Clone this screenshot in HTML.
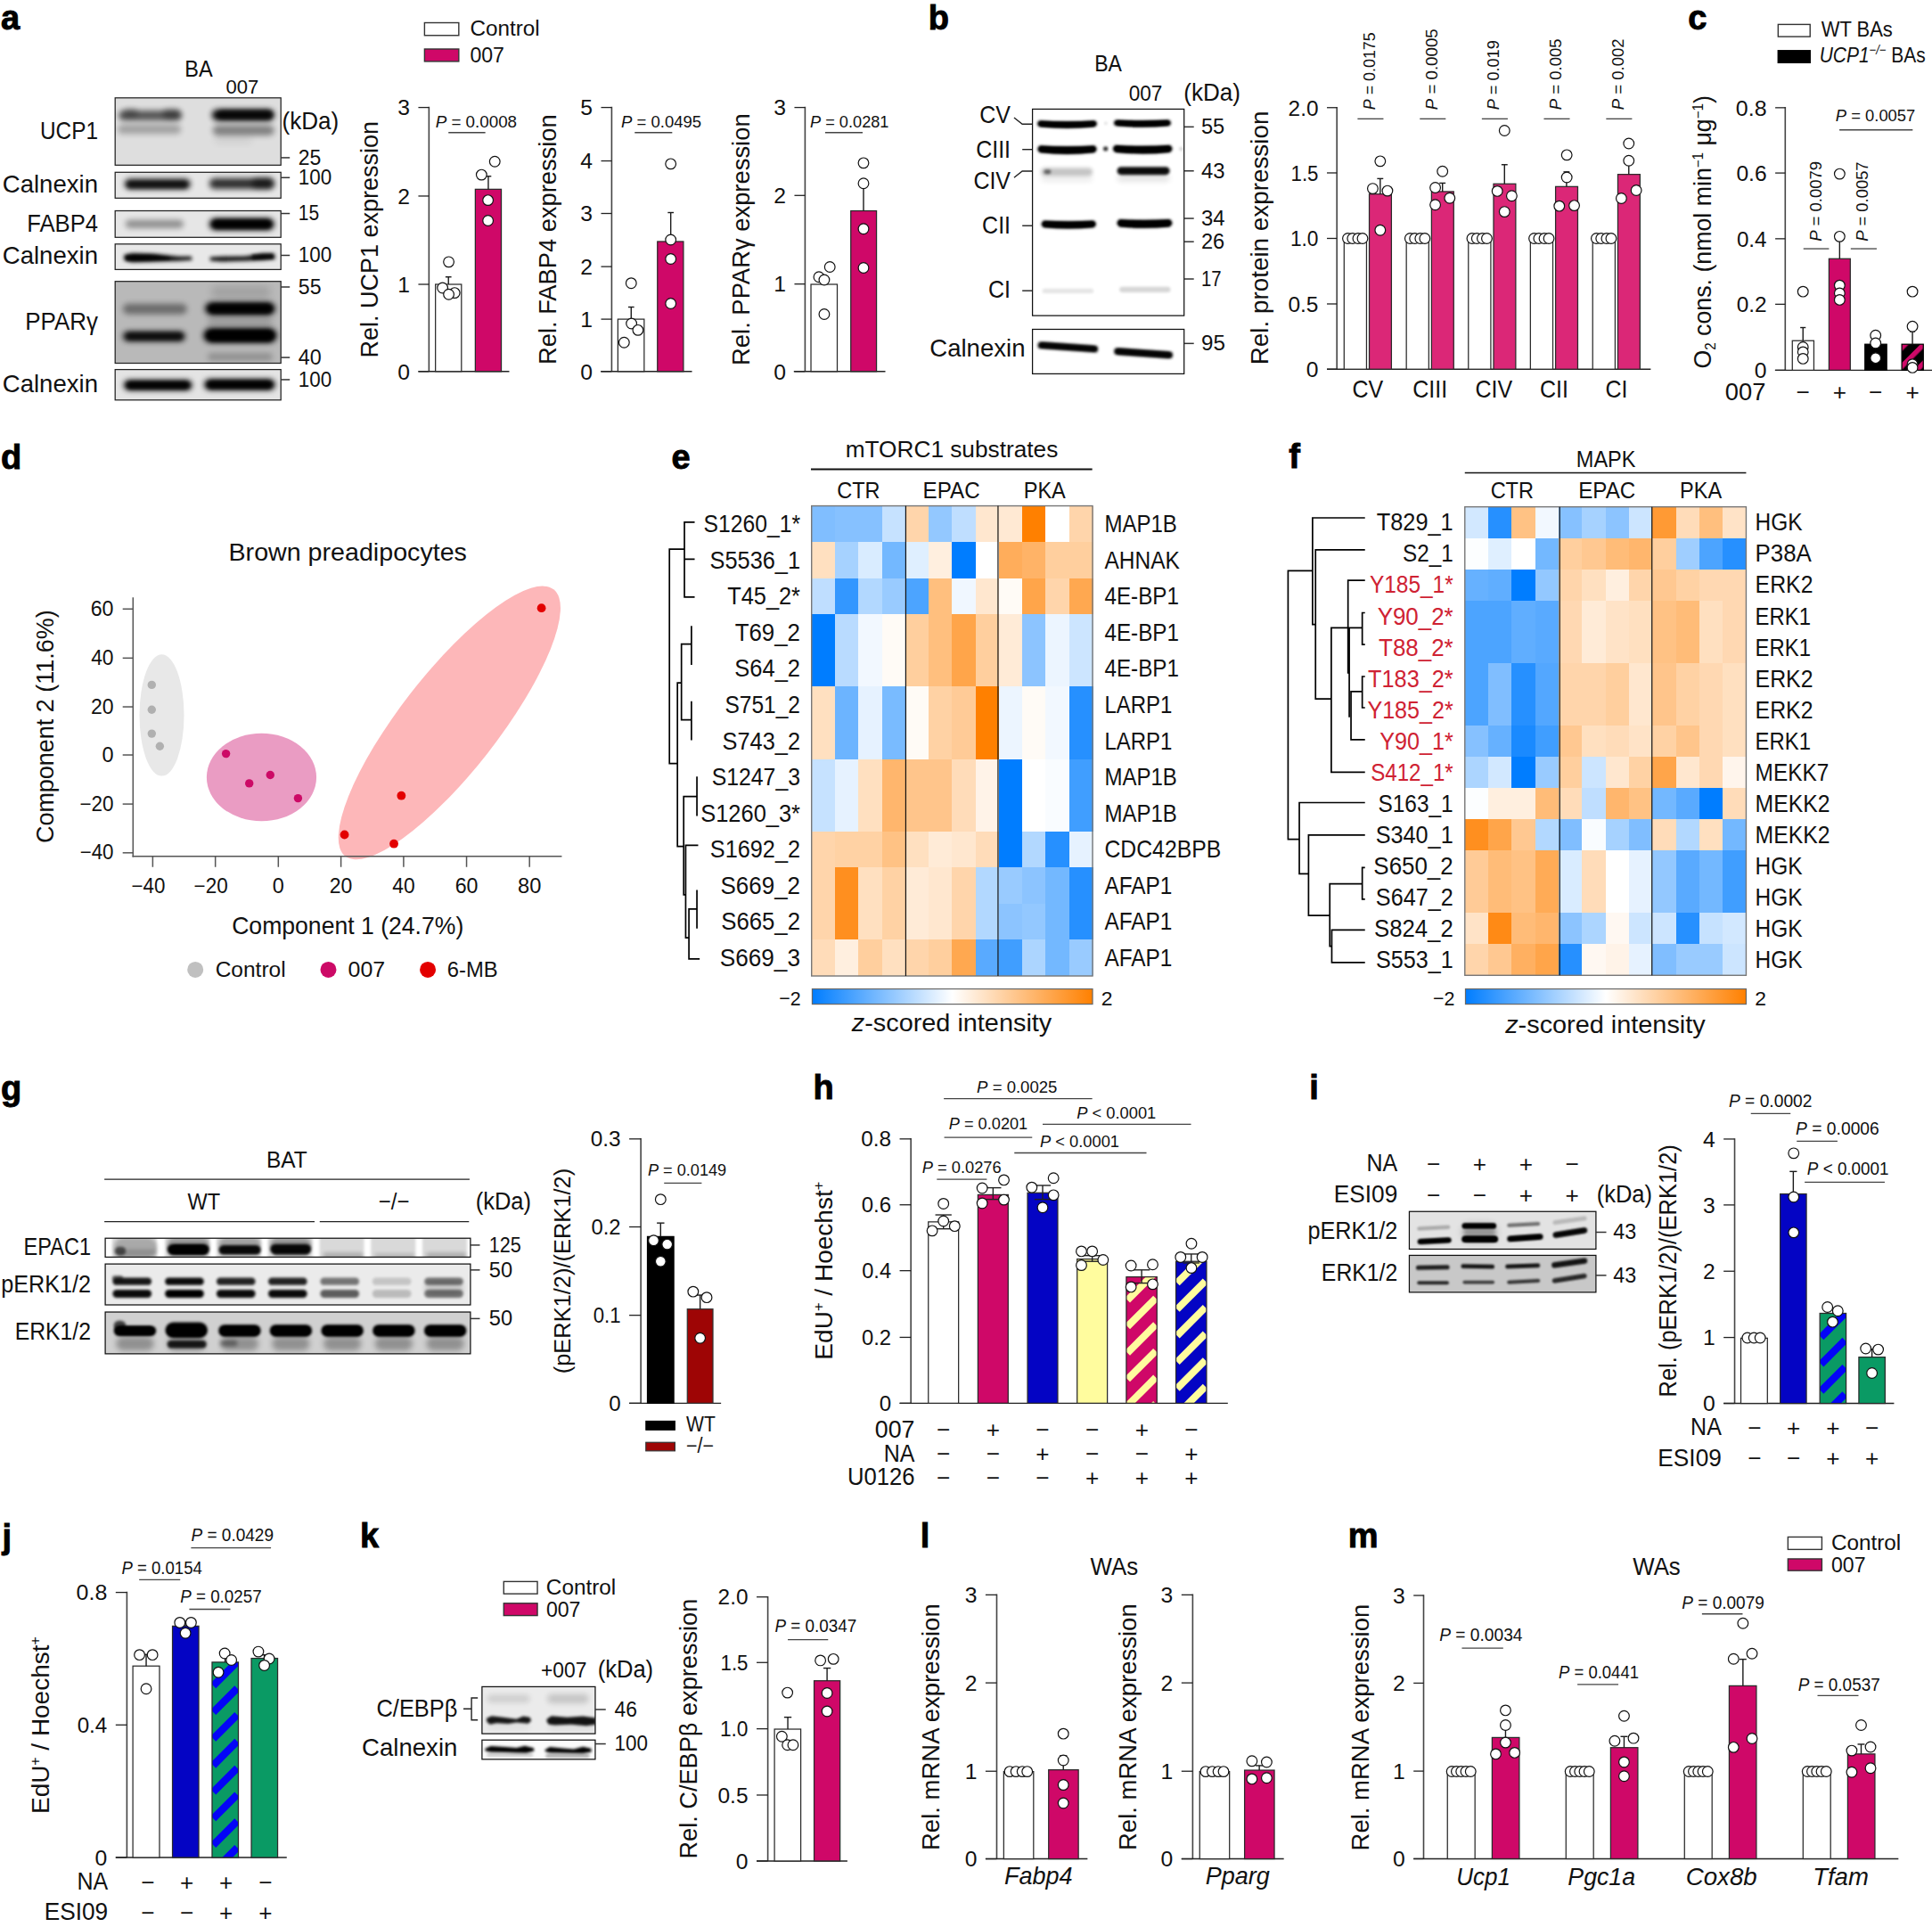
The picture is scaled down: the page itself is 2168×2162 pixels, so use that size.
<!DOCTYPE html>
<html><head><meta charset="utf-8"><title>Figure</title>
<style>html,body{margin:0;padding:0;background:#fff}svg{display:block}text{font-family:"Liberation Sans",sans-serif}</style></head>
<body>
<svg width="2168" height="2162" viewBox="0 0 2168 2162">
<rect width="2168" height="2162" fill="#fff"/>
<defs>
<filter id="b0" x="-30%" y="-80%" width="160%" height="260%"><feGaussianBlur stdDeviation="0.8"/></filter>
<filter id="b1" x="-30%" y="-80%" width="160%" height="260%"><feGaussianBlur stdDeviation="1.5"/></filter>
<filter id="b2" x="-30%" y="-80%" width="160%" height="260%"><feGaussianBlur stdDeviation="2.2"/></filter>
<filter id="b3" x="-30%" y="-80%" width="160%" height="260%"><feGaussianBlur stdDeviation="3.0"/></filter>
<filter id="b4" x="-30%" y="-80%" width="160%" height="260%"><feGaussianBlur stdDeviation="4.0"/></filter>
<clipPath id="c1"><rect x="129.2" y="109.8" width="186" height="75.5"/></clipPath>
<clipPath id="c2"><rect x="129.2" y="193.3" width="186" height="29"/></clipPath>
<clipPath id="c3"><rect x="129.2" y="236.5" width="186" height="29.8"/></clipPath>
<clipPath id="c4"><rect x="129.2" y="273.8" width="186" height="28.6"/></clipPath>
<clipPath id="c5"><rect x="129.2" y="315.7" width="186" height="91.8"/></clipPath>
<clipPath id="c6"><rect x="129.2" y="414.6" width="186" height="34.2"/></clipPath>
<clipPath id="c7"><rect x="1158.59" y="122.41" width="170.12" height="231.71"/></clipPath>
<clipPath id="c8"><rect x="1158.59" y="369.47" width="170.12" height="49.94"/></clipPath>
<pattern id="hbm" width="14.8" height="14.8" patternUnits="userSpaceOnUse" patternTransform="translate(2134.3 386.1) rotate(-45)"><rect width="14.8" height="14.8" fill="#000"/><rect y="0" width="14.8" height="5.5" fill="#cf0868"/></pattern>
<linearGradient id="cb" x1="0" x2="1" y1="0" y2="0"><stop offset="0" stop-color="#007dff"/><stop offset="0.5" stop-color="#ffffff"/><stop offset="1" stop-color="#ff8000"/></linearGradient>
<clipPath id="c9"><rect x="118.1" y="1389.23" width="409.8" height="21.18"/></clipPath>
<clipPath id="c10"><rect x="118.1" y="1418.12" width="409.8" height="45.89"/></clipPath>
<clipPath id="c11"><rect x="118.1" y="1472.03" width="409.8" height="46.85"/></clipPath>
<pattern id="hmy" width="20.9" height="20.9" patternUnits="userSpaceOnUse" patternTransform="translate(1264 1453.1) rotate(-45)"><rect width="20.9" height="20.9" fill="#cf0868"/><rect y="0" width="20.9" height="7.94" fill="#fffc9e"/></pattern>
<pattern id="hby" width="20.9" height="20.9" patternUnits="userSpaceOnUse" patternTransform="translate(1319.4 1433.8) rotate(-45)"><rect width="20.9" height="20.9" fill="#0404c4"/><rect y="0" width="20.9" height="7.94" fill="#fffc9e"/></pattern>
<clipPath id="hb1"><rect x="1263.91" y="1432.61" width="34.35" height="141.74"/></clipPath>
<clipPath id="hb2"><rect x="1319.57" y="1415.22" width="34.35" height="159.13"/></clipPath>
<clipPath id="c12"><rect x="1581.45" y="1359.26" width="209.46" height="42.2"/></clipPath>
<clipPath id="c13"><rect x="1581.45" y="1408.43" width="209.46" height="41.43"/></clipPath>
<pattern id="hgb" width="21.3" height="21.3" patternUnits="userSpaceOnUse" patternTransform="translate(2042 1494.5) rotate(-45)"><rect width="21.3" height="21.3" fill="#0a9a64"/><rect y="0" width="21.3" height="8.31" fill="#0404f8"/></pattern>
<clipPath id="hb3"><rect x="2042.17" y="1473.47" width="29.42" height="101.05"/></clipPath>
<pattern id="hgb2" width="21.1" height="21.1" patternUnits="userSpaceOnUse" patternTransform="translate(237.9 1885.4) rotate(-45)"><rect width="21.1" height="21.1" fill="#0a9a64"/><rect y="0" width="21.1" height="8.23" fill="#0404f8"/></pattern>
<clipPath id="hb4"><rect x="237.99" y="1864.89" width="29.5" height="219.11"/></clipPath>
<clipPath id="c14"><rect x="540.89" y="1892.42" width="127.06" height="52.71"/></clipPath>
<clipPath id="c15"><rect x="540.89" y="1952.22" width="127.06" height="21.64"/></clipPath>
</defs>
<text x="1" y="33" font-size="38" font-weight="bold" fill="#000" stroke="#000" stroke-width="0.9">a</text>
<text x="223" y="85.5" font-size="26.16" text-anchor="middle" fill="#111" textLength="31.38" lengthAdjust="spacingAndGlyphs">BA</text>
<text x="272" y="104.5" font-size="22.89" text-anchor="middle" fill="#111" textLength="36.79" lengthAdjust="spacingAndGlyphs">007</text>
<rect x="129.2" y="109.8" width="186" height="75.5" fill="#dedede"/>
<g clip-path="url(#c1)">
<rect x="133.05" y="123.95" width="71.06" height="11.23" rx="5.62" ry="5.62" fill="#000" opacity="0.62" filter="url(#b3)"/>
<rect x="138.81" y="122.36" width="15.36" height="8.26" rx="4.13" ry="4.13" fill="#000" opacity="0.3" filter="url(#b3)"/>
<rect x="182.98" y="122.5" width="19.21" height="9.91" rx="4.95" ry="4.95" fill="#000" opacity="0.35" filter="url(#b3)"/>
<rect x="132.09" y="139.82" width="71.06" height="10.41" rx="5.2" ry="5.2" fill="#000" opacity="0.27" filter="url(#b3)"/>
<rect x="237.72" y="122.72" width="70.1" height="12.72" rx="6.36" ry="6.36" fill="#000" opacity="0.95" filter="url(#b3)"/>
<rect x="244.44" y="123.48" width="61.46" height="10.24" rx="5.12" ry="5.12" fill="#000" opacity="0.6" filter="url(#b2)"/>
<rect x="238.68" y="140.49" width="69.14" height="11.56" rx="5.78" ry="5.78" fill="#000" opacity="0.42" filter="url(#b3)"/>
<rect x="240.6" y="153.92" width="42.25" height="6.61" rx="3.3" ry="3.3" fill="#000" opacity="0.08" filter="url(#b4)"/>
</g>
<rect x="129.2" y="109.8" width="186" height="75.5" fill="none" stroke="#222" stroke-width="1.25"/>
<rect x="129.2" y="193.3" width="186" height="29" fill="#e6e6e6"/>
<g clip-path="url(#c2)">
<rect x="139.77" y="200.77" width="73.94" height="11.23" rx="5.62" ry="5.62" fill="#000" opacity="0.9" filter="url(#b3)"/>
<rect x="142.65" y="203.92" width="67.22" height="7.43" rx="3.72" ry="3.72" fill="#000" opacity="0.5" filter="url(#b2)"/>
<rect x="234.83" y="200.05" width="72.98" height="11.89" rx="5.95" ry="5.95" fill="#000" opacity="0.8" filter="url(#b3)"/>
<rect x="282.85" y="200.34" width="24.01" height="10.74" rx="5.37" ry="5.37" fill="#000" opacity="0.5" filter="url(#b3)"/>
</g>
<rect x="129.2" y="193.3" width="186" height="29" fill="none" stroke="#222" stroke-width="1.25"/>
<rect x="129.2" y="236.5" width="186" height="29.8" fill="#e6e6e6"/>
<g clip-path="url(#c3)">
<rect x="140.73" y="246.7" width="65.3" height="9.25" rx="4.62" ry="4.62" fill="#000" opacity="0.38" filter="url(#b3)"/>
<rect x="234.83" y="245.08" width="72.98" height="12.88" rx="6.44" ry="6.44" fill="#000" opacity="1" filter="url(#b3)"/>
<rect x="238.68" y="246.73" width="65.3" height="9.58" rx="4.79" ry="4.79" fill="#000" opacity="0.8" filter="url(#b2)"/>
</g>
<rect x="129.2" y="236.5" width="186" height="29.8" fill="none" stroke="#222" stroke-width="1.25"/>
<rect x="129.2" y="273.8" width="186" height="28.6" fill="#e8e8e8"/>
<g clip-path="url(#c4)">
<polygon points="139.19,285.89 148.41,283.97 173.38,284.74 200.26,287.81 214.67,287.81 215.63,291.66 200.26,292.81 173.38,293.58 148.41,294.34 139.19,292.04" fill="#000" opacity="0.97" filter="url(#b2)"/>
<polygon points="141.69,286.66 167.62,285.89 190.66,288.97 190.66,291.27 167.62,292.42 141.69,292.81" fill="#000" opacity="0.6" filter="url(#b1)"/>
<polygon points="235.79,288.58 248.28,287.81 275.17,287.43 294.37,284.36 307.81,284.36 308.97,290.5 294.37,292.04 275.17,292.81 248.28,293.58 235.79,292.42" fill="#000" opacity="0.95" filter="url(#b2)"/>
<polygon points="282.85,285.51 305.89,285.13 306.85,290.5 282.85,291.27" fill="#000" opacity="0.6" filter="url(#b1)"/>
</g>
<rect x="129.2" y="273.8" width="186" height="28.6" fill="none" stroke="#222" stroke-width="1.25"/>
<rect x="129.2" y="315.7" width="186" height="91.8" fill="#b9b9b9"/>
<g clip-path="url(#c5)">
<rect x="137.85" y="340.64" width="72.02" height="11.89" rx="5.95" ry="5.95" fill="#000" opacity="0.42" filter="url(#b3)"/>
<rect x="137.85" y="371.7" width="70.1" height="11.23" rx="5.62" ry="5.62" fill="#000" opacity="0.9" filter="url(#b3)"/>
<rect x="142.65" y="373.35" width="61.46" height="7.93" rx="3.96" ry="3.96" fill="#000" opacity="0.5" filter="url(#b2)"/>
<rect x="230.03" y="339.26" width="78.74" height="13.87" rx="6.94" ry="6.94" fill="#000" opacity="1" filter="url(#b3)"/>
<rect x="234.83" y="340.91" width="70.1" height="10.57" rx="5.29" ry="5.29" fill="#000" opacity="0.8" filter="url(#b2)"/>
<rect x="228.11" y="368.26" width="82.58" height="16.19" rx="8.09" ry="8.09" fill="#000" opacity="1" filter="url(#b3)"/>
<rect x="232.91" y="370.42" width="73.94" height="12.06" rx="6.03" ry="6.03" fill="#000" opacity="0.9" filter="url(#b2)"/>
<rect x="232.91" y="396.06" width="72.98" height="8.59" rx="4.29" ry="4.29" fill="#000" opacity="0.22" filter="url(#b3)"/>
<rect x="236.75" y="320.65" width="67.22" height="14.04" rx="7.02" ry="7.02" fill="#000" opacity="0.12" filter="url(#b4)"/>
<rect x="232.91" y="355.84" width="72.98" height="9.91" rx="4.95" ry="4.95" fill="#000" opacity="0.15" filter="url(#b3)"/>
</g>
<rect x="129.2" y="315.7" width="186" height="91.8" fill="none" stroke="#222" stroke-width="1.25"/>
<rect x="129.2" y="414.6" width="186" height="34.2" fill="#e4e4e4"/>
<g clip-path="url(#c6)">
<rect x="138.81" y="426.61" width="76.82" height="11.07" rx="5.53" ry="5.53" fill="#000" opacity="1" filter="url(#b3)"/>
<rect x="142.65" y="428.27" width="69.14" height="7.93" rx="3.96" ry="3.96" fill="#000" opacity="0.8" filter="url(#b2)"/>
<rect x="229.07" y="425.54" width="79.7" height="12.06" rx="6.03" ry="6.03" fill="#000" opacity="1" filter="url(#b3)"/>
<rect x="232.91" y="427.2" width="72.02" height="8.92" rx="4.46" ry="4.46" fill="#000" opacity="0.8" filter="url(#b2)"/>
</g>
<rect x="129.2" y="414.6" width="186" height="34.2" fill="none" stroke="#222" stroke-width="1.25"/>
<text x="110" y="156.42" font-size="27.8" text-anchor="end" fill="#111" textLength="64.96" lengthAdjust="spacingAndGlyphs">UCP1</text>
<text x="110" y="215.96" font-size="27.8" text-anchor="end" fill="#111" textLength="107.27" lengthAdjust="spacingAndGlyphs">Calnexin</text>
<text x="110" y="259.84" font-size="27.8" text-anchor="end" fill="#111" textLength="79.74" lengthAdjust="spacingAndGlyphs">FABP4</text>
<text x="110" y="295.9" font-size="27.8" text-anchor="end" fill="#111" textLength="107.27" lengthAdjust="spacingAndGlyphs">Calnexin</text>
<text x="110" y="370.24" font-size="27.8" text-anchor="end" fill="#111" textLength="81.7" lengthAdjust="spacingAndGlyphs">PPARγ</text>
<text x="110" y="439.56" font-size="27.8" text-anchor="end" fill="#111" textLength="107.27" lengthAdjust="spacingAndGlyphs">Calnexin</text>
<text x="316.5" y="145.34" font-size="27.25" fill="#111" textLength="63.68" lengthAdjust="spacingAndGlyphs">(kDa)</text>
<line x1="315.2" y1="176.93" x2="325.2" y2="176.93" stroke="#333" stroke-width="1.5"/>
<text x="334.84" y="184.73" font-size="23.98" fill="#111" textLength="25.57" lengthAdjust="spacingAndGlyphs">25</text>
<line x1="315.2" y1="199.29" x2="325.2" y2="199.29" stroke="#333" stroke-width="1.5"/>
<text x="334.84" y="207.09" font-size="23.98" fill="#111" textLength="37.44" lengthAdjust="spacingAndGlyphs">100</text>
<line x1="315.2" y1="239.53" x2="325.2" y2="239.53" stroke="#333" stroke-width="1.5"/>
<text x="334.84" y="247.33" font-size="23.98" fill="#111" textLength="23.37" lengthAdjust="spacingAndGlyphs">15</text>
<line x1="315.2" y1="286.49" x2="325.2" y2="286.49" stroke="#333" stroke-width="1.5"/>
<text x="334.84" y="294.29" font-size="23.98" fill="#111" textLength="37.44" lengthAdjust="spacingAndGlyphs">100</text>
<line x1="315.2" y1="321.99" x2="325.2" y2="321.99" stroke="#333" stroke-width="1.5"/>
<text x="334.84" y="329.79" font-size="23.98" fill="#111" textLength="25.7" lengthAdjust="spacingAndGlyphs">55</text>
<line x1="315.2" y1="401.09" x2="325.2" y2="401.09" stroke="#333" stroke-width="1.5"/>
<text x="334.84" y="408.89" font-size="23.98" fill="#111" textLength="25.94" lengthAdjust="spacingAndGlyphs">40</text>
<line x1="315.2" y1="425.96" x2="325.2" y2="425.96" stroke="#333" stroke-width="1.5"/>
<text x="334.84" y="433.76" font-size="23.98" fill="#111" textLength="37.44" lengthAdjust="spacingAndGlyphs">100</text>
<rect x="476.4" y="25.51" width="38.43" height="14.24" fill="#fff" stroke="#333" stroke-width="1.4"/>
<text x="527.41" y="39.75" font-size="23.98" fill="#111" textLength="78.3" lengthAdjust="spacingAndGlyphs">Control</text>
<rect x="476.4" y="54.99" width="38.43" height="13.91" fill="#cf0868" stroke="#333" stroke-width="1.4"/>
<text x="527.41" y="70.23" font-size="23.98" fill="#111" textLength="38.54" lengthAdjust="spacingAndGlyphs">007</text>
<line x1="481.37" y1="119.78" x2="481.37" y2="416.73" stroke="#444" stroke-width="1.6"/>
<line x1="469.44" y1="120.58" x2="481.37" y2="120.58" stroke="#222" stroke-width="1.3"/>
<text x="459.94" y="129.35" font-size="24.7" text-anchor="end" fill="#111">3</text>
<line x1="469.44" y1="219.96" x2="481.37" y2="219.96" stroke="#222" stroke-width="1.3"/>
<text x="459.94" y="228.73" font-size="24.7" text-anchor="end" fill="#111">2</text>
<line x1="469.44" y1="319.01" x2="481.37" y2="319.01" stroke="#222" stroke-width="1.3"/>
<text x="459.94" y="327.77" font-size="24.7" text-anchor="end" fill="#111">1</text>
<line x1="469.44" y1="416.73" x2="481.37" y2="416.73" stroke="#222" stroke-width="1.3"/>
<text x="459.94" y="425.5" font-size="24.7" text-anchor="end" fill="#111">0</text>
<line x1="469.44" y1="416.73" x2="571.47" y2="416.73" stroke="#222" stroke-width="1.4"/>
<text x="0" y="0" font-size="28.34" text-anchor="middle" fill="#111" textLength="265.54" lengthAdjust="spacingAndGlyphs" transform="translate(424.06 268.65) rotate(-90)">Rel. UCP1 expression</text>
<text x="488.65" y="143.11" font-size="19.09" fill="#111" textLength="91.44" lengthAdjust="spacingAndGlyphs"><tspan font-style="italic">P</tspan> = 0.0008</text>
<line x1="503.23" y1="148.74" x2="544.64" y2="148.74" stroke="#444" stroke-width="1.3"/>
<rect x="488.65" y="319.01" width="29.15" height="97.72" fill="#fff" stroke="#2a2a2a" stroke-width="1.25"/>
<line x1="503.23" y1="319.01" x2="503.23" y2="310.72" stroke="#1a1a1a" stroke-width="1.4"/>
<line x1="499.88" y1="310.72" x2="506.58" y2="310.72" stroke="#1a1a1a" stroke-width="1.4"/>
<circle cx="503.56" cy="293.83" r="5.85" fill="#fff" stroke="#111" stroke-width="1.2"/>
<circle cx="496.6" cy="322.98" r="5.85" fill="#fff" stroke="#111" stroke-width="1.2"/>
<circle cx="510.19" cy="328.61" r="5.85" fill="#fff" stroke="#111" stroke-width="1.2"/>
<circle cx="503.56" cy="330.27" r="5.85" fill="#fff" stroke="#111" stroke-width="1.2"/>
<rect x="533.37" y="212.34" width="29.15" height="204.39" fill="#cf0868" stroke="#2a2a2a" stroke-width="1.25"/>
<line x1="547.95" y1="212.34" x2="547.95" y2="197.76" stroke="#1a1a1a" stroke-width="1.4"/>
<line x1="544.6" y1="197.76" x2="551.3" y2="197.76" stroke="#1a1a1a" stroke-width="1.4"/>
<circle cx="555.24" cy="181.2" r="5.85" fill="#fff" stroke="#111" stroke-width="1.2"/>
<circle cx="540.33" cy="196.11" r="5.85" fill="#fff" stroke="#111" stroke-width="1.2"/>
<circle cx="547.62" cy="224.6" r="5.85" fill="#fff" stroke="#111" stroke-width="1.2"/>
<circle cx="547.62" cy="247.45" r="5.85" fill="#fff" stroke="#111" stroke-width="1.2"/>
<line x1="686.42" y1="119.78" x2="686.42" y2="416.73" stroke="#444" stroke-width="1.6"/>
<line x1="674.49" y1="120.58" x2="686.42" y2="120.58" stroke="#222" stroke-width="1.3"/>
<text x="664.99" y="129.35" font-size="24.7" text-anchor="end" fill="#111">5</text>
<line x1="674.49" y1="180.54" x2="686.42" y2="180.54" stroke="#222" stroke-width="1.3"/>
<text x="664.99" y="189.31" font-size="24.7" text-anchor="end" fill="#111">4</text>
<line x1="674.49" y1="239.5" x2="686.42" y2="239.5" stroke="#222" stroke-width="1.3"/>
<text x="664.99" y="248.27" font-size="24.7" text-anchor="end" fill="#111">3</text>
<line x1="674.49" y1="299.13" x2="686.42" y2="299.13" stroke="#222" stroke-width="1.3"/>
<text x="664.99" y="307.9" font-size="24.7" text-anchor="end" fill="#111">2</text>
<line x1="674.49" y1="358.1" x2="686.42" y2="358.1" stroke="#222" stroke-width="1.3"/>
<text x="664.99" y="366.86" font-size="24.7" text-anchor="end" fill="#111">1</text>
<line x1="674.49" y1="416.73" x2="686.42" y2="416.73" stroke="#222" stroke-width="1.3"/>
<text x="664.99" y="425.5" font-size="24.7" text-anchor="end" fill="#111">0</text>
<line x1="674.16" y1="416.73" x2="776.52" y2="416.73" stroke="#222" stroke-width="1.4"/>
<text x="0" y="0" font-size="28.34" text-anchor="middle" fill="#111" textLength="280.6" lengthAdjust="spacingAndGlyphs" transform="translate(624.47 268.65) rotate(-90)">Rel. FABP4 expression</text>
<text x="697.02" y="143.11" font-size="19.09" fill="#111" textLength="90.14" lengthAdjust="spacingAndGlyphs"><tspan font-style="italic">P</tspan> = 0.0495</text>
<line x1="712.26" y1="148.74" x2="754.33" y2="148.74" stroke="#444" stroke-width="1.3"/>
<rect x="693.37" y="358.1" width="29.48" height="58.63" fill="#fff" stroke="#2a2a2a" stroke-width="1.25"/>
<line x1="708.28" y1="358.1" x2="708.28" y2="344.51" stroke="#1a1a1a" stroke-width="1.4"/>
<line x1="704.93" y1="344.51" x2="711.63" y2="344.51" stroke="#1a1a1a" stroke-width="1.4"/>
<circle cx="708.28" cy="317.68" r="5.85" fill="#fff" stroke="#111" stroke-width="1.2"/>
<circle cx="708.61" cy="363.06" r="5.85" fill="#fff" stroke="#111" stroke-width="1.2"/>
<circle cx="715.9" cy="370.35" r="5.85" fill="#fff" stroke="#111" stroke-width="1.2"/>
<circle cx="700.33" cy="384.27" r="5.85" fill="#fff" stroke="#111" stroke-width="1.2"/>
<rect x="737.76" y="270.97" width="29.15" height="145.76" fill="#cf0868" stroke="#2a2a2a" stroke-width="1.25"/>
<line x1="752.67" y1="270.97" x2="752.67" y2="238.51" stroke="#1a1a1a" stroke-width="1.4"/>
<line x1="749.32" y1="238.51" x2="756.02" y2="238.51" stroke="#1a1a1a" stroke-width="1.4"/>
<circle cx="752.67" cy="183.85" r="5.85" fill="#fff" stroke="#111" stroke-width="1.2"/>
<circle cx="752.67" cy="268.99" r="5.85" fill="#fff" stroke="#111" stroke-width="1.2"/>
<circle cx="752.67" cy="290.52" r="5.85" fill="#fff" stroke="#111" stroke-width="1.2"/>
<circle cx="752.67" cy="340.54" r="5.85" fill="#fff" stroke="#111" stroke-width="1.2"/>
<line x1="903.4" y1="119.78" x2="903.4" y2="416.73" stroke="#444" stroke-width="1.6"/>
<line x1="891.47" y1="120.58" x2="903.4" y2="120.58" stroke="#222" stroke-width="1.3"/>
<text x="881.97" y="129.35" font-size="24.7" text-anchor="end" fill="#111">3</text>
<line x1="891.47" y1="219.3" x2="903.4" y2="219.3" stroke="#222" stroke-width="1.3"/>
<text x="881.97" y="228.06" font-size="24.7" text-anchor="end" fill="#111">2</text>
<line x1="891.47" y1="318.67" x2="903.4" y2="318.67" stroke="#222" stroke-width="1.3"/>
<text x="881.97" y="327.44" font-size="24.7" text-anchor="end" fill="#111">1</text>
<line x1="891.47" y1="416.73" x2="903.4" y2="416.73" stroke="#222" stroke-width="1.3"/>
<text x="881.97" y="425.5" font-size="24.7" text-anchor="end" fill="#111">0</text>
<line x1="890.81" y1="416.73" x2="993.5" y2="416.73" stroke="#222" stroke-width="1.4"/>
<text x="0" y="0" font-size="28.34" text-anchor="middle" fill="#111" textLength="282.6" lengthAdjust="spacingAndGlyphs" transform="translate(841.12 268.65) rotate(-90)">Rel. PPARγ expression</text>
<text x="909.03" y="143.11" font-size="19.09" fill="#111" textLength="88.44" lengthAdjust="spacingAndGlyphs"><tspan font-style="italic">P</tspan> = 0.0281</text>
<line x1="925.92" y1="148.74" x2="967.99" y2="148.74" stroke="#444" stroke-width="1.3"/>
<rect x="910.02" y="319.01" width="29.48" height="97.72" fill="#fff" stroke="#2a2a2a" stroke-width="1.25"/>
<circle cx="931.22" cy="299.46" r="5.85" fill="#fff" stroke="#111" stroke-width="1.2"/>
<circle cx="918.96" cy="310.72" r="5.85" fill="#fff" stroke="#111" stroke-width="1.2"/>
<circle cx="924.93" cy="314.04" r="5.85" fill="#fff" stroke="#111" stroke-width="1.2"/>
<circle cx="924.93" cy="352.46" r="5.85" fill="#fff" stroke="#111" stroke-width="1.2"/>
<rect x="954.74" y="236.52" width="28.82" height="180.21" fill="#cf0868" stroke="#2a2a2a" stroke-width="1.25"/>
<line x1="968.99" y1="236.52" x2="968.99" y2="208.7" stroke="#1a1a1a" stroke-width="1.4"/>
<line x1="965.63" y1="208.7" x2="972.34" y2="208.7" stroke="#1a1a1a" stroke-width="1.4"/>
<circle cx="968.99" cy="182.86" r="5.85" fill="#fff" stroke="#111" stroke-width="1.2"/>
<circle cx="968.99" cy="205.71" r="5.85" fill="#fff" stroke="#111" stroke-width="1.2"/>
<circle cx="968.99" cy="256.73" r="5.85" fill="#fff" stroke="#111" stroke-width="1.2"/>
<circle cx="968.99" cy="300.46" r="5.85" fill="#fff" stroke="#111" stroke-width="1.2"/>
<text x="1041.8" y="32.98" font-size="38" font-weight="bold" fill="#000" stroke="#000" stroke-width="0.9">b</text>
<text x="1243.6" y="80.22" font-size="25.62" text-anchor="middle" fill="#111" textLength="30.72" lengthAdjust="spacingAndGlyphs">BA</text>
<text x="1285.53" y="113.2" font-size="23.44" text-anchor="middle" fill="#111" textLength="37.67" lengthAdjust="spacingAndGlyphs">007</text>
<text x="1328.29" y="113.2" font-size="27.25" fill="#111" textLength="63.68" lengthAdjust="spacingAndGlyphs">(kDa)</text>
<rect x="1158.59" y="122.41" width="170.12" height="231.71" fill="#fff"/>
<g clip-path="url(#c7)">
<path d="M1166.18 135.29 Q1197.5 136.99 1228.82 135.29 Q1233.41 138.82 1228.82 142.35 Q1197.5 145.18 1166.18 142.35 Q1161.59 138.82 1166.18 135.29 Z" fill="#000" opacity="1" filter="url(#b1)"/>
<path d="M1168.03 136.18 Q1197.5 137.87 1226.97 136.18 Q1230.53 138.91 1226.97 141.65 Q1197.5 144.47 1168.03 141.65 Q1164.47 138.91 1168.03 136.18 Z" fill="#000" opacity="0.9" filter="url(#b0)"/>
<path d="M1251.94 134.59 Q1281.94 136.07 1311.94 134.59 Q1316.3 137.94 1311.94 141.29 Q1281.94 143.76 1251.94 141.29 Q1247.58 137.94 1251.94 134.59 Z" fill="#000" opacity="1" filter="url(#b1)"/>
<path d="M1254.41 135.29 Q1282.21 136.78 1310 135.29 Q1313.44 137.94 1310 140.59 Q1282.21 143.06 1254.41 140.59 Q1250.97 137.94 1254.41 135.29 Z" fill="#000" opacity="0.9" filter="url(#b0)"/>
<path d="M1166.71 163.18 Q1197.5 165.08 1228.29 163.18 Q1233.57 167.24 1228.29 171.29 Q1197.5 174.47 1166.71 171.29 Q1161.43 167.24 1166.71 163.18 Z" fill="#000" opacity="1" filter="url(#b1)"/>
<path d="M1168.21 164.41 Q1197.5 166.32 1226.79 164.41 Q1230.58 167.32 1226.79 170.24 Q1197.5 173.41 1168.21 170.24 Q1164.42 167.32 1168.21 164.41 Z" fill="#000" opacity="0.9" filter="url(#b0)"/>
<path d="M1251.41 162.82 Q1282.21 164.73 1313 162.82 Q1318.28 166.88 1313 170.94 Q1282.21 174.12 1251.41 170.94 Q1246.14 166.88 1251.41 162.82 Z" fill="#000" opacity="1" filter="url(#b1)"/>
<path d="M1253 163.88 Q1282.21 165.79 1311.41 163.88 Q1315.31 166.88 1311.41 169.88 Q1282.21 173.06 1253 169.88 Q1249.1 166.88 1253 163.88 Z" fill="#000" opacity="0.9" filter="url(#b0)"/>
<rect x="1238" y="164.59" width="5.29" height="4.94" rx="2.47" ry="2.47" fill="#000" opacity="0.9" filter="url(#b1)"/>
<rect x="1239.06" y="136.71" width="3.53" height="3.18" rx="1.59" ry="1.59" fill="#000" opacity="0.15" filter="url(#b1)"/>
<rect x="1323.24" y="164.94" width="4.41" height="4.24" rx="2.12" ry="2.12" fill="#000" opacity="0.2" filter="url(#b1)"/>
<rect x="1167.94" y="188.24" width="58.24" height="8.82" rx="4.41" ry="4.41" fill="#000" opacity="0.22" filter="url(#b2)"/>
<rect x="1171.47" y="190.35" width="7.94" height="4.94" rx="2.47" ry="2.47" fill="#000" opacity="0.5" filter="url(#b1)"/>
<rect x="1167.94" y="195.29" width="58.24" height="8.82" rx="4.41" ry="4.41" fill="#000" opacity="0.07" filter="url(#b3)"/>
<rect x="1253.53" y="187.18" width="59.12" height="9" rx="4.5" ry="4.5" fill="#000" opacity="0.95" filter="url(#b1)"/>
<rect x="1253.53" y="195.29" width="59.12" height="8.82" rx="4.41" ry="4.41" fill="#000" opacity="0.1" filter="url(#b3)"/>
<path d="M1170.94 247.53 Q1199.26 249.01 1227.59 247.53 Q1232.64 251.41 1227.59 255.29 Q1199.26 257.76 1170.94 255.29 Q1165.89 251.41 1170.94 247.53 Z" fill="#000" opacity="1" filter="url(#b1)"/>
<path d="M1172.53 248.59 Q1199.26 250.07 1226 248.59 Q1229.67 251.41 1226 254.24 Q1199.26 256.71 1172.53 254.24 Q1168.86 251.41 1172.53 248.59 Z" fill="#000" opacity="0.9" filter="url(#b0)"/>
<path d="M1256 246.12 Q1284.41 247.6 1312.82 246.12 Q1318.33 250.35 1312.82 254.59 Q1284.41 257.06 1256 254.59 Q1250.49 250.35 1256 246.12 Z" fill="#000" opacity="1" filter="url(#b1)"/>
<path d="M1257.59 247.18 Q1284.41 248.66 1311.24 247.18 Q1315.36 250.35 1311.24 253.53 Q1284.41 256 1257.59 253.53 Q1253.46 250.35 1257.59 247.18 Z" fill="#000" opacity="0.9" filter="url(#b0)"/>
<rect x="1169.71" y="323.76" width="57.35" height="5.29" rx="2.65" ry="2.65" fill="#000" opacity="0.1" filter="url(#b1)"/>
<rect x="1256.18" y="321.65" width="57.35" height="6.35" rx="3.18" ry="3.18" fill="#000" opacity="0.16" filter="url(#b1)"/>
</g>
<rect x="1158.59" y="122.41" width="170.12" height="231.71" fill="none" stroke="#111" stroke-width="1.25"/>
<rect x="1158.59" y="369.47" width="170.12" height="49.94" fill="#fff"/>
<g clip-path="url(#c8)">
<rect x="1164.41" y="385.53" width="67.94" height="7.76" rx="3.88" ry="3.88" fill="#000" opacity="0.95" filter="url(#b1)" transform="rotate(4 1198.38 389.41)"/>
<rect x="1167.06" y="386.59" width="62.65" height="5.65" rx="2.82" ry="2.82" fill="#000" opacity="0.7" filter="url(#b0)" transform="rotate(4 1198.38 389.41)"/>
<rect x="1250" y="392.24" width="66.18" height="8.12" rx="4.06" ry="4.06" fill="#000" opacity="0.95" filter="url(#b1)" transform="rotate(4 1283.09 396.29)"/>
<rect x="1252.65" y="393.29" width="60.88" height="6" rx="3" ry="3" fill="#000" opacity="0.7" filter="url(#b0)" transform="rotate(4 1283.09 396.29)"/>
</g>
<rect x="1158.59" y="369.47" width="170.12" height="49.94" fill="none" stroke="#111" stroke-width="1.25"/>
<line x1="1328.71" y1="142.35" x2="1339.71" y2="142.35" stroke="#333" stroke-width="1.5"/>
<text x="1347.94" y="150.35" font-size="24.53" fill="#111" textLength="26.28" lengthAdjust="spacingAndGlyphs">55</text>
<line x1="1328.71" y1="191.76" x2="1339.71" y2="191.76" stroke="#333" stroke-width="1.5"/>
<text x="1347.94" y="199.76" font-size="24.53" fill="#111" textLength="26.53" lengthAdjust="spacingAndGlyphs">43</text>
<line x1="1328.71" y1="245.06" x2="1339.71" y2="245.06" stroke="#333" stroke-width="1.5"/>
<text x="1347.94" y="253.06" font-size="24.53" fill="#111" textLength="26.53" lengthAdjust="spacingAndGlyphs">34</text>
<line x1="1328.71" y1="271.18" x2="1339.71" y2="271.18" stroke="#333" stroke-width="1.5"/>
<text x="1347.94" y="279.18" font-size="24.53" fill="#111" textLength="26.28" lengthAdjust="spacingAndGlyphs">26</text>
<line x1="1328.71" y1="313" x2="1339.71" y2="313" stroke="#333" stroke-width="1.5"/>
<text x="1347.94" y="321" font-size="24.53" fill="#111" textLength="22.65" lengthAdjust="spacingAndGlyphs">17</text>
<line x1="1328.71" y1="385.35" x2="1339.71" y2="385.35" stroke="#333" stroke-width="1.5"/>
<text x="1347.94" y="393.35" font-size="24.53" fill="#111" textLength="26.9" lengthAdjust="spacingAndGlyphs">95</text>
<text x="1134.04" y="137.52" font-size="27.8" text-anchor="end" fill="#111" textLength="34.72" lengthAdjust="spacingAndGlyphs">CV</text>
<text x="1134.04" y="176.65" font-size="27.8" text-anchor="end" fill="#111" textLength="38.88" lengthAdjust="spacingAndGlyphs">CIII</text>
<text x="1134.04" y="212.42" font-size="27.8" text-anchor="end" fill="#111" textLength="41.66" lengthAdjust="spacingAndGlyphs">CIV</text>
<text x="1134.04" y="261.89" font-size="27.8" text-anchor="end" fill="#111" textLength="31.93" lengthAdjust="spacingAndGlyphs">CII</text>
<text x="1134.04" y="334.01" font-size="27.8" text-anchor="end" fill="#111" textLength="24.99" lengthAdjust="spacingAndGlyphs">CI</text>
<text x="1150.53" y="400.25" font-size="27.8" text-anchor="end" fill="#111" textLength="107.27" lengthAdjust="spacingAndGlyphs">Calnexin</text>
<path d="M1137.95 131.93 L1147.17 139.19 L1158.35 139.19" fill="none" stroke="#222" stroke-width="1.4"/>
<path d="M1147.17 167.7 L1158.35 167.7" fill="none" stroke="#222" stroke-width="1.4"/>
<path d="M1137.95 199.29 L1147.17 192.02 L1158.35 192.02" fill="none" stroke="#222" stroke-width="1.4"/>
<path d="M1147.17 253.23 L1158.35 253.23" fill="none" stroke="#222" stroke-width="1.4"/>
<path d="M1147.17 326.18 L1158.35 326.18" fill="none" stroke="#222" stroke-width="1.4"/>
<line x1="1500.19" y1="119.95" x2="1500.19" y2="414.22" stroke="#444" stroke-width="1.6"/>
<line x1="1489.01" y1="120.75" x2="1500.19" y2="120.75" stroke="#222" stroke-width="1.3"/>
<text x="1479.51" y="129.51" font-size="24.7" text-anchor="end" fill="#111" textLength="33.93" lengthAdjust="spacingAndGlyphs">2.0</text>
<line x1="1489.01" y1="193.98" x2="1500.19" y2="193.98" stroke="#222" stroke-width="1.3"/>
<text x="1479.51" y="202.74" font-size="24.7" text-anchor="end" fill="#111" textLength="30.97" lengthAdjust="spacingAndGlyphs">1.5</text>
<line x1="1489.01" y1="267.48" x2="1500.19" y2="267.48" stroke="#222" stroke-width="1.3"/>
<text x="1479.51" y="276.25" font-size="24.7" text-anchor="end" fill="#111" textLength="31.62" lengthAdjust="spacingAndGlyphs">1.0</text>
<line x1="1489.01" y1="340.99" x2="1500.19" y2="340.99" stroke="#222" stroke-width="1.3"/>
<text x="1479.51" y="349.76" font-size="24.7" text-anchor="end" fill="#111" textLength="34.06" lengthAdjust="spacingAndGlyphs">0.5</text>
<line x1="1489.01" y1="414.22" x2="1500.19" y2="414.22" stroke="#222" stroke-width="1.3"/>
<text x="1479.51" y="422.99" font-size="24.7" text-anchor="end" fill="#111">0</text>
<line x1="1489.01" y1="414.22" x2="1852.36" y2="414.22" stroke="#222" stroke-width="1.4"/>
<text x="0" y="0" font-size="28.34" text-anchor="middle" fill="#111" textLength="284.67" lengthAdjust="spacingAndGlyphs" transform="translate(1423.32 266.93) rotate(-90)">Rel. protein expression</text>
<rect x="1508.29" y="267.48" width="25.16" height="146.74" fill="#fff" stroke="#2a2a2a" stroke-width="1.25"/>
<rect x="1536.52" y="217.73" width="24.88" height="196.49" fill="#db2777" stroke="#2a2a2a" stroke-width="1.25"/>
<line x1="1548.82" y1="217.73" x2="1548.82" y2="200.4" stroke="#1a1a1a" stroke-width="1.4"/>
<line x1="1545.38" y1="200.4" x2="1552.26" y2="200.4" stroke="#1a1a1a" stroke-width="1.4"/>
<circle cx="1512.48" cy="267.48" r="5.85" fill="#fff" stroke="#111" stroke-width="1.2"/>
<circle cx="1517.8" cy="267.48" r="5.85" fill="#fff" stroke="#111" stroke-width="1.2"/>
<circle cx="1523.94" cy="267.48" r="5.85" fill="#fff" stroke="#111" stroke-width="1.2"/>
<circle cx="1528.98" cy="267.48" r="5.85" fill="#fff" stroke="#111" stroke-width="1.2"/>
<circle cx="1548.82" cy="180.84" r="5.85" fill="#fff" stroke="#111" stroke-width="1.2"/>
<circle cx="1540.43" cy="211.58" r="5.85" fill="#fff" stroke="#111" stroke-width="1.2"/>
<circle cx="1556.93" cy="214.1" r="5.85" fill="#fff" stroke="#111" stroke-width="1.2"/>
<circle cx="1548.82" cy="258.26" r="5.85" fill="#fff" stroke="#111" stroke-width="1.2"/>
<line x1="1523.39" y1="133.32" x2="1552.45" y2="133.32" stroke="#444" stroke-width="1.3"/>
<text x="0" y="0" font-size="19.09" fill="#111" textLength="87.03" lengthAdjust="spacingAndGlyphs" transform="translate(1542.67 123.26) rotate(-90)"><tspan font-style="italic">P</tspan> = 0.0175</text>
<text x="1534.84" y="445.81" font-size="27.8" text-anchor="middle" fill="#111" textLength="34.72" lengthAdjust="spacingAndGlyphs">CV</text>
<rect x="1578.17" y="267.48" width="25.16" height="146.74" fill="#fff" stroke="#2a2a2a" stroke-width="1.25"/>
<rect x="1606.4" y="214.94" width="24.88" height="199.29" fill="#db2777" stroke="#2a2a2a" stroke-width="1.25"/>
<line x1="1618.7" y1="214.94" x2="1618.7" y2="205.43" stroke="#1a1a1a" stroke-width="1.4"/>
<line x1="1615.25" y1="205.43" x2="1622.14" y2="205.43" stroke="#1a1a1a" stroke-width="1.4"/>
<circle cx="1582.36" cy="267.48" r="5.85" fill="#fff" stroke="#111" stroke-width="1.2"/>
<circle cx="1587.67" cy="267.48" r="5.85" fill="#fff" stroke="#111" stroke-width="1.2"/>
<circle cx="1593.82" cy="267.48" r="5.85" fill="#fff" stroke="#111" stroke-width="1.2"/>
<circle cx="1598.85" cy="267.48" r="5.85" fill="#fff" stroke="#111" stroke-width="1.2"/>
<circle cx="1618.7" cy="192.3" r="5.85" fill="#fff" stroke="#111" stroke-width="1.2"/>
<circle cx="1610.59" cy="210.47" r="5.85" fill="#fff" stroke="#111" stroke-width="1.2"/>
<circle cx="1626.8" cy="222.2" r="5.85" fill="#fff" stroke="#111" stroke-width="1.2"/>
<circle cx="1610.59" cy="229.75" r="5.85" fill="#fff" stroke="#111" stroke-width="1.2"/>
<line x1="1593.26" y1="133.32" x2="1622.33" y2="133.32" stroke="#444" stroke-width="1.3"/>
<text x="0" y="0" font-size="19.09" fill="#111" textLength="90.94" lengthAdjust="spacingAndGlyphs" transform="translate(1612.55 123.26) rotate(-90)"><tspan font-style="italic">P</tspan> = 0.0005</text>
<text x="1604.72" y="445.81" font-size="27.8" text-anchor="middle" fill="#111" textLength="38.88" lengthAdjust="spacingAndGlyphs">CIII</text>
<rect x="1647.76" y="267.48" width="25.16" height="146.74" fill="#fff" stroke="#2a2a2a" stroke-width="1.25"/>
<rect x="1675.99" y="206.27" width="24.88" height="207.95" fill="#db2777" stroke="#2a2a2a" stroke-width="1.25"/>
<line x1="1688.29" y1="206.27" x2="1688.29" y2="184.75" stroke="#1a1a1a" stroke-width="1.4"/>
<line x1="1684.85" y1="184.75" x2="1691.74" y2="184.75" stroke="#1a1a1a" stroke-width="1.4"/>
<circle cx="1651.96" cy="267.48" r="5.85" fill="#fff" stroke="#111" stroke-width="1.2"/>
<circle cx="1657.27" cy="267.48" r="5.85" fill="#fff" stroke="#111" stroke-width="1.2"/>
<circle cx="1663.42" cy="267.48" r="5.85" fill="#fff" stroke="#111" stroke-width="1.2"/>
<circle cx="1668.45" cy="267.48" r="5.85" fill="#fff" stroke="#111" stroke-width="1.2"/>
<circle cx="1688.29" cy="146.46" r="5.85" fill="#fff" stroke="#111" stroke-width="1.2"/>
<circle cx="1680.19" cy="214.38" r="5.85" fill="#fff" stroke="#111" stroke-width="1.2"/>
<circle cx="1696.4" cy="219.69" r="5.85" fill="#fff" stroke="#111" stroke-width="1.2"/>
<circle cx="1688.29" cy="237.58" r="5.85" fill="#fff" stroke="#111" stroke-width="1.2"/>
<line x1="1662.86" y1="133.32" x2="1691.93" y2="133.32" stroke="#444" stroke-width="1.3"/>
<text x="0" y="0" font-size="19.09" fill="#111" textLength="78.01" lengthAdjust="spacingAndGlyphs" transform="translate(1682.14 123.26) rotate(-90)"><tspan font-style="italic">P</tspan> = 0.019</text>
<text x="1676.27" y="445.81" font-size="27.8" text-anchor="middle" fill="#111" textLength="41.66" lengthAdjust="spacingAndGlyphs">CIV</text>
<rect x="1717.36" y="267.48" width="25.16" height="146.74" fill="#fff" stroke="#2a2a2a" stroke-width="1.25"/>
<rect x="1745.59" y="209.35" width="24.88" height="204.88" fill="#db2777" stroke="#2a2a2a" stroke-width="1.25"/>
<line x1="1757.89" y1="209.35" x2="1757.89" y2="192.86" stroke="#1a1a1a" stroke-width="1.4"/>
<line x1="1754.44" y1="192.86" x2="1761.33" y2="192.86" stroke="#1a1a1a" stroke-width="1.4"/>
<circle cx="1721.55" cy="267.48" r="5.85" fill="#fff" stroke="#111" stroke-width="1.2"/>
<circle cx="1726.86" cy="267.48" r="5.85" fill="#fff" stroke="#111" stroke-width="1.2"/>
<circle cx="1733.01" cy="267.48" r="5.85" fill="#fff" stroke="#111" stroke-width="1.2"/>
<circle cx="1738.04" cy="267.48" r="5.85" fill="#fff" stroke="#111" stroke-width="1.2"/>
<circle cx="1758.17" cy="173.85" r="5.85" fill="#fff" stroke="#111" stroke-width="1.2"/>
<circle cx="1758.17" cy="199.01" r="5.85" fill="#fff" stroke="#111" stroke-width="1.2"/>
<circle cx="1749.78" cy="231.15" r="5.85" fill="#fff" stroke="#111" stroke-width="1.2"/>
<circle cx="1766.55" cy="230.59" r="5.85" fill="#fff" stroke="#111" stroke-width="1.2"/>
<line x1="1732.45" y1="133.32" x2="1761.52" y2="133.32" stroke="#444" stroke-width="1.3"/>
<text x="0" y="0" font-size="19.09" fill="#111" textLength="79.92" lengthAdjust="spacingAndGlyphs" transform="translate(1751.74 123.26) rotate(-90)"><tspan font-style="italic">P</tspan> = 0.005</text>
<text x="1743.91" y="445.81" font-size="27.8" text-anchor="middle" fill="#111" textLength="31.93" lengthAdjust="spacingAndGlyphs">CII</text>
<rect x="1787.24" y="267.48" width="25.16" height="146.74" fill="#fff" stroke="#2a2a2a" stroke-width="1.25"/>
<rect x="1815.47" y="195.65" width="24.88" height="218.57" fill="#db2777" stroke="#2a2a2a" stroke-width="1.25"/>
<line x1="1827.76" y1="195.65" x2="1827.76" y2="180.28" stroke="#1a1a1a" stroke-width="1.4"/>
<line x1="1824.32" y1="180.28" x2="1831.21" y2="180.28" stroke="#1a1a1a" stroke-width="1.4"/>
<circle cx="1791.43" cy="267.48" r="5.85" fill="#fff" stroke="#111" stroke-width="1.2"/>
<circle cx="1796.74" cy="267.48" r="5.85" fill="#fff" stroke="#111" stroke-width="1.2"/>
<circle cx="1802.89" cy="267.48" r="5.85" fill="#fff" stroke="#111" stroke-width="1.2"/>
<circle cx="1807.92" cy="267.48" r="5.85" fill="#fff" stroke="#111" stroke-width="1.2"/>
<circle cx="1827.76" cy="160.99" r="5.85" fill="#fff" stroke="#111" stroke-width="1.2"/>
<circle cx="1827.76" cy="180.28" r="5.85" fill="#fff" stroke="#111" stroke-width="1.2"/>
<circle cx="1836.15" cy="213.54" r="5.85" fill="#fff" stroke="#111" stroke-width="1.2"/>
<circle cx="1819.38" cy="222.48" r="5.85" fill="#fff" stroke="#111" stroke-width="1.2"/>
<line x1="1802.33" y1="133.32" x2="1831.4" y2="133.32" stroke="#444" stroke-width="1.3"/>
<text x="0" y="0" font-size="19.09" fill="#111" textLength="79.82" lengthAdjust="spacingAndGlyphs" transform="translate(1821.61 123.26) rotate(-90)"><tspan font-style="italic">P</tspan> = 0.002</text>
<text x="1814.07" y="445.81" font-size="27.8" text-anchor="middle" fill="#111" textLength="24.99" lengthAdjust="spacingAndGlyphs">CI</text>
<text x="1894.16" y="32.64" font-size="38" font-weight="bold" fill="#000" stroke="#000" stroke-width="0.9">c</text>
<rect x="1995.33" y="27.41" width="35.88" height="13.7" fill="#fff" stroke="#333" stroke-width="1.4"/>
<text x="2043.66" y="40.61" font-size="23.98" fill="#111" textLength="80.21" lengthAdjust="spacingAndGlyphs">WT BAs</text>
<rect x="1995.33" y="56.81" width="35.88" height="13.46" fill="#000" stroke="#000" stroke-width="1.5"/>
<text x="2041.67" y="70.27" font-size="23.98" fill="#111" textLength="119.1" lengthAdjust="spacingAndGlyphs"><tspan font-style="italic">UCP1</tspan><tspan font-style="italic" font-size="15" dy="-9">−/−</tspan><tspan dy="9"> BAs</tspan></text>
<line x1="2003.3" y1="120.05" x2="2003.3" y2="415.37" stroke="#444" stroke-width="1.6"/>
<line x1="1992.09" y1="120.85" x2="2003.3" y2="120.85" stroke="#222" stroke-width="1.3"/>
<text x="1982.59" y="129.62" font-size="24.7" text-anchor="end" fill="#111" textLength="34.7" lengthAdjust="spacingAndGlyphs">0.8</text>
<line x1="1992.09" y1="194.1" x2="2003.3" y2="194.1" stroke="#222" stroke-width="1.3"/>
<text x="1982.59" y="202.87" font-size="24.7" text-anchor="end" fill="#111" textLength="34.19" lengthAdjust="spacingAndGlyphs">0.6</text>
<line x1="1992.09" y1="267.86" x2="2003.3" y2="267.86" stroke="#222" stroke-width="1.3"/>
<text x="1982.59" y="276.63" font-size="24.7" text-anchor="end" fill="#111" textLength="33.67" lengthAdjust="spacingAndGlyphs">0.4</text>
<line x1="1992.09" y1="341.36" x2="2003.3" y2="341.36" stroke="#222" stroke-width="1.3"/>
<text x="1982.59" y="350.13" font-size="24.7" text-anchor="end" fill="#111" textLength="33.93" lengthAdjust="spacingAndGlyphs">0.2</text>
<line x1="1992.09" y1="415.37" x2="2003.3" y2="415.37" stroke="#222" stroke-width="1.3"/>
<text x="1982.59" y="424.13" font-size="24.7" text-anchor="end" fill="#111">0</text>
<line x1="1991.84" y1="415.37" x2="2168" y2="415.37" stroke="#222" stroke-width="1.4"/>
<rect x="2011.27" y="382.23" width="24.17" height="33.14" fill="#fff" stroke="#2a2a2a" stroke-width="1.25"/>
<rect x="2052.39" y="290.28" width="23.92" height="125.08" fill="#cf0868" stroke="#2a2a2a" stroke-width="1.25"/>
<rect x="2092.75" y="386.21" width="24.42" height="29.15" fill="#000" stroke="#000" stroke-width="1.25"/>
<rect x="2134.11" y="386.21" width="24.17" height="29.15" fill="url(#hbm)" stroke="#000" stroke-width="1.25"/>
<line x1="2023.23" y1="382.23" x2="2023.23" y2="367.52" stroke="#1a1a1a" stroke-width="1.4"/>
<line x1="2020.16" y1="367.52" x2="2026.3" y2="367.52" stroke="#1a1a1a" stroke-width="1.4"/>
<line x1="2064.35" y1="290.28" x2="2064.35" y2="262.87" stroke="#1a1a1a" stroke-width="1.4"/>
<line x1="2061.28" y1="262.87" x2="2067.42" y2="262.87" stroke="#1a1a1a" stroke-width="1.4"/>
<line x1="2146.07" y1="386.21" x2="2146.07" y2="372.01" stroke="#1a1a1a" stroke-width="1.4"/>
<line x1="2143" y1="372.01" x2="2149.14" y2="372.01" stroke="#1a1a1a" stroke-width="1.4"/>
<circle cx="2023.23" cy="327.16" r="5.85" fill="#fff" stroke="#111" stroke-width="1.2"/>
<circle cx="2023.23" cy="389.45" r="5.85" fill="#fff" stroke="#111" stroke-width="1.2"/>
<circle cx="2023.23" cy="394.93" r="5.85" fill="#fff" stroke="#111" stroke-width="1.2"/>
<circle cx="2023.23" cy="402.41" r="5.85" fill="#fff" stroke="#111" stroke-width="1.2"/>
<circle cx="2064.35" cy="195.1" r="5.85" fill="#fff" stroke="#111" stroke-width="1.2"/>
<circle cx="2064.35" cy="265.37" r="5.85" fill="#fff" stroke="#111" stroke-width="1.2"/>
<circle cx="2064.35" cy="320.18" r="5.85" fill="#fff" stroke="#111" stroke-width="1.2"/>
<circle cx="2064.35" cy="328.9" r="5.85" fill="#fff" stroke="#111" stroke-width="1.2"/>
<circle cx="2064.35" cy="336.38" r="5.85" fill="#fff" stroke="#111" stroke-width="1.2"/>
<circle cx="2104.71" cy="376.25" r="5.85" fill="#fff" stroke="#111" stroke-width="1.2"/>
<circle cx="2104.71" cy="384.97" r="5.85" fill="#fff" stroke="#111" stroke-width="1.2"/>
<circle cx="2104.71" cy="401.66" r="5.85" fill="#fff" stroke="#111" stroke-width="1.2"/>
<circle cx="2146.07" cy="327.16" r="5.85" fill="#fff" stroke="#111" stroke-width="1.2"/>
<circle cx="2146.07" cy="366.28" r="5.85" fill="#fff" stroke="#111" stroke-width="1.2"/>
<circle cx="2146.07" cy="408.64" r="5.85" fill="#fff" stroke="#111" stroke-width="1.2"/>
<circle cx="2146.07" cy="412.38" r="5.85" fill="#fff" stroke="#111" stroke-width="1.2"/>
<text x="2059.86" y="136.3" font-size="19.09" fill="#111" textLength="89.44" lengthAdjust="spacingAndGlyphs"><tspan font-style="italic">P</tspan> = 0.0057</text>
<line x1="2064.1" y1="145.76" x2="2146.32" y2="145.76" stroke="#444" stroke-width="1.3"/>
<text x="0" y="0" font-size="19.09" fill="#111" textLength="89.94" lengthAdjust="spacingAndGlyphs" transform="translate(2043.66 270.85) rotate(-90)"><tspan font-style="italic">P</tspan> = 0.0079</text>
<line x1="2023.73" y1="279.07" x2="2052.39" y2="279.07" stroke="#444" stroke-width="1.3"/>
<text x="0" y="0" font-size="19.09" fill="#111" textLength="89.44" lengthAdjust="spacingAndGlyphs" transform="translate(2095.99 270.85) rotate(-90)"><tspan font-style="italic">P</tspan> = 0.0057</text>
<line x1="2076.8" y1="279.07" x2="2105.96" y2="279.07" stroke="#444" stroke-width="1.3"/>
<text x="1981.37" y="448.5" font-size="28.34" text-anchor="end" fill="#111" textLength="45.55" lengthAdjust="spacingAndGlyphs">007</text>
<text x="2023.23" y="449" font-size="26.16" text-anchor="middle" fill="#111">−</text>
<text x="2064.35" y="449" font-size="26.16" text-anchor="middle" fill="#111">+</text>
<text x="2104.71" y="449" font-size="26.16" text-anchor="middle" fill="#111">−</text>
<text x="2146.07" y="449" font-size="26.16" text-anchor="middle" fill="#111">+</text>
<text x="0" y="0" font-size="28.34" text-anchor="middle" fill="#111" textLength="306.48" lengthAdjust="spacingAndGlyphs" transform="translate(1919.58 260.38) rotate(-90)">O<tspan font-size="16" dy="5">2</tspan><tspan dy="-5"> cons. (nmol min</tspan><tspan font-size="16" dy="-9">−1</tspan><tspan dy="9"> μg</tspan><tspan font-size="16" dy="-9">−1</tspan><tspan dy="9">)</tspan></text>
<text x="1" y="526.38" font-size="38" font-weight="bold" fill="#000" stroke="#000" stroke-width="0.9">d</text>
<text x="390.22" y="628.55" font-size="27.25" text-anchor="middle" fill="#111" textLength="267.42" lengthAdjust="spacingAndGlyphs">Brown preadipocytes</text>
<ellipse cx="181.52" cy="802.46" rx="25" ry="68.12" fill="#e8e8e8"/>
<ellipse cx="293.48" cy="872.03" rx="61.59" ry="49.28" fill="#ea9cc3"/>
<ellipse cx="0" cy="0" rx="189.86" ry="54.71" fill="#fdb7b9" transform="translate(504.35 810.98) rotate(-52)"/>
<line x1="149.28" y1="670.22" x2="149.28" y2="961.55" stroke="#555" stroke-width="1.5"/>
<line x1="148.53" y1="960.8" x2="630.43" y2="960.8" stroke="#555" stroke-width="1.5"/>
<line x1="137.68" y1="683.26" x2="149.28" y2="683.26" stroke="#555" stroke-width="1.5"/>
<text x="127.54" y="690.76" font-size="23.44" text-anchor="end" fill="#111" textLength="25.83" lengthAdjust="spacingAndGlyphs">60</text>
<line x1="137.68" y1="738.33" x2="149.28" y2="738.33" stroke="#555" stroke-width="1.5"/>
<text x="127.54" y="745.83" font-size="23.44" text-anchor="end" fill="#111" textLength="25.35" lengthAdjust="spacingAndGlyphs">40</text>
<line x1="137.68" y1="793.04" x2="149.28" y2="793.04" stroke="#555" stroke-width="1.5"/>
<text x="127.54" y="800.54" font-size="23.44" text-anchor="end" fill="#111" textLength="25.59" lengthAdjust="spacingAndGlyphs">20</text>
<line x1="137.68" y1="847.03" x2="149.28" y2="847.03" stroke="#555" stroke-width="1.5"/>
<text x="127.54" y="854.53" font-size="23.44" text-anchor="end" fill="#111">0</text>
<line x1="137.68" y1="902.1" x2="149.28" y2="902.1" stroke="#555" stroke-width="1.5"/>
<text x="127.54" y="909.6" font-size="23.44" text-anchor="end" fill="#111" textLength="38.15" lengthAdjust="spacingAndGlyphs">−20</text>
<line x1="137.68" y1="956.81" x2="149.28" y2="956.81" stroke="#555" stroke-width="1.5"/>
<text x="127.54" y="964.31" font-size="23.44" text-anchor="end" fill="#111" textLength="37.91" lengthAdjust="spacingAndGlyphs">−40</text>
<line x1="171.38" y1="960.8" x2="171.38" y2="972.75" stroke="#555" stroke-width="1.5"/>
<text x="166.38" y="1001.74" font-size="23.44" text-anchor="middle" fill="#111" textLength="37.91" lengthAdjust="spacingAndGlyphs">−40</text>
<line x1="241.67" y1="960.8" x2="241.67" y2="972.75" stroke="#555" stroke-width="1.5"/>
<text x="236.67" y="1001.74" font-size="23.44" text-anchor="middle" fill="#111" textLength="38.15" lengthAdjust="spacingAndGlyphs">−20</text>
<line x1="312.32" y1="960.8" x2="312.32" y2="972.75" stroke="#555" stroke-width="1.5"/>
<text x="312.32" y="1001.74" font-size="23.44" text-anchor="middle" fill="#111">0</text>
<line x1="382.61" y1="960.8" x2="382.61" y2="972.75" stroke="#555" stroke-width="1.5"/>
<text x="382.61" y="1001.74" font-size="23.44" text-anchor="middle" fill="#111" textLength="25.59" lengthAdjust="spacingAndGlyphs">20</text>
<line x1="452.9" y1="960.8" x2="452.9" y2="972.75" stroke="#555" stroke-width="1.5"/>
<text x="452.9" y="1001.74" font-size="23.44" text-anchor="middle" fill="#111" textLength="25.35" lengthAdjust="spacingAndGlyphs">40</text>
<line x1="523.55" y1="960.8" x2="523.55" y2="972.75" stroke="#555" stroke-width="1.5"/>
<text x="523.55" y="1001.74" font-size="23.44" text-anchor="middle" fill="#111" textLength="25.83" lengthAdjust="spacingAndGlyphs">60</text>
<line x1="594.2" y1="960.8" x2="594.2" y2="972.75" stroke="#555" stroke-width="1.5"/>
<text x="594.2" y="1001.74" font-size="23.44" text-anchor="middle" fill="#111" textLength="26.31" lengthAdjust="spacingAndGlyphs">80</text>
<text x="0" y="0" font-size="27.25" text-anchor="middle" fill="#111" textLength="261.91" lengthAdjust="spacingAndGlyphs" transform="translate(59.78 815.14) rotate(-90)">Component 2 (11.6%)</text>
<text x="390.22" y="1048.12" font-size="27.25" text-anchor="middle" fill="#111" textLength="260.14" lengthAdjust="spacingAndGlyphs">Component 1 (24.7%)</text>
<circle cx="170.29" cy="768.41" r="4.7" fill="#b0b0b0"/>
<circle cx="170.29" cy="796.3" r="4.7" fill="#b0b0b0"/>
<circle cx="170.29" cy="823.12" r="4.7" fill="#b0b0b0"/>
<circle cx="179.35" cy="837.25" r="4.7" fill="#b0b0b0"/>
<circle cx="253.62" cy="845.58" r="4.7" fill="#cc0a66"/>
<circle cx="279.71" cy="878.91" r="4.7" fill="#cc0a66"/>
<circle cx="303.26" cy="869.49" r="4.7" fill="#cc0a66"/>
<circle cx="334.42" cy="895.58" r="4.7" fill="#cc0a66"/>
<circle cx="607.61" cy="682.17" r="4.9" fill="#e30000"/>
<circle cx="450.36" cy="892.68" r="4.9" fill="#e30000"/>
<circle cx="386.59" cy="936.52" r="4.9" fill="#e30000"/>
<circle cx="442.03" cy="946.67" r="4.9" fill="#e30000"/>
<circle cx="219.2" cy="1087.97" r="9" fill="#c0c0c0"/>
<text x="241.67" y="1095.94" font-size="23.98" fill="#111" textLength="79.03" lengthAdjust="spacingAndGlyphs">Control</text>
<circle cx="368.48" cy="1087.97" r="9" fill="#cc0a66"/>
<text x="390.58" y="1095.94" font-size="23.98" fill="#111" textLength="41.63" lengthAdjust="spacingAndGlyphs">007</text>
<circle cx="480.07" cy="1087.97" r="9" fill="#e30000"/>
<text x="501.81" y="1095.94" font-size="23.98" fill="#111" textLength="56.85" lengthAdjust="spacingAndGlyphs">6-MB</text>
<text x="753.42" y="526.13" font-size="38" font-weight="bold" fill="#000" stroke="#000" stroke-width="0.9">e</text>
<text x="1068" y="513.42" font-size="26.16" text-anchor="middle" fill="#111" textLength="238.54" lengthAdjust="spacingAndGlyphs">mTORC1 substrates</text>
<line x1="909.98" y1="526.5" x2="1225.66" y2="526.5" stroke="#111" stroke-width="2"/>
<text x="963.38" y="558.83" font-size="26.16" text-anchor="middle" fill="#111" textLength="48.34" lengthAdjust="spacingAndGlyphs">CTR</text>
<text x="1067.64" y="558.83" font-size="26.16" text-anchor="middle" fill="#111" textLength="64.05" lengthAdjust="spacingAndGlyphs">EPAC</text>
<text x="1172.26" y="558.83" font-size="26.16" text-anchor="middle" fill="#111" textLength="47.07" lengthAdjust="spacingAndGlyphs">PKA</text>
<g shape-rendering="crispEdges">
<rect x="910.71" y="567.55" width="26.78" height="41.07" fill="#80beff"/>
<rect x="936.99" y="567.55" width="26.78" height="41.07" fill="#86c1ff"/>
<rect x="963.26" y="567.55" width="26.78" height="41.07" fill="#86c1ff"/>
<rect x="989.54" y="567.55" width="26.78" height="41.07" fill="#c6e2ff"/>
<rect x="1015.81" y="567.55" width="26.78" height="41.07" fill="#ffd5ab"/>
<rect x="1042.09" y="567.55" width="26.78" height="41.07" fill="#93c8ff"/>
<rect x="1068.37" y="567.55" width="26.78" height="41.07" fill="#bfdeff"/>
<rect x="1094.64" y="567.55" width="26.78" height="41.07" fill="#ffe7cf"/>
<rect x="1120.92" y="567.55" width="26.78" height="41.07" fill="#ffe9d3"/>
<rect x="1147.19" y="567.55" width="26.78" height="41.07" fill="#ff8000"/>
<rect x="1173.47" y="567.55" width="26.78" height="41.07" fill="#ffffff"/>
<rect x="1199.74" y="567.55" width="26.78" height="41.07" fill="#ffd5ab"/>
<rect x="910.71" y="608.12" width="26.78" height="41.07" fill="#ffe0c0"/>
<rect x="936.99" y="608.12" width="26.78" height="41.07" fill="#a6d2ff"/>
<rect x="963.26" y="608.12" width="26.78" height="41.07" fill="#d9ecff"/>
<rect x="989.54" y="608.12" width="26.78" height="41.07" fill="#73b8ff"/>
<rect x="1015.81" y="608.12" width="26.78" height="41.07" fill="#dfefff"/>
<rect x="1042.09" y="608.12" width="26.78" height="41.07" fill="#ffefdf"/>
<rect x="1068.37" y="608.12" width="26.78" height="41.07" fill="#007dff"/>
<rect x="1094.64" y="608.12" width="26.78" height="41.07" fill="#ffffff"/>
<rect x="1120.92" y="608.12" width="26.78" height="41.07" fill="#ffad5b"/>
<rect x="1147.19" y="608.12" width="26.78" height="41.07" fill="#ffb367"/>
<rect x="1173.47" y="608.12" width="26.78" height="41.07" fill="#ffcf9e"/>
<rect x="1199.74" y="608.12" width="26.78" height="41.07" fill="#ffcf9e"/>
<rect x="910.71" y="648.69" width="26.78" height="41.07" fill="#bfdeff"/>
<rect x="936.99" y="648.69" width="26.78" height="41.07" fill="#3397ff"/>
<rect x="963.26" y="648.69" width="26.78" height="41.07" fill="#b2d8ff"/>
<rect x="989.54" y="648.69" width="26.78" height="41.07" fill="#99cbff"/>
<rect x="1015.81" y="648.69" width="26.78" height="41.07" fill="#4ca4ff"/>
<rect x="1042.09" y="648.69" width="26.78" height="41.07" fill="#ffbf7e"/>
<rect x="1068.37" y="648.69" width="26.78" height="41.07" fill="#f0f7ff"/>
<rect x="1094.64" y="648.69" width="26.78" height="41.07" fill="#ffe7cf"/>
<rect x="1120.92" y="648.69" width="26.78" height="41.07" fill="#fffbf6"/>
<rect x="1147.19" y="648.69" width="26.78" height="41.07" fill="#ffa54a"/>
<rect x="1173.47" y="648.69" width="26.78" height="41.07" fill="#ffd5ab"/>
<rect x="1199.74" y="648.69" width="26.78" height="41.07" fill="#ffa850"/>
<rect x="910.71" y="689.27" width="26.78" height="41.07" fill="#007dff"/>
<rect x="936.99" y="689.27" width="26.78" height="41.07" fill="#b9dbff"/>
<rect x="963.26" y="689.27" width="26.78" height="41.07" fill="#f2f8ff"/>
<rect x="989.54" y="689.27" width="26.78" height="41.07" fill="#fffbf6"/>
<rect x="1015.81" y="689.27" width="26.78" height="41.07" fill="#ffcf9e"/>
<rect x="1042.09" y="689.27" width="26.78" height="41.07" fill="#ffbf7e"/>
<rect x="1068.37" y="689.27" width="26.78" height="41.07" fill="#ffa54a"/>
<rect x="1094.64" y="689.27" width="26.78" height="41.07" fill="#ffcf9e"/>
<rect x="1120.92" y="689.27" width="26.78" height="41.07" fill="#ffebd7"/>
<rect x="1147.19" y="689.27" width="26.78" height="41.07" fill="#8cc4ff"/>
<rect x="1173.47" y="689.27" width="26.78" height="41.07" fill="#ecf5ff"/>
<rect x="1199.74" y="689.27" width="26.78" height="41.07" fill="#cce5ff"/>
<rect x="910.71" y="729.84" width="26.78" height="41.07" fill="#007dff"/>
<rect x="936.99" y="729.84" width="26.78" height="41.07" fill="#b9dbff"/>
<rect x="963.26" y="729.84" width="26.78" height="41.07" fill="#f2f8ff"/>
<rect x="989.54" y="729.84" width="26.78" height="41.07" fill="#fffbf6"/>
<rect x="1015.81" y="729.84" width="26.78" height="41.07" fill="#ffcf9e"/>
<rect x="1042.09" y="729.84" width="26.78" height="41.07" fill="#ffbf7e"/>
<rect x="1068.37" y="729.84" width="26.78" height="41.07" fill="#ffa54a"/>
<rect x="1094.64" y="729.84" width="26.78" height="41.07" fill="#ffcf9e"/>
<rect x="1120.92" y="729.84" width="26.78" height="41.07" fill="#ffebd7"/>
<rect x="1147.19" y="729.84" width="26.78" height="41.07" fill="#8cc4ff"/>
<rect x="1173.47" y="729.84" width="26.78" height="41.07" fill="#ecf5ff"/>
<rect x="1199.74" y="729.84" width="26.78" height="41.07" fill="#cce5ff"/>
<rect x="910.71" y="770.41" width="26.78" height="41.07" fill="#ffe0c0"/>
<rect x="936.99" y="770.41" width="26.78" height="41.07" fill="#6cb4ff"/>
<rect x="963.26" y="770.41" width="26.78" height="41.07" fill="#e6f2ff"/>
<rect x="989.54" y="770.41" width="26.78" height="41.07" fill="#79bbff"/>
<rect x="1015.81" y="770.41" width="26.78" height="41.07" fill="#fffbf6"/>
<rect x="1042.09" y="770.41" width="26.78" height="41.07" fill="#ffd2a4"/>
<rect x="1068.37" y="770.41" width="26.78" height="41.07" fill="#ffcb97"/>
<rect x="1094.64" y="770.41" width="26.78" height="41.07" fill="#ff8000"/>
<rect x="1120.92" y="770.41" width="26.78" height="41.07" fill="#ecf5ff"/>
<rect x="1147.19" y="770.41" width="26.78" height="41.07" fill="#fffbf6"/>
<rect x="1173.47" y="770.41" width="26.78" height="41.07" fill="#f2f8ff"/>
<rect x="1199.74" y="770.41" width="26.78" height="41.07" fill="#2690ff"/>
<rect x="910.71" y="810.98" width="26.78" height="41.07" fill="#ffe0c0"/>
<rect x="936.99" y="810.98" width="26.78" height="41.07" fill="#6cb4ff"/>
<rect x="963.26" y="810.98" width="26.78" height="41.07" fill="#e6f2ff"/>
<rect x="989.54" y="810.98" width="26.78" height="41.07" fill="#79bbff"/>
<rect x="1015.81" y="810.98" width="26.78" height="41.07" fill="#fffbf6"/>
<rect x="1042.09" y="810.98" width="26.78" height="41.07" fill="#ffd2a4"/>
<rect x="1068.37" y="810.98" width="26.78" height="41.07" fill="#ffcb97"/>
<rect x="1094.64" y="810.98" width="26.78" height="41.07" fill="#ff8000"/>
<rect x="1120.92" y="810.98" width="26.78" height="41.07" fill="#ecf5ff"/>
<rect x="1147.19" y="810.98" width="26.78" height="41.07" fill="#fffbf6"/>
<rect x="1173.47" y="810.98" width="26.78" height="41.07" fill="#f2f8ff"/>
<rect x="1199.74" y="810.98" width="26.78" height="41.07" fill="#2690ff"/>
<rect x="910.71" y="851.56" width="26.78" height="41.07" fill="#c6e2ff"/>
<rect x="936.99" y="851.56" width="26.78" height="41.07" fill="#e6f2ff"/>
<rect x="963.26" y="851.56" width="26.78" height="41.07" fill="#ffe0c0"/>
<rect x="989.54" y="851.56" width="26.78" height="41.07" fill="#ffb66d"/>
<rect x="1015.81" y="851.56" width="26.78" height="41.07" fill="#ffc58b"/>
<rect x="1042.09" y="851.56" width="26.78" height="41.07" fill="#ffc58b"/>
<rect x="1068.37" y="851.56" width="26.78" height="41.07" fill="#ffdcb9"/>
<rect x="1094.64" y="851.56" width="26.78" height="41.07" fill="#fff3e8"/>
<rect x="1120.92" y="851.56" width="26.78" height="41.07" fill="#007dff"/>
<rect x="1147.19" y="851.56" width="26.78" height="41.07" fill="#ffffff"/>
<rect x="1173.47" y="851.56" width="26.78" height="41.07" fill="#f9fcff"/>
<rect x="1199.74" y="851.56" width="26.78" height="41.07" fill="#409eff"/>
<rect x="910.71" y="892.13" width="26.78" height="41.07" fill="#c6e2ff"/>
<rect x="936.99" y="892.13" width="26.78" height="41.07" fill="#e6f2ff"/>
<rect x="963.26" y="892.13" width="26.78" height="41.07" fill="#ffe0c0"/>
<rect x="989.54" y="892.13" width="26.78" height="41.07" fill="#ffb66d"/>
<rect x="1015.81" y="892.13" width="26.78" height="41.07" fill="#ffc58b"/>
<rect x="1042.09" y="892.13" width="26.78" height="41.07" fill="#ffc58b"/>
<rect x="1068.37" y="892.13" width="26.78" height="41.07" fill="#ffdcb9"/>
<rect x="1094.64" y="892.13" width="26.78" height="41.07" fill="#fff3e8"/>
<rect x="1120.92" y="892.13" width="26.78" height="41.07" fill="#007dff"/>
<rect x="1147.19" y="892.13" width="26.78" height="41.07" fill="#ffffff"/>
<rect x="1173.47" y="892.13" width="26.78" height="41.07" fill="#f9fcff"/>
<rect x="1199.74" y="892.13" width="26.78" height="41.07" fill="#409eff"/>
<rect x="910.71" y="932.7" width="26.78" height="41.07" fill="#ffd5ab"/>
<rect x="936.99" y="932.7" width="26.78" height="41.07" fill="#ffd2a4"/>
<rect x="963.26" y="932.7" width="26.78" height="41.07" fill="#ffd2a4"/>
<rect x="989.54" y="932.7" width="26.78" height="41.07" fill="#ffc284"/>
<rect x="1015.81" y="932.7" width="26.78" height="41.07" fill="#ffe0c0"/>
<rect x="1042.09" y="932.7" width="26.78" height="41.07" fill="#ffebd7"/>
<rect x="1068.37" y="932.7" width="26.78" height="41.07" fill="#ffe7cf"/>
<rect x="1094.64" y="932.7" width="26.78" height="41.07" fill="#ffdcb9"/>
<rect x="1120.92" y="932.7" width="26.78" height="41.07" fill="#007dff"/>
<rect x="1147.19" y="932.7" width="26.78" height="41.07" fill="#b2d8ff"/>
<rect x="1173.47" y="932.7" width="26.78" height="41.07" fill="#2690ff"/>
<rect x="1199.74" y="932.7" width="26.78" height="41.07" fill="#e6f2ff"/>
<rect x="910.71" y="973.28" width="26.78" height="41.07" fill="#ffd5ab"/>
<rect x="936.99" y="973.28" width="26.78" height="41.07" fill="#ff8f1f"/>
<rect x="963.26" y="973.28" width="26.78" height="41.07" fill="#ffe0c0"/>
<rect x="989.54" y="973.28" width="26.78" height="41.07" fill="#ffd2a4"/>
<rect x="1015.81" y="973.28" width="26.78" height="41.07" fill="#ffebd7"/>
<rect x="1042.09" y="973.28" width="26.78" height="41.07" fill="#ffe7cf"/>
<rect x="1068.37" y="973.28" width="26.78" height="41.07" fill="#ffd5ab"/>
<rect x="1094.64" y="973.28" width="26.78" height="41.07" fill="#b2d8ff"/>
<rect x="1120.92" y="973.28" width="26.78" height="41.07" fill="#99cbff"/>
<rect x="1147.19" y="973.28" width="26.78" height="41.07" fill="#8cc4ff"/>
<rect x="1173.47" y="973.28" width="26.78" height="41.07" fill="#73b8ff"/>
<rect x="1199.74" y="973.28" width="26.78" height="41.07" fill="#2690ff"/>
<rect x="910.71" y="1013.85" width="26.78" height="41.07" fill="#ffd5ab"/>
<rect x="936.99" y="1013.85" width="26.78" height="41.07" fill="#ff8f1f"/>
<rect x="963.26" y="1013.85" width="26.78" height="41.07" fill="#ffe0c0"/>
<rect x="989.54" y="1013.85" width="26.78" height="41.07" fill="#ffd2a4"/>
<rect x="1015.81" y="1013.85" width="26.78" height="41.07" fill="#ffebd7"/>
<rect x="1042.09" y="1013.85" width="26.78" height="41.07" fill="#ffe7cf"/>
<rect x="1068.37" y="1013.85" width="26.78" height="41.07" fill="#ffd5ab"/>
<rect x="1094.64" y="1013.85" width="26.78" height="41.07" fill="#b2d8ff"/>
<rect x="1120.92" y="1013.85" width="26.78" height="41.07" fill="#8cc4ff"/>
<rect x="1147.19" y="1013.85" width="26.78" height="41.07" fill="#93c8ff"/>
<rect x="1173.47" y="1013.85" width="26.78" height="41.07" fill="#73b8ff"/>
<rect x="1199.74" y="1013.85" width="26.78" height="41.07" fill="#2690ff"/>
<rect x="910.71" y="1054.42" width="26.78" height="41.07" fill="#ffdcb9"/>
<rect x="936.99" y="1054.42" width="26.78" height="41.07" fill="#ffefdf"/>
<rect x="963.26" y="1054.42" width="26.78" height="41.07" fill="#ffcf9e"/>
<rect x="989.54" y="1054.42" width="26.78" height="41.07" fill="#ffe0c0"/>
<rect x="1015.81" y="1054.42" width="26.78" height="41.07" fill="#ffd5ab"/>
<rect x="1042.09" y="1054.42" width="26.78" height="41.07" fill="#ffcf9e"/>
<rect x="1068.37" y="1054.42" width="26.78" height="41.07" fill="#ffa850"/>
<rect x="1094.64" y="1054.42" width="26.78" height="41.07" fill="#59aaff"/>
<rect x="1120.92" y="1054.42" width="26.78" height="41.07" fill="#409eff"/>
<rect x="1147.19" y="1054.42" width="26.78" height="41.07" fill="#acd5ff"/>
<rect x="1173.47" y="1054.42" width="26.78" height="41.07" fill="#73b8ff"/>
<rect x="1199.74" y="1054.42" width="26.78" height="41.07" fill="#99cbff"/>
</g>
<rect x="910.71" y="567.55" width="315.31" height="527.45" fill="none" stroke="#777" stroke-width="1.4"/>
<line x1="1016.42" y1="567.55" x2="1016.42" y2="1095" stroke="#111" stroke-width="1.2"/>
<line x1="1119.95" y1="567.55" x2="1119.95" y2="1095" stroke="#111" stroke-width="1.2"/>
<text x="898" y="597.08" font-size="27.25" text-anchor="end" fill="#111" textLength="108.38" lengthAdjust="spacingAndGlyphs">S1260_1*</text>
<text x="1239.46" y="597.08" font-size="27.25" fill="#111" textLength="81.39" lengthAdjust="spacingAndGlyphs">MAP1B</text>
<text x="898" y="637.66" font-size="27.25" text-anchor="end" fill="#111" textLength="101.44" lengthAdjust="spacingAndGlyphs">S5536_1</text>
<text x="1239.46" y="637.66" font-size="27.25" fill="#111" textLength="84.41" lengthAdjust="spacingAndGlyphs">AHNAK</text>
<text x="898" y="678.23" font-size="27.25" text-anchor="end" fill="#111" textLength="81.84" lengthAdjust="spacingAndGlyphs">T45_2*</text>
<text x="1239.46" y="678.23" font-size="27.25" fill="#111" textLength="83.49" lengthAdjust="spacingAndGlyphs">4E-BP1</text>
<text x="898" y="718.8" font-size="27.25" text-anchor="end" fill="#111" textLength="73.36" lengthAdjust="spacingAndGlyphs">T69_2</text>
<text x="1239.46" y="718.8" font-size="27.25" fill="#111" textLength="83.49" lengthAdjust="spacingAndGlyphs">4E-BP1</text>
<text x="898" y="759.37" font-size="27.25" text-anchor="end" fill="#111" textLength="73.63" lengthAdjust="spacingAndGlyphs">S64_2</text>
<text x="1239.46" y="759.37" font-size="27.25" fill="#111" textLength="83.49" lengthAdjust="spacingAndGlyphs">4E-BP1</text>
<text x="898" y="799.95" font-size="27.25" text-anchor="end" fill="#111" textLength="84.47" lengthAdjust="spacingAndGlyphs">S751_2</text>
<text x="1239.46" y="799.95" font-size="27.25" fill="#111" textLength="75.96" lengthAdjust="spacingAndGlyphs">LARP1</text>
<text x="898" y="840.52" font-size="27.25" text-anchor="end" fill="#111" textLength="87.39" lengthAdjust="spacingAndGlyphs">S743_2</text>
<text x="1239.46" y="840.52" font-size="27.25" fill="#111" textLength="75.96" lengthAdjust="spacingAndGlyphs">LARP1</text>
<text x="898" y="881.09" font-size="27.25" text-anchor="end" fill="#111" textLength="99.35" lengthAdjust="spacingAndGlyphs">S1247_3</text>
<text x="1239.46" y="881.09" font-size="27.25" fill="#111" textLength="81.39" lengthAdjust="spacingAndGlyphs">MAP1B</text>
<text x="898" y="921.67" font-size="27.25" text-anchor="end" fill="#111" textLength="111.72" lengthAdjust="spacingAndGlyphs">S1260_3*</text>
<text x="1239.46" y="921.67" font-size="27.25" fill="#111" textLength="81.39" lengthAdjust="spacingAndGlyphs">MAP1B</text>
<text x="898" y="962.24" font-size="27.25" text-anchor="end" fill="#111" textLength="101.16" lengthAdjust="spacingAndGlyphs">S1692_2</text>
<text x="1239.46" y="962.24" font-size="27.25" fill="#111" textLength="130.75" lengthAdjust="spacingAndGlyphs">CDC42BPB</text>
<text x="898" y="1002.81" font-size="27.25" text-anchor="end" fill="#111" textLength="89.48" lengthAdjust="spacingAndGlyphs">S669_2</text>
<text x="1239.46" y="1002.81" font-size="27.25" fill="#111" textLength="75.95" lengthAdjust="spacingAndGlyphs">AFAP1</text>
<text x="898" y="1043.39" font-size="27.25" text-anchor="end" fill="#111" textLength="88.78" lengthAdjust="spacingAndGlyphs">S665_2</text>
<text x="1239.46" y="1043.39" font-size="27.25" fill="#111" textLength="75.95" lengthAdjust="spacingAndGlyphs">AFAP1</text>
<text x="898" y="1083.96" font-size="27.25" text-anchor="end" fill="#111" textLength="90.31" lengthAdjust="spacingAndGlyphs">S669_3</text>
<text x="1239.46" y="1083.96" font-size="27.25" fill="#111" textLength="75.95" lengthAdjust="spacingAndGlyphs">AFAP1</text>
<rect x="911.44" y="1109.53" width="314.58" height="17.07" fill="url(#cb)" stroke="#666" stroke-width="1.2"/>
<text x="898.72" y="1127.69" font-size="22.89" text-anchor="end" fill="#111" textLength="24.41" lengthAdjust="spacingAndGlyphs">−2</text>
<text x="1235.83" y="1127.69" font-size="22.89" fill="#111">2</text>
<text x="1068" y="1157.48" font-size="27.25" text-anchor="middle" fill="#111" textLength="224.49" lengthAdjust="spacingAndGlyphs"><tspan font-style="italic">z</tspan>-scored intensity</text>
<path d="M768.04 585.79L768.04 669.91M768.04 585.79L778.69 585.79M768.04 627.29L778.69 627.29M768.04 669.91L778.69 669.91M751.21 616.07L768.04 616.07M751.21 616.07L751.21 856.64M751.21 856.64L760.19 856.64M760.19 766.07L760.19 949.72M760.19 766.07L764.67 766.07M764.67 722.62L764.67 807.57M764.67 722.62L775.89 722.62M775.89 702.99L775.89 745.05M764.67 807.57L775.89 807.57M775.89 787.66L775.89 829.72M760.19 949.72L767.2 949.72M767.2 893.64L767.2 1003.83M767.2 893.64L782.06 893.64M782.06 872.06L782.06 914.67M769.44 948.32L782.62 948.32M769.44 948.32L769.44 1052.06M767.2 1003.83L769.44 1003.83M769.44 1052.06L773.08 1052.06M773.08 1019.81L773.08 1075.89M773.08 1019.81L782.06 1019.81M782.06 999.35L782.06 1040.84M773.08 1075.89L784.3 1075.89" fill="none" stroke="#000" stroke-width="1.7" stroke-linecap="square"/>
<text x="1446.15" y="525.41" font-size="38" font-weight="bold" fill="#000" stroke="#000" stroke-width="0.9">f</text>
<text x="1802.15" y="523.59" font-size="26.16" text-anchor="middle" fill="#111" textLength="66.66" lengthAdjust="spacingAndGlyphs">MAPK</text>
<line x1="1643.77" y1="530.49" x2="1959.44" y2="530.49" stroke="#111" stroke-width="1.4"/>
<text x="1696.8" y="558.83" font-size="26.16" text-anchor="middle" fill="#111" textLength="48.34" lengthAdjust="spacingAndGlyphs">CTR</text>
<text x="1803.24" y="558.83" font-size="26.16" text-anchor="middle" fill="#111" textLength="64.05" lengthAdjust="spacingAndGlyphs">EPAC</text>
<text x="1908.58" y="558.83" font-size="26.16" text-anchor="middle" fill="#111" textLength="47.07" lengthAdjust="spacingAndGlyphs">PKA</text>
<g shape-rendering="crispEdges">
<rect x="1643.77" y="568.64" width="26.81" height="35.54" fill="#d2e8ff"/>
<rect x="1670.07" y="568.64" width="26.81" height="35.54" fill="#2690ff"/>
<rect x="1696.38" y="568.64" width="26.81" height="35.54" fill="#ffc284"/>
<rect x="1722.69" y="568.64" width="26.81" height="35.54" fill="#f2f8ff"/>
<rect x="1748.99" y="568.64" width="26.81" height="35.54" fill="#86c1ff"/>
<rect x="1775.3" y="568.64" width="26.81" height="35.54" fill="#a6d2ff"/>
<rect x="1801.6" y="568.64" width="26.81" height="35.54" fill="#8cc4ff"/>
<rect x="1827.91" y="568.64" width="26.81" height="35.54" fill="#cce5ff"/>
<rect x="1854.22" y="568.64" width="26.81" height="35.54" fill="#ff9a34"/>
<rect x="1880.52" y="568.64" width="26.81" height="35.54" fill="#ffdcb9"/>
<rect x="1906.83" y="568.64" width="26.81" height="35.54" fill="#ffbf7e"/>
<rect x="1933.13" y="568.64" width="26.81" height="35.54" fill="#ffe3c7"/>
<rect x="1643.77" y="603.68" width="26.81" height="35.54" fill="#fcfeff"/>
<rect x="1670.07" y="603.68" width="26.81" height="35.54" fill="#dfefff"/>
<rect x="1696.38" y="603.68" width="26.81" height="35.54" fill="#ffffff"/>
<rect x="1722.69" y="603.68" width="26.81" height="35.54" fill="#73b8ff"/>
<rect x="1748.99" y="603.68" width="26.81" height="35.54" fill="#ffcf9e"/>
<rect x="1775.3" y="603.68" width="26.81" height="35.54" fill="#ffc891"/>
<rect x="1801.6" y="603.68" width="26.81" height="35.54" fill="#ffbc78"/>
<rect x="1827.91" y="603.68" width="26.81" height="35.54" fill="#ffb66d"/>
<rect x="1854.22" y="603.68" width="26.81" height="35.54" fill="#ffcf9e"/>
<rect x="1880.52" y="603.68" width="26.81" height="35.54" fill="#9fceff"/>
<rect x="1906.83" y="603.68" width="26.81" height="35.54" fill="#4ca4ff"/>
<rect x="1933.13" y="603.68" width="26.81" height="35.54" fill="#2690ff"/>
<rect x="1643.77" y="638.72" width="26.81" height="35.54" fill="#66b1ff"/>
<rect x="1670.07" y="638.72" width="26.81" height="35.54" fill="#60aeff"/>
<rect x="1696.38" y="638.72" width="26.81" height="35.54" fill="#007dff"/>
<rect x="1722.69" y="638.72" width="26.81" height="35.54" fill="#93c8ff"/>
<rect x="1748.99" y="638.72" width="26.81" height="35.54" fill="#ffd5ab"/>
<rect x="1775.3" y="638.72" width="26.81" height="35.54" fill="#ffe0c0"/>
<rect x="1801.6" y="638.72" width="26.81" height="35.54" fill="#ffefdf"/>
<rect x="1827.91" y="638.72" width="26.81" height="35.54" fill="#ffd5ab"/>
<rect x="1854.22" y="638.72" width="26.81" height="35.54" fill="#ffc891"/>
<rect x="1880.52" y="638.72" width="26.81" height="35.54" fill="#ffd2a4"/>
<rect x="1906.83" y="638.72" width="26.81" height="35.54" fill="#ffd8b2"/>
<rect x="1933.13" y="638.72" width="26.81" height="35.54" fill="#ffd8b2"/>
<rect x="1643.77" y="673.76" width="26.81" height="35.54" fill="#4ca4ff"/>
<rect x="1670.07" y="673.76" width="26.81" height="35.54" fill="#4ca4ff"/>
<rect x="1696.38" y="673.76" width="26.81" height="35.54" fill="#60aeff"/>
<rect x="1722.69" y="673.76" width="26.81" height="35.54" fill="#59aaff"/>
<rect x="1748.99" y="673.76" width="26.81" height="35.54" fill="#ffd8b2"/>
<rect x="1775.3" y="673.76" width="26.81" height="35.54" fill="#ffebd7"/>
<rect x="1801.6" y="673.76" width="26.81" height="35.54" fill="#ffe3c7"/>
<rect x="1827.91" y="673.76" width="26.81" height="35.54" fill="#ffe0c0"/>
<rect x="1854.22" y="673.76" width="26.81" height="35.54" fill="#ffc284"/>
<rect x="1880.52" y="673.76" width="26.81" height="35.54" fill="#ffbc78"/>
<rect x="1906.83" y="673.76" width="26.81" height="35.54" fill="#ffe0c0"/>
<rect x="1933.13" y="673.76" width="26.81" height="35.54" fill="#ffd8b2"/>
<rect x="1643.77" y="708.8" width="26.81" height="35.54" fill="#4ca4ff"/>
<rect x="1670.07" y="708.8" width="26.81" height="35.54" fill="#4ca4ff"/>
<rect x="1696.38" y="708.8" width="26.81" height="35.54" fill="#60aeff"/>
<rect x="1722.69" y="708.8" width="26.81" height="35.54" fill="#59aaff"/>
<rect x="1748.99" y="708.8" width="26.81" height="35.54" fill="#ffd8b2"/>
<rect x="1775.3" y="708.8" width="26.81" height="35.54" fill="#ffebd7"/>
<rect x="1801.6" y="708.8" width="26.81" height="35.54" fill="#ffe3c7"/>
<rect x="1827.91" y="708.8" width="26.81" height="35.54" fill="#ffe0c0"/>
<rect x="1854.22" y="708.8" width="26.81" height="35.54" fill="#ffc284"/>
<rect x="1880.52" y="708.8" width="26.81" height="35.54" fill="#ffbc78"/>
<rect x="1906.83" y="708.8" width="26.81" height="35.54" fill="#ffe0c0"/>
<rect x="1933.13" y="708.8" width="26.81" height="35.54" fill="#ffd8b2"/>
<rect x="1643.77" y="743.85" width="26.81" height="35.54" fill="#4ca4ff"/>
<rect x="1670.07" y="743.85" width="26.81" height="35.54" fill="#80beff"/>
<rect x="1696.38" y="743.85" width="26.81" height="35.54" fill="#2690ff"/>
<rect x="1722.69" y="743.85" width="26.81" height="35.54" fill="#53a7ff"/>
<rect x="1748.99" y="743.85" width="26.81" height="35.54" fill="#ffd5ab"/>
<rect x="1775.3" y="743.85" width="26.81" height="35.54" fill="#ffd5ab"/>
<rect x="1801.6" y="743.85" width="26.81" height="35.54" fill="#ffcf9e"/>
<rect x="1827.91" y="743.85" width="26.81" height="35.54" fill="#ffe7cf"/>
<rect x="1854.22" y="743.85" width="26.81" height="35.54" fill="#ffc58b"/>
<rect x="1880.52" y="743.85" width="26.81" height="35.54" fill="#ffd2a4"/>
<rect x="1906.83" y="743.85" width="26.81" height="35.54" fill="#ffd8b2"/>
<rect x="1933.13" y="743.85" width="26.81" height="35.54" fill="#ffe0c0"/>
<rect x="1643.77" y="778.89" width="26.81" height="35.54" fill="#4ca4ff"/>
<rect x="1670.07" y="778.89" width="26.81" height="35.54" fill="#80beff"/>
<rect x="1696.38" y="778.89" width="26.81" height="35.54" fill="#2690ff"/>
<rect x="1722.69" y="778.89" width="26.81" height="35.54" fill="#53a7ff"/>
<rect x="1748.99" y="778.89" width="26.81" height="35.54" fill="#ffd5ab"/>
<rect x="1775.3" y="778.89" width="26.81" height="35.54" fill="#ffd5ab"/>
<rect x="1801.6" y="778.89" width="26.81" height="35.54" fill="#ffcf9e"/>
<rect x="1827.91" y="778.89" width="26.81" height="35.54" fill="#ffe7cf"/>
<rect x="1854.22" y="778.89" width="26.81" height="35.54" fill="#ffc58b"/>
<rect x="1880.52" y="778.89" width="26.81" height="35.54" fill="#ffd2a4"/>
<rect x="1906.83" y="778.89" width="26.81" height="35.54" fill="#ffd8b2"/>
<rect x="1933.13" y="778.89" width="26.81" height="35.54" fill="#ffe0c0"/>
<rect x="1643.77" y="813.93" width="26.81" height="35.54" fill="#86c1ff"/>
<rect x="1670.07" y="813.93" width="26.81" height="35.54" fill="#66b1ff"/>
<rect x="1696.38" y="813.93" width="26.81" height="35.54" fill="#1a8aff"/>
<rect x="1722.69" y="813.93" width="26.81" height="35.54" fill="#409eff"/>
<rect x="1748.99" y="813.93" width="26.81" height="35.54" fill="#ffc891"/>
<rect x="1775.3" y="813.93" width="26.81" height="35.54" fill="#ffe0c0"/>
<rect x="1801.6" y="813.93" width="26.81" height="35.54" fill="#ffdcb9"/>
<rect x="1827.91" y="813.93" width="26.81" height="35.54" fill="#ffe3c7"/>
<rect x="1854.22" y="813.93" width="26.81" height="35.54" fill="#ffd2a4"/>
<rect x="1880.52" y="813.93" width="26.81" height="35.54" fill="#ffc58b"/>
<rect x="1906.83" y="813.93" width="26.81" height="35.54" fill="#ffd8b2"/>
<rect x="1933.13" y="813.93" width="26.81" height="35.54" fill="#ffe0c0"/>
<rect x="1643.77" y="848.97" width="26.81" height="35.54" fill="#acd5ff"/>
<rect x="1670.07" y="848.97" width="26.81" height="35.54" fill="#d2e8ff"/>
<rect x="1696.38" y="848.97" width="26.81" height="35.54" fill="#007dff"/>
<rect x="1722.69" y="848.97" width="26.81" height="35.54" fill="#99cbff"/>
<rect x="1748.99" y="848.97" width="26.81" height="35.54" fill="#ffcf9e"/>
<rect x="1775.3" y="848.97" width="26.81" height="35.54" fill="#cce5ff"/>
<rect x="1801.6" y="848.97" width="26.81" height="35.54" fill="#ffe7cf"/>
<rect x="1827.91" y="848.97" width="26.81" height="35.54" fill="#ffd2a4"/>
<rect x="1854.22" y="848.97" width="26.81" height="35.54" fill="#ffa54a"/>
<rect x="1880.52" y="848.97" width="26.81" height="35.54" fill="#ffe7cf"/>
<rect x="1906.83" y="848.97" width="26.81" height="35.54" fill="#ffd8b2"/>
<rect x="1933.13" y="848.97" width="26.81" height="35.54" fill="#fff5ec"/>
<rect x="1643.77" y="884.02" width="26.81" height="35.54" fill="#fcfeff"/>
<rect x="1670.07" y="884.02" width="26.81" height="35.54" fill="#ffefdf"/>
<rect x="1696.38" y="884.02" width="26.81" height="35.54" fill="#ffefdf"/>
<rect x="1722.69" y="884.02" width="26.81" height="35.54" fill="#ffbc78"/>
<rect x="1748.99" y="884.02" width="26.81" height="35.54" fill="#ffdcb9"/>
<rect x="1775.3" y="884.02" width="26.81" height="35.54" fill="#bfdeff"/>
<rect x="1801.6" y="884.02" width="26.81" height="35.54" fill="#ffb66d"/>
<rect x="1827.91" y="884.02" width="26.81" height="35.54" fill="#ffc284"/>
<rect x="1854.22" y="884.02" width="26.81" height="35.54" fill="#73b8ff"/>
<rect x="1880.52" y="884.02" width="26.81" height="35.54" fill="#59aaff"/>
<rect x="1906.83" y="884.02" width="26.81" height="35.54" fill="#007dff"/>
<rect x="1933.13" y="884.02" width="26.81" height="35.54" fill="#ffdcb9"/>
<rect x="1643.77" y="919.06" width="26.81" height="35.54" fill="#ff8f1f"/>
<rect x="1670.07" y="919.06" width="26.81" height="35.54" fill="#ffa54a"/>
<rect x="1696.38" y="919.06" width="26.81" height="35.54" fill="#ffc891"/>
<rect x="1722.69" y="919.06" width="26.81" height="35.54" fill="#b2d8ff"/>
<rect x="1748.99" y="919.06" width="26.81" height="35.54" fill="#80beff"/>
<rect x="1775.3" y="919.06" width="26.81" height="35.54" fill="#f9fcff"/>
<rect x="1801.6" y="919.06" width="26.81" height="35.54" fill="#a6d2ff"/>
<rect x="1827.91" y="919.06" width="26.81" height="35.54" fill="#80beff"/>
<rect x="1854.22" y="919.06" width="26.81" height="35.54" fill="#ffdcb9"/>
<rect x="1880.52" y="919.06" width="26.81" height="35.54" fill="#b2d8ff"/>
<rect x="1906.83" y="919.06" width="26.81" height="35.54" fill="#ffe0c0"/>
<rect x="1933.13" y="919.06" width="26.81" height="35.54" fill="#73b8ff"/>
<rect x="1643.77" y="954.1" width="26.81" height="35.54" fill="#ffcb97"/>
<rect x="1670.07" y="954.1" width="26.81" height="35.54" fill="#ffbc78"/>
<rect x="1696.38" y="954.1" width="26.81" height="35.54" fill="#ffc284"/>
<rect x="1722.69" y="954.1" width="26.81" height="35.54" fill="#ffab56"/>
<rect x="1748.99" y="954.1" width="26.81" height="35.54" fill="#d9ecff"/>
<rect x="1775.3" y="954.1" width="26.81" height="35.54" fill="#ffdcb9"/>
<rect x="1801.6" y="954.1" width="26.81" height="35.54" fill="#ffffff"/>
<rect x="1827.91" y="954.1" width="26.81" height="35.54" fill="#e6f2ff"/>
<rect x="1854.22" y="954.1" width="26.81" height="35.54" fill="#93c8ff"/>
<rect x="1880.52" y="954.1" width="26.81" height="35.54" fill="#59aaff"/>
<rect x="1906.83" y="954.1" width="26.81" height="35.54" fill="#73b8ff"/>
<rect x="1933.13" y="954.1" width="26.81" height="35.54" fill="#409eff"/>
<rect x="1643.77" y="989.14" width="26.81" height="35.54" fill="#ffcb97"/>
<rect x="1670.07" y="989.14" width="26.81" height="35.54" fill="#ffbc78"/>
<rect x="1696.38" y="989.14" width="26.81" height="35.54" fill="#ffc284"/>
<rect x="1722.69" y="989.14" width="26.81" height="35.54" fill="#ffab56"/>
<rect x="1748.99" y="989.14" width="26.81" height="35.54" fill="#d9ecff"/>
<rect x="1775.3" y="989.14" width="26.81" height="35.54" fill="#ffdcb9"/>
<rect x="1801.6" y="989.14" width="26.81" height="35.54" fill="#ffffff"/>
<rect x="1827.91" y="989.14" width="26.81" height="35.54" fill="#e6f2ff"/>
<rect x="1854.22" y="989.14" width="26.81" height="35.54" fill="#93c8ff"/>
<rect x="1880.52" y="989.14" width="26.81" height="35.54" fill="#59aaff"/>
<rect x="1906.83" y="989.14" width="26.81" height="35.54" fill="#73b8ff"/>
<rect x="1933.13" y="989.14" width="26.81" height="35.54" fill="#409eff"/>
<rect x="1643.77" y="1024.19" width="26.81" height="35.54" fill="#ffe3c7"/>
<rect x="1670.07" y="1024.19" width="26.81" height="35.54" fill="#ff8a15"/>
<rect x="1696.38" y="1024.19" width="26.81" height="35.54" fill="#ffbc78"/>
<rect x="1722.69" y="1024.19" width="26.81" height="35.54" fill="#ffb66d"/>
<rect x="1748.99" y="1024.19" width="26.81" height="35.54" fill="#8cc4ff"/>
<rect x="1775.3" y="1024.19" width="26.81" height="35.54" fill="#acd5ff"/>
<rect x="1801.6" y="1024.19" width="26.81" height="35.54" fill="#fff8f2"/>
<rect x="1827.91" y="1024.19" width="26.81" height="35.54" fill="#cce5ff"/>
<rect x="1854.22" y="1024.19" width="26.81" height="35.54" fill="#cce5ff"/>
<rect x="1880.52" y="1024.19" width="26.81" height="35.54" fill="#2690ff"/>
<rect x="1906.83" y="1024.19" width="26.81" height="35.54" fill="#c6e2ff"/>
<rect x="1933.13" y="1024.19" width="26.81" height="35.54" fill="#d2e8ff"/>
<rect x="1643.77" y="1059.23" width="26.81" height="35.54" fill="#ffd5ab"/>
<rect x="1670.07" y="1059.23" width="26.81" height="35.54" fill="#ffc891"/>
<rect x="1696.38" y="1059.23" width="26.81" height="35.54" fill="#ffb061"/>
<rect x="1722.69" y="1059.23" width="26.81" height="35.54" fill="#ffa54a"/>
<rect x="1748.99" y="1059.23" width="26.81" height="35.54" fill="#2690ff"/>
<rect x="1775.3" y="1059.23" width="26.81" height="35.54" fill="#fff8f2"/>
<rect x="1801.6" y="1059.23" width="26.81" height="35.54" fill="#fff3e8"/>
<rect x="1827.91" y="1059.23" width="26.81" height="35.54" fill="#e6f2ff"/>
<rect x="1854.22" y="1059.23" width="26.81" height="35.54" fill="#80beff"/>
<rect x="1880.52" y="1059.23" width="26.81" height="35.54" fill="#99cbff"/>
<rect x="1906.83" y="1059.23" width="26.81" height="35.54" fill="#99cbff"/>
<rect x="1933.13" y="1059.23" width="26.81" height="35.54" fill="#cce5ff"/>
</g>
<rect x="1643.77" y="568.64" width="315.67" height="525.64" fill="none" stroke="#777" stroke-width="1.4"/>
<line x1="1750.2" y1="568.64" x2="1750.2" y2="1094.27" stroke="#111" stroke-width="1.2"/>
<line x1="1853.73" y1="568.64" x2="1853.73" y2="1094.27" stroke="#111" stroke-width="1.2"/>
<text x="1630.69" y="595.41" font-size="27.25" text-anchor="end" fill="#111" textLength="85.88" lengthAdjust="spacingAndGlyphs">T829_1</text>
<text x="1969.61" y="595.41" font-size="27.25" fill="#111" textLength="53.09" lengthAdjust="spacingAndGlyphs">HGK</text>
<text x="1630.69" y="630.45" font-size="27.25" text-anchor="end" fill="#111" textLength="56.66" lengthAdjust="spacingAndGlyphs">S2_1</text>
<text x="1969.61" y="630.45" font-size="27.25" fill="#111" textLength="63.27" lengthAdjust="spacingAndGlyphs">P38A</text>
<text x="1630.69" y="665.49" font-size="27.25" text-anchor="end" fill="#cf2233" textLength="93.78" lengthAdjust="spacingAndGlyphs">Y185_1*</text>
<text x="1969.61" y="665.49" font-size="27.25" fill="#111" textLength="64.84" lengthAdjust="spacingAndGlyphs">ERK2</text>
<text x="1630.69" y="700.53" font-size="27.25" text-anchor="end" fill="#cf2233" textLength="85.03" lengthAdjust="spacingAndGlyphs">Y90_2*</text>
<text x="1969.61" y="700.53" font-size="27.25" fill="#111" textLength="62.34" lengthAdjust="spacingAndGlyphs">ERK1</text>
<text x="1630.69" y="735.58" font-size="27.25" text-anchor="end" fill="#cf2233" textLength="83.65" lengthAdjust="spacingAndGlyphs">T88_2*</text>
<text x="1969.61" y="735.58" font-size="27.25" fill="#111" textLength="62.34" lengthAdjust="spacingAndGlyphs">ERK1</text>
<text x="1630.69" y="770.62" font-size="27.25" text-anchor="end" fill="#cf2233" textLength="95.61" lengthAdjust="spacingAndGlyphs">T183_2*</text>
<text x="1969.61" y="770.62" font-size="27.25" fill="#111" textLength="64.84" lengthAdjust="spacingAndGlyphs">ERK2</text>
<text x="1630.69" y="805.66" font-size="27.25" text-anchor="end" fill="#cf2233" textLength="96.29" lengthAdjust="spacingAndGlyphs">Y185_2*</text>
<text x="1969.61" y="805.66" font-size="27.25" fill="#111" textLength="64.84" lengthAdjust="spacingAndGlyphs">ERK2</text>
<text x="1630.69" y="840.7" font-size="27.25" text-anchor="end" fill="#cf2233" textLength="82.52" lengthAdjust="spacingAndGlyphs">Y90_1*</text>
<text x="1969.61" y="840.7" font-size="27.25" fill="#111" textLength="62.34" lengthAdjust="spacingAndGlyphs">ERK1</text>
<text x="1630.69" y="875.75" font-size="27.25" text-anchor="end" fill="#cf2233" textLength="92.53" lengthAdjust="spacingAndGlyphs">S412_1*</text>
<text x="1969.61" y="875.75" font-size="27.25" fill="#111" textLength="82.65" lengthAdjust="spacingAndGlyphs">MEKK7</text>
<text x="1630.69" y="910.79" font-size="27.25" text-anchor="end" fill="#111" textLength="84.2" lengthAdjust="spacingAndGlyphs">S163_1</text>
<text x="1969.61" y="910.79" font-size="27.25" fill="#111" textLength="83.9" lengthAdjust="spacingAndGlyphs">MEKK2</text>
<text x="1630.69" y="945.83" font-size="27.25" text-anchor="end" fill="#111" textLength="86.98" lengthAdjust="spacingAndGlyphs">S340_1</text>
<text x="1969.61" y="945.83" font-size="27.25" fill="#111" textLength="83.9" lengthAdjust="spacingAndGlyphs">MEKK2</text>
<text x="1630.69" y="980.87" font-size="27.25" text-anchor="end" fill="#111" textLength="89.34" lengthAdjust="spacingAndGlyphs">S650_2</text>
<text x="1969.61" y="980.87" font-size="27.25" fill="#111" textLength="53.09" lengthAdjust="spacingAndGlyphs">HGK</text>
<text x="1630.69" y="1015.91" font-size="27.25" text-anchor="end" fill="#111" textLength="86.84" lengthAdjust="spacingAndGlyphs">S647_2</text>
<text x="1969.61" y="1015.91" font-size="27.25" fill="#111" textLength="53.09" lengthAdjust="spacingAndGlyphs">HGK</text>
<text x="1630.69" y="1050.96" font-size="27.25" text-anchor="end" fill="#111" textLength="88.64" lengthAdjust="spacingAndGlyphs">S824_2</text>
<text x="1969.61" y="1050.96" font-size="27.25" fill="#111" textLength="53.09" lengthAdjust="spacingAndGlyphs">HGK</text>
<text x="1630.69" y="1086" font-size="27.25" text-anchor="end" fill="#111" textLength="86.7" lengthAdjust="spacingAndGlyphs">S553_1</text>
<text x="1969.61" y="1086" font-size="27.25" fill="#111" textLength="53.09" lengthAdjust="spacingAndGlyphs">HGK</text>
<rect x="1644.49" y="1109.53" width="314.95" height="17.07" fill="url(#cb)" stroke="#666" stroke-width="1.2"/>
<text x="1632.51" y="1127.69" font-size="22.89" text-anchor="end" fill="#111" textLength="24.41" lengthAdjust="spacingAndGlyphs">−2</text>
<text x="1969.25" y="1127.69" font-size="22.89" fill="#111">2</text>
<text x="1801.42" y="1159.29" font-size="27.25" text-anchor="middle" fill="#111" textLength="224.49" lengthAdjust="spacingAndGlyphs"><tspan font-style="italic">z</tspan>-scored intensity</text>
<path d="M1472.88 581.02L1530.89 581.02M1472.88 581.02L1472.88 700.69M1476.24 616.89L1530.89 616.89M1476.24 616.89L1476.24 784.2M1472.88 700.69L1476.24 700.69M1445.41 640.43L1472.88 640.43M1445.41 640.43L1445.41 941.71M1476.24 784.2L1493.9 784.2M1493.9 704.33L1493.9 866.32M1493.9 866.32L1530.89 866.32M1493.9 704.33L1528.65 704.33M1512.68 651.08L1512.68 754.78M1512.68 651.08L1530.89 651.08M1528.65 687.52L1528.65 723.11M1528.65 687.52L1530.89 687.52M1528.65 723.11L1530.89 723.11M1514.08 704.33L1514.08 803.82M1516.04 775.8L1528.65 775.8M1528.65 758.98L1528.65 794.01M1528.65 758.98L1530.89 758.98M1528.65 794.01L1530.89 794.01M1516.04 775.8L1516.04 829.89M1516.04 829.89L1530.89 829.89M1445.41 941.71L1458.03 941.71M1458.03 900.51L1458.03 980.38M1458.03 900.51L1530.89 900.51M1458.03 980.38L1468.39 980.38M1468.39 936.94L1468.39 1027.18M1468.39 936.94L1530.89 936.94M1468.39 1027.18L1492.22 1027.18M1492.22 991.59L1492.22 1061.66M1492.22 991.59L1528.65 991.59M1528.65 973.38L1528.65 1008.97M1528.65 973.38L1530.89 973.38M1528.65 1008.97L1530.89 1008.97M1494.46 1043.44L1494.46 1079.87M1494.46 1043.44L1530.89 1043.44M1494.46 1079.87L1530.89 1079.87M1492.22 1061.66L1494.46 1061.66" fill="none" stroke="#000" stroke-width="1.7" stroke-linecap="square"/>
<text x="1" y="1233.91" font-size="38" font-weight="bold" fill="#000" stroke="#000" stroke-width="0.9">g</text>
<text x="321.87" y="1309.97" font-size="26.16" text-anchor="middle" fill="#111" textLength="45.74" lengthAdjust="spacingAndGlyphs">BAT</text>
<line x1="117.13" y1="1323.13" x2="526.94" y2="1323.13" stroke="#222" stroke-width="1.4"/>
<text x="228.81" y="1356.5" font-size="26.16" text-anchor="middle" fill="#111" textLength="36.57" lengthAdjust="spacingAndGlyphs">WT</text>
<text x="442.22" y="1356.5" font-size="26.16" text-anchor="middle" fill="#111" textLength="34.7" lengthAdjust="spacingAndGlyphs">−/−</text>
<text x="533.67" y="1356.5" font-size="26.71" fill="#111" textLength="62.41" lengthAdjust="spacingAndGlyphs">(kDa)</text>
<line x1="117.13" y1="1370.62" x2="353" y2="1370.62" stroke="#222" stroke-width="1.4"/>
<line x1="358.78" y1="1370.62" x2="526.29" y2="1370.62" stroke="#222" stroke-width="1.4"/>
<rect x="118.1" y="1389.23" width="409.8" height="21.18" fill="#fff"/>
<g clip-path="url(#c9)">
<rect x="125.8" y="1385.38" width="50.06" height="28.88" fill="#d9d9d9" filter="url(#b1)"/><rect x="185.17" y="1385.38" width="50.06" height="28.88" fill="#d9d9d9" filter="url(#b1)"/><rect x="242.93" y="1385.38" width="50.06" height="28.88" fill="#d9d9d9" filter="url(#b1)"/><rect x="300.69" y="1385.38" width="50.06" height="28.88" fill="#d9d9d9" filter="url(#b1)"/><rect x="358.46" y="1385.38" width="50.06" height="28.88" fill="#d9d9d9" filter="url(#b1)"/><rect x="416.22" y="1385.38" width="50.06" height="28.88" fill="#d9d9d9" filter="url(#b1)"/><rect x="473.99" y="1385.38" width="50.06" height="28.88" fill="#d9d9d9" filter="url(#b1)"/>
<rect x="127.72" y="1388.59" width="48.78" height="23.11" rx="11.55" ry="11.55" fill="#000" opacity="0.22" filter="url(#b2)"/>
<rect x="129.01" y="1398.86" width="12.19" height="9.63" rx="4.81" ry="4.81" fill="#000" opacity="0.55" filter="url(#b1)"/>
<rect x="128.36" y="1401.43" width="47.49" height="8.34" rx="4.17" ry="4.17" fill="#000" opacity="0.15" filter="url(#b2)"/>
<rect x="187.73" y="1388.59" width="47.17" height="16.05" rx="8.02" ry="8.02" fill="#000" opacity="0.3" filter="url(#b2)"/>
<rect x="245.5" y="1388.59" width="47.17" height="16.05" rx="8.02" ry="8.02" fill="#000" opacity="0.25" filter="url(#b2)"/>
<rect x="303.26" y="1388.59" width="45.89" height="16.05" rx="8.02" ry="8.02" fill="#000" opacity="0.3" filter="url(#b2)"/>
<rect x="187.73" y="1395.65" width="47.17" height="12.84" rx="6.42" ry="6.42" fill="#000" opacity="1" filter="url(#b1)"/>
<rect x="192.55" y="1396.94" width="38.51" height="9.63" rx="4.81" ry="4.81" fill="#000" opacity="0.7" filter="url(#b0)"/>
<rect x="245.5" y="1396.94" width="47.17" height="10.91" rx="5.46" ry="5.46" fill="#000" opacity="0.95" filter="url(#b1)"/>
<rect x="303.26" y="1395.65" width="45.89" height="11.55" rx="5.78" ry="5.78" fill="#000" opacity="0.95" filter="url(#b1)"/>
<rect x="306.47" y="1401.43" width="40.11" height="7.06" rx="3.53" ry="3.53" fill="#000" opacity="0.4" filter="url(#b1)"/>
<rect x="362.63" y="1405.28" width="44.93" height="6.42" rx="3.21" ry="3.21" fill="#000" opacity="0.2" filter="url(#b2)"/>
<rect x="420.39" y="1405.92" width="44.93" height="5.78" rx="2.89" ry="2.89" fill="#000" opacity="0.15" filter="url(#b2)"/>
<rect x="478.16" y="1405.28" width="44.93" height="6.42" rx="3.21" ry="3.21" fill="#000" opacity="0.2" filter="url(#b2)"/>
</g>
<rect x="118.1" y="1389.23" width="409.8" height="21.18" fill="none" stroke="#111" stroke-width="1.25"/>
<rect x="118.1" y="1418.12" width="409.8" height="45.89" fill="#ebebeb"/>
<g clip-path="url(#c10)">
<rect x="126.44" y="1433.52" width="43.64" height="8.34" rx="4.17" ry="4.17" fill="#000" opacity="0.9" filter="url(#b1)"/>
<rect x="126.44" y="1447" width="43.64" height="8.99" rx="4.49" ry="4.49" fill="#000" opacity="0.95" filter="url(#b1)"/>
<rect x="185.17" y="1433.52" width="43.64" height="8.34" rx="4.17" ry="4.17" fill="#000" opacity="0.95" filter="url(#b1)"/>
<rect x="185.17" y="1447" width="43.64" height="8.99" rx="4.49" ry="4.49" fill="#000" opacity="1" filter="url(#b1)"/>
<rect x="242.93" y="1433.52" width="43.64" height="8.34" rx="4.17" ry="4.17" fill="#000" opacity="0.85" filter="url(#b1)"/>
<rect x="242.93" y="1447" width="43.64" height="8.99" rx="4.49" ry="4.49" fill="#000" opacity="0.95" filter="url(#b1)"/>
<rect x="301.01" y="1433.52" width="43.64" height="8.34" rx="4.17" ry="4.17" fill="#000" opacity="0.85" filter="url(#b1)"/>
<rect x="301.01" y="1447" width="43.64" height="8.99" rx="4.49" ry="4.49" fill="#000" opacity="0.95" filter="url(#b1)"/>
<rect x="359.42" y="1433.52" width="43.64" height="8.34" rx="4.17" ry="4.17" fill="#000" opacity="0.5" filter="url(#b1)"/>
<rect x="359.42" y="1447" width="43.64" height="8.99" rx="4.49" ry="4.49" fill="#000" opacity="0.6" filter="url(#b1)"/>
<rect x="417.83" y="1433.52" width="43.64" height="8.34" rx="4.17" ry="4.17" fill="#000" opacity="0.16" filter="url(#b1)"/>
<rect x="417.83" y="1447" width="43.64" height="8.99" rx="4.49" ry="4.49" fill="#000" opacity="0.2" filter="url(#b1)"/>
<rect x="476.23" y="1433.52" width="43.64" height="8.34" rx="4.17" ry="4.17" fill="#000" opacity="0.5" filter="url(#b1)"/>
<rect x="476.23" y="1447" width="43.64" height="8.99" rx="4.49" ry="4.49" fill="#000" opacity="0.5" filter="url(#b1)"/>
<rect x="476.55" y="1436.73" width="43.32" height="16.05" rx="8.02" ry="8.02" fill="#000" opacity="0.15" filter="url(#b3)"/>
<rect x="125.8" y="1430.95" width="12.19" height="5.78" rx="2.89" ry="2.89" fill="#000" opacity="0.5" filter="url(#b1)"/>
</g>
<rect x="118.1" y="1418.12" width="409.8" height="45.89" fill="none" stroke="#111" stroke-width="1.25"/>
<rect x="118.1" y="1472.03" width="409.8" height="46.85" fill="#d0d0d0"/>
<g clip-path="url(#c11)">
<rect x="127.72" y="1487.43" width="47.49" height="11.42" rx="5.71" ry="5.71" fill="#000" opacity="1" filter="url(#b1)"/>
<rect x="130.29" y="1488.07" width="42.36" height="10.27" rx="5.13" ry="5.13" fill="#000" opacity="0.8" filter="url(#b0)"/>
<rect x="130.29" y="1499.63" width="42.36" height="15.72" rx="7.86" ry="7.86" fill="#000" opacity="0.3" filter="url(#b3)"/>
<rect x="185.49" y="1483.58" width="47.49" height="17.59" rx="8.79" ry="8.79" fill="#000" opacity="1" filter="url(#b1)"/>
<rect x="188.05" y="1488.07" width="42.36" height="10.27" rx="5.13" ry="5.13" fill="#000" opacity="0.8" filter="url(#b0)"/>
<rect x="188.05" y="1499.63" width="42.36" height="15.72" rx="7.86" ry="7.86" fill="#000" opacity="0.3" filter="url(#b3)"/>
<rect x="245.18" y="1486.15" width="47.49" height="13.48" rx="6.74" ry="6.74" fill="#000" opacity="1" filter="url(#b1)"/>
<rect x="247.74" y="1488.07" width="42.36" height="10.27" rx="5.13" ry="5.13" fill="#000" opacity="0.8" filter="url(#b0)"/>
<rect x="247.74" y="1499.63" width="42.36" height="15.72" rx="7.86" ry="7.86" fill="#000" opacity="0.3" filter="url(#b3)"/>
<rect x="302.62" y="1486.15" width="47.49" height="13.48" rx="6.74" ry="6.74" fill="#000" opacity="1" filter="url(#b1)"/>
<rect x="305.19" y="1488.07" width="42.36" height="10.27" rx="5.13" ry="5.13" fill="#000" opacity="0.8" filter="url(#b0)"/>
<rect x="305.19" y="1499.63" width="42.36" height="15.72" rx="7.86" ry="7.86" fill="#000" opacity="0.3" filter="url(#b3)"/>
<rect x="360.38" y="1486.15" width="47.49" height="13.48" rx="6.74" ry="6.74" fill="#000" opacity="1" filter="url(#b1)"/>
<rect x="362.95" y="1488.07" width="42.36" height="10.27" rx="5.13" ry="5.13" fill="#000" opacity="0.8" filter="url(#b0)"/>
<rect x="362.95" y="1499.63" width="42.36" height="15.72" rx="7.86" ry="7.86" fill="#000" opacity="0.3" filter="url(#b3)"/>
<rect x="418.15" y="1486.15" width="47.49" height="13.48" rx="6.74" ry="6.74" fill="#000" opacity="1" filter="url(#b1)"/>
<rect x="420.71" y="1488.07" width="42.36" height="10.27" rx="5.13" ry="5.13" fill="#000" opacity="0.8" filter="url(#b0)"/>
<rect x="420.71" y="1499.63" width="42.36" height="15.72" rx="7.86" ry="7.86" fill="#000" opacity="0.3" filter="url(#b3)"/>
<rect x="475.91" y="1486.15" width="47.49" height="13.48" rx="6.74" ry="6.74" fill="#000" opacity="1" filter="url(#b1)"/>
<rect x="478.48" y="1488.07" width="42.36" height="10.27" rx="5.13" ry="5.13" fill="#000" opacity="0.8" filter="url(#b0)"/>
<rect x="478.48" y="1499.63" width="42.36" height="15.72" rx="7.86" ry="7.86" fill="#000" opacity="0.3" filter="url(#b3)"/>
<rect x="187.73" y="1504.12" width="43.96" height="8.34" rx="4.17" ry="4.17" fill="#000" opacity="0.85" filter="url(#b1)"/>
<rect x="247.1" y="1503.48" width="19.25" height="7.06" rx="3.53" ry="3.53" fill="#000" opacity="0.35" filter="url(#b2)"/>
<rect x="127.72" y="1481.66" width="13.48" height="11.23" rx="5.62" ry="5.62" fill="#000" opacity="0.7" filter="url(#b1)"/>
</g>
<rect x="118.1" y="1472.03" width="409.8" height="46.85" fill="none" stroke="#111" stroke-width="1.25"/>
<text x="102.05" y="1407.85" font-size="27.8" text-anchor="end" fill="#111" textLength="75.44" lengthAdjust="spacingAndGlyphs">EPAC1</text>
<text x="102.05" y="1449.57" font-size="27.8" text-anchor="end" fill="#111" textLength="100.88" lengthAdjust="spacingAndGlyphs">pERK1/2</text>
<text x="102.05" y="1503.48" font-size="27.8" text-anchor="end" fill="#111" textLength="85.42" lengthAdjust="spacingAndGlyphs">ERK1/2</text>
<line x1="527.9" y1="1396.94" x2="538.49" y2="1396.94" stroke="#333" stroke-width="1.5"/>
<text x="548.76" y="1404.74" font-size="23.98" fill="#111" textLength="36.1" lengthAdjust="spacingAndGlyphs">125</text>
<line x1="527.9" y1="1424.86" x2="538.49" y2="1424.86" stroke="#333" stroke-width="1.5"/>
<text x="548.76" y="1432.66" font-size="23.98" fill="#111" textLength="26.31" lengthAdjust="spacingAndGlyphs">50</text>
<line x1="527.9" y1="1479.41" x2="538.49" y2="1479.41" stroke="#333" stroke-width="1.5"/>
<text x="548.76" y="1487.21" font-size="23.98" fill="#111" textLength="26.31" lengthAdjust="spacingAndGlyphs">50</text>
<line x1="719.13" y1="1277.03" x2="719.13" y2="1574.35" stroke="#444" stroke-width="1.6"/>
<line x1="706.09" y1="1277.83" x2="719.13" y2="1277.83" stroke="#222" stroke-width="1.3"/>
<text x="696.59" y="1286.4" font-size="24.14" text-anchor="end" fill="#111" textLength="33.91" lengthAdjust="spacingAndGlyphs">0.3</text>
<line x1="706.09" y1="1376.52" x2="719.13" y2="1376.52" stroke="#222" stroke-width="1.3"/>
<text x="696.59" y="1385.09" font-size="24.14" text-anchor="end" fill="#111" textLength="33.16" lengthAdjust="spacingAndGlyphs">0.2</text>
<line x1="706.09" y1="1475.65" x2="719.13" y2="1475.65" stroke="#222" stroke-width="1.3"/>
<text x="696.59" y="1484.22" font-size="24.14" text-anchor="end" fill="#111" textLength="30.9" lengthAdjust="spacingAndGlyphs">0.1</text>
<line x1="706.09" y1="1574.35" x2="719.13" y2="1574.35" stroke="#222" stroke-width="1.3"/>
<text x="696.59" y="1582.92" font-size="24.14" text-anchor="end" fill="#111">0</text>
<line x1="706.09" y1="1574.35" x2="809.13" y2="1574.35" stroke="#222" stroke-width="1.4"/>
<rect x="726.52" y="1387.39" width="29.57" height="186.96" fill="#000" stroke="#000" stroke-width="1.25"/>
<rect x="771.3" y="1468.7" width="28.7" height="105.65" fill="#9e0505" stroke="#333" stroke-width="1.25"/>
<line x1="741.3" y1="1387.39" x2="741.3" y2="1372.17" stroke="#1a1a1a" stroke-width="1.4"/>
<line x1="737.1" y1="1372.17" x2="745.51" y2="1372.17" stroke="#1a1a1a" stroke-width="1.4"/>
<line x1="785.65" y1="1468.7" x2="785.65" y2="1453.04" stroke="#1a1a1a" stroke-width="1.4"/>
<line x1="781.44" y1="1453.04" x2="789.86" y2="1453.04" stroke="#1a1a1a" stroke-width="1.4"/>
<circle cx="741.3" cy="1345.65" r="5.85" fill="#fff" stroke="#111" stroke-width="1.2"/>
<circle cx="733.48" cy="1391.74" r="5.85" fill="#fff" stroke="#111" stroke-width="1.2"/>
<circle cx="748.7" cy="1396.09" r="5.85" fill="#fff" stroke="#111" stroke-width="1.2"/>
<circle cx="741.3" cy="1415.22" r="5.85" fill="#fff" stroke="#111" stroke-width="1.2"/>
<circle cx="777.83" cy="1449.13" r="5.85" fill="#fff" stroke="#111" stroke-width="1.2"/>
<circle cx="793.04" cy="1455.65" r="5.85" fill="#fff" stroke="#111" stroke-width="1.2"/>
<circle cx="785.65" cy="1501.3" r="5.85" fill="#fff" stroke="#111" stroke-width="1.2"/>
<text x="726.96" y="1319.13" font-size="19.09" fill="#111" textLength="88.24" lengthAdjust="spacingAndGlyphs"><tspan font-style="italic">P</tspan> = 0.0149</text>
<line x1="745.22" y1="1327.39" x2="787.39" y2="1327.39" stroke="#444" stroke-width="1.3"/>
<text x="0" y="0" font-size="25.62" text-anchor="middle" fill="#111" textLength="230.47" lengthAdjust="spacingAndGlyphs" transform="translate(640 1426.09) rotate(-90)">(pERK1/2)/(ERK1/2)</text>
<rect x="724.78" y="1594.35" width="32.61" height="10" fill="#000" stroke="#000" stroke-width="1"/>
<text x="770" y="1606.09" font-size="23.44" fill="#111" textLength="32.76" lengthAdjust="spacingAndGlyphs">WT</text>
<rect x="724.78" y="1618.26" width="32.61" height="9.57" fill="#9e0505" stroke="#333" stroke-width="1.2"/>
<text x="770" y="1630" font-size="23.44" fill="#111" textLength="31.08" lengthAdjust="spacingAndGlyphs">−/−</text>
<text x="912.61" y="1233.48" font-size="38" font-weight="bold" fill="#000" stroke="#000" stroke-width="0.9">h</text>
<line x1="1022.17" y1="1277.03" x2="1022.17" y2="1574.35" stroke="#444" stroke-width="1.6"/>
<line x1="1009.57" y1="1277.83" x2="1022.17" y2="1277.83" stroke="#222" stroke-width="1.3"/>
<text x="1000.07" y="1286.4" font-size="24.14" text-anchor="end" fill="#111" textLength="33.91" lengthAdjust="spacingAndGlyphs">0.8</text>
<line x1="1009.57" y1="1351.74" x2="1022.17" y2="1351.74" stroke="#222" stroke-width="1.3"/>
<text x="1000.07" y="1360.31" font-size="24.14" text-anchor="end" fill="#111" textLength="33.41" lengthAdjust="spacingAndGlyphs">0.6</text>
<line x1="1009.57" y1="1425.65" x2="1022.17" y2="1425.65" stroke="#222" stroke-width="1.3"/>
<text x="1000.07" y="1434.22" font-size="24.14" text-anchor="end" fill="#111" textLength="32.91" lengthAdjust="spacingAndGlyphs">0.4</text>
<line x1="1009.57" y1="1500.43" x2="1022.17" y2="1500.43" stroke="#222" stroke-width="1.3"/>
<text x="1000.07" y="1509" font-size="24.14" text-anchor="end" fill="#111" textLength="33.16" lengthAdjust="spacingAndGlyphs">0.2</text>
<line x1="1009.57" y1="1574.35" x2="1022.17" y2="1574.35" stroke="#222" stroke-width="1.3"/>
<text x="1000.07" y="1582.92" font-size="24.14" text-anchor="end" fill="#111">0</text>
<line x1="1009.57" y1="1574.35" x2="1377.83" y2="1574.35" stroke="#222" stroke-width="1.4"/>
<rect x="1041.74" y="1370.87" width="33.91" height="203.48" fill="#fff" stroke="#2a2a2a" stroke-width="1.25"/>
<line x1="1058.7" y1="1363.04" x2="1058.7" y2="1378.7" stroke="#222" stroke-width="1.4"/>
<line x1="1049.57" y1="1363.04" x2="1067.83" y2="1363.04" stroke="#222" stroke-width="1.4"/>
<line x1="1049.57" y1="1378.7" x2="1067.83" y2="1378.7" stroke="#222" stroke-width="1.4"/>
<rect x="1097.39" y="1340.43" width="33.91" height="233.91" fill="#cf0868" stroke="#2a2a2a" stroke-width="1.25"/>
<line x1="1114.35" y1="1332.61" x2="1114.35" y2="1345.65" stroke="#222" stroke-width="1.4"/>
<line x1="1105.22" y1="1332.61" x2="1123.48" y2="1332.61" stroke="#222" stroke-width="1.4"/>
<line x1="1105.22" y1="1345.65" x2="1123.48" y2="1345.65" stroke="#222" stroke-width="1.4"/>
<rect x="1153.04" y="1338.26" width="33.91" height="236.09" fill="#0404c4" stroke="#2a2a2a" stroke-width="1.25"/>
<line x1="1170" y1="1330" x2="1170" y2="1345.65" stroke="#222" stroke-width="1.4"/>
<line x1="1160.87" y1="1330" x2="1179.13" y2="1330" stroke="#222" stroke-width="1.4"/>
<line x1="1160.87" y1="1345.65" x2="1179.13" y2="1345.65" stroke="#222" stroke-width="1.4"/>
<rect x="1208.7" y="1412.61" width="33.91" height="161.74" fill="#fffc9e" stroke="#2a2a2a" stroke-width="1.25"/>
<line x1="1225.65" y1="1408.7" x2="1225.65" y2="1415.22" stroke="#222" stroke-width="1.4"/>
<line x1="1216.52" y1="1408.7" x2="1234.78" y2="1408.7" stroke="#222" stroke-width="1.4"/>
<line x1="1216.52" y1="1415.22" x2="1234.78" y2="1415.22" stroke="#222" stroke-width="1.4"/>
<rect x="1263.91" y="1432.61" width="34.35" height="141.74" fill="#cf0868"/>
<g clip-path="url(#hb1)">
<line x1="1265.21" y1="1429.1" x2="1296.96" y2="1397.35" stroke="#fffc9e" stroke-width="8"/>
<line x1="1265.21" y1="1458.7" x2="1296.96" y2="1426.95" stroke="#fffc9e" stroke-width="8"/>
<line x1="1265.21" y1="1488.3" x2="1296.96" y2="1456.55" stroke="#fffc9e" stroke-width="8"/>
<line x1="1265.21" y1="1517.9" x2="1296.96" y2="1486.15" stroke="#fffc9e" stroke-width="8"/>
<line x1="1265.21" y1="1547.5" x2="1296.96" y2="1515.75" stroke="#fffc9e" stroke-width="8"/>
<line x1="1265.21" y1="1577.1" x2="1296.96" y2="1545.35" stroke="#fffc9e" stroke-width="8"/>
<line x1="1265.21" y1="1606.7" x2="1296.96" y2="1574.95" stroke="#fffc9e" stroke-width="8"/>
</g>
<rect x="1263.91" y="1432.61" width="34.35" height="141.74" fill="none" stroke="#2a2a2a" stroke-width="1.25"/>
<line x1="1281.09" y1="1424.78" x2="1281.09" y2="1439.57" stroke="#222" stroke-width="1.4"/>
<line x1="1271.96" y1="1424.78" x2="1290.22" y2="1424.78" stroke="#222" stroke-width="1.4"/>
<line x1="1271.96" y1="1439.57" x2="1290.22" y2="1439.57" stroke="#222" stroke-width="1.4"/>
<rect x="1319.57" y="1415.22" width="34.35" height="159.13" fill="#0404c4"/>
<g clip-path="url(#hb2)">
<line x1="1320.87" y1="1409.8" x2="1352.61" y2="1378.05" stroke="#fffc9e" stroke-width="8"/>
<line x1="1320.87" y1="1439.4" x2="1352.61" y2="1407.65" stroke="#fffc9e" stroke-width="8"/>
<line x1="1320.87" y1="1469" x2="1352.61" y2="1437.25" stroke="#fffc9e" stroke-width="8"/>
<line x1="1320.87" y1="1498.6" x2="1352.61" y2="1466.85" stroke="#fffc9e" stroke-width="8"/>
<line x1="1320.87" y1="1528.2" x2="1352.61" y2="1496.45" stroke="#fffc9e" stroke-width="8"/>
<line x1="1320.87" y1="1557.8" x2="1352.61" y2="1526.05" stroke="#fffc9e" stroke-width="8"/>
<line x1="1320.87" y1="1587.4" x2="1352.61" y2="1555.65" stroke="#fffc9e" stroke-width="8"/>
<line x1="1320.87" y1="1617" x2="1352.61" y2="1585.25" stroke="#fffc9e" stroke-width="8"/>
</g>
<rect x="1319.57" y="1415.22" width="34.35" height="159.13" fill="none" stroke="#2a2a2a" stroke-width="1.25"/>
<line x1="1336.74" y1="1406.96" x2="1336.74" y2="1416.96" stroke="#222" stroke-width="1.4"/>
<line x1="1327.61" y1="1406.96" x2="1345.87" y2="1406.96" stroke="#222" stroke-width="1.4"/>
<line x1="1327.61" y1="1416.96" x2="1345.87" y2="1416.96" stroke="#222" stroke-width="1.4"/>
<circle cx="1058.7" cy="1350.43" r="5.85" fill="#fff" stroke="#111" stroke-width="1.2"/>
<circle cx="1046.09" cy="1380.87" r="5.85" fill="#fff" stroke="#111" stroke-width="1.2"/>
<circle cx="1058.7" cy="1370" r="5.85" fill="#fff" stroke="#111" stroke-width="1.2"/>
<circle cx="1071.3" cy="1375.65" r="5.85" fill="#fff" stroke="#111" stroke-width="1.2"/>
<circle cx="1102.17" cy="1333.04" r="5.85" fill="#fff" stroke="#111" stroke-width="1.2"/>
<circle cx="1126.52" cy="1323.91" r="5.85" fill="#fff" stroke="#111" stroke-width="1.2"/>
<circle cx="1102.17" cy="1350" r="5.85" fill="#fff" stroke="#111" stroke-width="1.2"/>
<circle cx="1126.52" cy="1346.09" r="5.85" fill="#fff" stroke="#111" stroke-width="1.2"/>
<circle cx="1157.83" cy="1332.17" r="5.85" fill="#fff" stroke="#111" stroke-width="1.2"/>
<circle cx="1182.17" cy="1321.74" r="5.85" fill="#fff" stroke="#111" stroke-width="1.2"/>
<circle cx="1182.17" cy="1340.87" r="5.85" fill="#fff" stroke="#111" stroke-width="1.2"/>
<circle cx="1170" cy="1354.78" r="5.85" fill="#fff" stroke="#111" stroke-width="1.2"/>
<circle cx="1213.48" cy="1403.91" r="5.85" fill="#fff" stroke="#111" stroke-width="1.2"/>
<circle cx="1225.65" cy="1403.91" r="5.85" fill="#fff" stroke="#111" stroke-width="1.2"/>
<circle cx="1237.83" cy="1413.48" r="5.85" fill="#fff" stroke="#111" stroke-width="1.2"/>
<circle cx="1213.48" cy="1419.57" r="5.85" fill="#fff" stroke="#111" stroke-width="1.2"/>
<circle cx="1269.13" cy="1420" r="5.85" fill="#fff" stroke="#111" stroke-width="1.2"/>
<circle cx="1293.48" cy="1418.7" r="5.85" fill="#fff" stroke="#111" stroke-width="1.2"/>
<circle cx="1269.13" cy="1443.91" r="5.85" fill="#fff" stroke="#111" stroke-width="1.2"/>
<circle cx="1293.48" cy="1440.87" r="5.85" fill="#fff" stroke="#111" stroke-width="1.2"/>
<circle cx="1336.96" cy="1395.22" r="5.85" fill="#fff" stroke="#111" stroke-width="1.2"/>
<circle cx="1324.78" cy="1410.43" r="5.85" fill="#fff" stroke="#111" stroke-width="1.2"/>
<circle cx="1349.13" cy="1410.43" r="5.85" fill="#fff" stroke="#111" stroke-width="1.2"/>
<circle cx="1336.96" cy="1422.61" r="5.85" fill="#fff" stroke="#111" stroke-width="1.2"/>
<text x="1096.09" y="1225.65" font-size="19.09" fill="#111" textLength="90.34" lengthAdjust="spacingAndGlyphs"><tspan font-style="italic">P</tspan> = 0.0025</text>
<line x1="1059.13" y1="1232.61" x2="1225.65" y2="1232.61" stroke="#444" stroke-width="1.3"/>
<text x="1208.26" y="1255.22" font-size="19.09" fill="#111" textLength="89.04" lengthAdjust="spacingAndGlyphs"><tspan font-style="italic">P</tspan> &lt; 0.0001</text>
<line x1="1170" y1="1261.3" x2="1336.52" y2="1261.3" stroke="#444" stroke-width="1.3"/>
<text x="1064.78" y="1266.96" font-size="19.09" fill="#111" textLength="88.44" lengthAdjust="spacingAndGlyphs"><tspan font-style="italic">P</tspan> = 0.0201</text>
<line x1="1059.57" y1="1276.09" x2="1158.26" y2="1276.09" stroke="#444" stroke-width="1.3"/>
<text x="1166.96" y="1286.52" font-size="19.09" fill="#111" textLength="89.04" lengthAdjust="spacingAndGlyphs"><tspan font-style="italic">P</tspan> &lt; 0.0001</text>
<line x1="1138.26" y1="1293.48" x2="1286.52" y2="1293.48" stroke="#444" stroke-width="1.3"/>
<text x="1034.78" y="1316.09" font-size="19.09" fill="#111" textLength="88.94" lengthAdjust="spacingAndGlyphs"><tspan font-style="italic">P</tspan> = 0.0276</text>
<line x1="1051.3" y1="1323.04" x2="1107.39" y2="1323.04" stroke="#444" stroke-width="1.3"/>
<text x="0" y="0" font-size="27.25" text-anchor="middle" fill="#111" textLength="200" lengthAdjust="spacingAndGlyphs" transform="translate(934.35 1425.65) rotate(-90)">EdU<tspan font-size="16" dy="-10">+</tspan><tspan dy="10"> / Hoechst</tspan><tspan font-size="16" dy="-10">+</tspan></text>
<text x="1026.52" y="1612.61" font-size="27.8" text-anchor="end" fill="#111" textLength="44.67" lengthAdjust="spacingAndGlyphs">007</text>
<text x="1026.52" y="1639.57" font-size="27.8" text-anchor="end" fill="#111" textLength="34.72" lengthAdjust="spacingAndGlyphs">NA</text>
<text x="1026.52" y="1666.09" font-size="27.8" text-anchor="end" fill="#111" textLength="75.63" lengthAdjust="spacingAndGlyphs">U0126</text>
<text x="1058.7" y="1613.48" font-size="26.16" text-anchor="middle" fill="#111">−</text>
<text x="1114.35" y="1613.48" font-size="26.16" text-anchor="middle" fill="#111">+</text>
<text x="1170" y="1613.48" font-size="26.16" text-anchor="middle" fill="#111">−</text>
<text x="1225.65" y="1613.48" font-size="26.16" text-anchor="middle" fill="#111">−</text>
<text x="1281.3" y="1613.48" font-size="26.16" text-anchor="middle" fill="#111">+</text>
<text x="1336.96" y="1613.48" font-size="26.16" text-anchor="middle" fill="#111">−</text>
<text x="1058.7" y="1640.43" font-size="26.16" text-anchor="middle" fill="#111">−</text>
<text x="1114.35" y="1640.43" font-size="26.16" text-anchor="middle" fill="#111">−</text>
<text x="1170" y="1640.43" font-size="26.16" text-anchor="middle" fill="#111">+</text>
<text x="1225.65" y="1640.43" font-size="26.16" text-anchor="middle" fill="#111">−</text>
<text x="1281.3" y="1640.43" font-size="26.16" text-anchor="middle" fill="#111">−</text>
<text x="1336.96" y="1640.43" font-size="26.16" text-anchor="middle" fill="#111">+</text>
<text x="1058.7" y="1666.96" font-size="26.16" text-anchor="middle" fill="#111">−</text>
<text x="1114.35" y="1666.96" font-size="26.16" text-anchor="middle" fill="#111">−</text>
<text x="1170" y="1666.96" font-size="26.16" text-anchor="middle" fill="#111">−</text>
<text x="1225.65" y="1666.96" font-size="26.16" text-anchor="middle" fill="#111">+</text>
<text x="1281.3" y="1666.96" font-size="26.16" text-anchor="middle" fill="#111">+</text>
<text x="1336.96" y="1666.96" font-size="26.16" text-anchor="middle" fill="#111">+</text>
<text x="1469.17" y="1233.43" font-size="38" font-weight="bold" fill="#000" stroke="#000" stroke-width="0.9">i</text>
<text x="1568.28" y="1314.35" font-size="27.8" text-anchor="end" fill="#111" textLength="34.72" lengthAdjust="spacingAndGlyphs">NA</text>
<text x="1568.28" y="1349.19" font-size="27.8" text-anchor="end" fill="#111" textLength="71.48" lengthAdjust="spacingAndGlyphs">ESI09</text>
<text x="1608.55" y="1315.12" font-size="26.16" text-anchor="middle" fill="#111">−</text>
<text x="1660.43" y="1315.12" font-size="26.16" text-anchor="middle" fill="#111">+</text>
<text x="1712.31" y="1315.12" font-size="26.16" text-anchor="middle" fill="#111">+</text>
<text x="1764.19" y="1315.12" font-size="26.16" text-anchor="middle" fill="#111">−</text>
<text x="1608.55" y="1349.96" font-size="26.16" text-anchor="middle" fill="#111">−</text>
<text x="1660.43" y="1349.96" font-size="26.16" text-anchor="middle" fill="#111">−</text>
<text x="1712.31" y="1349.96" font-size="26.16" text-anchor="middle" fill="#111">+</text>
<text x="1764.19" y="1349.96" font-size="26.16" text-anchor="middle" fill="#111">+</text>
<text x="1791.68" y="1349.19" font-size="26.71" fill="#111" textLength="62.41" lengthAdjust="spacingAndGlyphs">(kDa)</text>
<rect x="1581.45" y="1359.26" width="209.46" height="42.2" fill="#e3e3e3"/>
<g clip-path="url(#c12)">
<rect x="1590.28" y="1375.53" width="37.01" height="4.31" rx="2.15" ry="2.15" fill="#000" opacity="0.25" filter="url(#b0)" transform="rotate(-3 1608.78 1377.68)"/>
<rect x="1590.68" y="1389.25" width="37.95" height="5.92" rx="2.96" ry="2.96" fill="#000" opacity="1" filter="url(#b0)" transform="rotate(-3 1609.66 1392.22)"/>
<rect x="1592.3" y="1390.06" width="34.99" height="4.31" rx="2.15" ry="2.15" fill="#000" opacity="0.7" filter="url(#b0)" transform="rotate(-3 1609.79 1392.22)"/>
<rect x="1640.48" y="1372.3" width="38.62" height="6.19" rx="3.1" ry="3.1" fill="#000" opacity="1" filter="url(#b0)"/>
<rect x="1640.21" y="1386.43" width="40.91" height="7.67" rx="3.84" ry="3.84" fill="#000" opacity="1" filter="url(#b0)"/>
<rect x="1642.36" y="1387.37" width="36.87" height="5.92" rx="2.96" ry="2.96" fill="#000" opacity="0.8" filter="url(#b0)"/>
<rect x="1642.09" y="1373.11" width="35.66" height="4.58" rx="2.29" ry="2.29" fill="#000" opacity="0.6" filter="url(#b0)"/>
<rect x="1642.09" y="1378.49" width="36.34" height="7.94" rx="3.97" ry="3.97" fill="#000" opacity="0.3" filter="url(#b2)"/>
<rect x="1638.05" y="1369.61" width="44.41" height="26.92" rx="13.46" ry="13.46" fill="#000" opacity="0.08" filter="url(#b3)"/>
<rect x="1691.21" y="1371.76" width="37.01" height="4.31" rx="2.15" ry="2.15" fill="#000" opacity="0.5" filter="url(#b0)" transform="rotate(-3 1709.72 1373.91)"/>
<rect x="1691.21" y="1385.49" width="40.37" height="6.46" rx="3.23" ry="3.23" fill="#000" opacity="1" filter="url(#b0)" transform="rotate(-4 1711.4 1388.72)"/>
<rect x="1693.23" y="1386.29" width="36.34" height="4.84" rx="2.42" ry="2.42" fill="#000" opacity="0.6" filter="url(#b0)" transform="rotate(-4 1711.4 1388.72)"/>
<rect x="1742.35" y="1366.65" width="38.35" height="5.11" rx="2.56" ry="2.56" fill="#000" opacity="0.18" filter="url(#b0)" transform="rotate(-8 1761.53 1369.2)"/>
<rect x="1742.35" y="1379.83" width="39.03" height="6.46" rx="3.23" ry="3.23" fill="#000" opacity="0.95" filter="url(#b0)" transform="rotate(-9 1761.86 1383.06)"/>
<rect x="1744.37" y="1380.64" width="34.99" height="4.84" rx="2.42" ry="2.42" fill="#000" opacity="0.5" filter="url(#b0)" transform="rotate(-9 1761.86 1383.06)"/>
</g>
<rect x="1581.45" y="1359.26" width="209.46" height="42.2" fill="none" stroke="#111" stroke-width="1.25"/>
<rect x="1581.45" y="1408.43" width="209.46" height="41.43" fill="#c8c8c8"/>
<g clip-path="url(#c13)">
<rect x="1588.93" y="1419.4" width="37.68" height="5.11" rx="2.56" ry="2.56" fill="#000" opacity="0.85" filter="url(#b0)" transform="rotate(-1 1607.77 1421.96)"/>
<rect x="1590.28" y="1437.16" width="35.66" height="4.04" rx="2.02" ry="2.02" fill="#000" opacity="0.8" filter="url(#b0)"/>
<rect x="1639.4" y="1418.59" width="37.68" height="4.58" rx="2.29" ry="2.29" fill="#000" opacity="0.9" filter="url(#b0)" transform="rotate(1 1658.24 1420.88)"/>
<rect x="1641.42" y="1436.63" width="35.66" height="3.77" rx="1.88" ry="1.88" fill="#000" opacity="0.7" filter="url(#b0)"/>
<rect x="1689.19" y="1418.05" width="39.03" height="4.71" rx="2.36" ry="2.36" fill="#000" opacity="0.9" filter="url(#b0)" transform="rotate(-2 1708.71 1420.41)"/>
<rect x="1691.21" y="1435.82" width="37.01" height="4.04" rx="2.02" ry="2.02" fill="#000" opacity="0.75" filter="url(#b0)" transform="rotate(-3 1709.72 1437.84)"/>
<rect x="1741" y="1413.75" width="40.37" height="6.46" rx="3.23" ry="3.23" fill="#000" opacity="0.9" filter="url(#b0)" transform="rotate(-8 1761.19 1416.98)"/>
<rect x="1741.68" y="1431.51" width="39.03" height="5.38" rx="2.69" ry="2.69" fill="#000" opacity="0.8" filter="url(#b0)" transform="rotate(-9 1761.19 1434.2)"/>
</g>
<rect x="1581.45" y="1408.43" width="209.46" height="41.43" fill="none" stroke="#111" stroke-width="1.25"/>
<text x="1568.28" y="1390.23" font-size="27.8" text-anchor="end" fill="#111" textLength="100.88" lengthAdjust="spacingAndGlyphs">pERK1/2</text>
<text x="1568.28" y="1436.69" font-size="27.8" text-anchor="end" fill="#111" textLength="85.42" lengthAdjust="spacingAndGlyphs">ERK1/2</text>
<line x1="1790.9" y1="1382.49" x2="1802.52" y2="1382.49" stroke="#333" stroke-width="1.5"/>
<text x="1810.26" y="1390.29" font-size="23.98" fill="#111" textLength="25.94" lengthAdjust="spacingAndGlyphs">43</text>
<line x1="1790.9" y1="1430.88" x2="1802.52" y2="1430.88" stroke="#333" stroke-width="1.5"/>
<text x="1810.26" y="1438.68" font-size="23.98" fill="#111" textLength="25.94" lengthAdjust="spacingAndGlyphs">43</text>
<line x1="1946.54" y1="1277.15" x2="1946.54" y2="1574.52" stroke="#444" stroke-width="1.6"/>
<line x1="1934.15" y1="1277.95" x2="1946.54" y2="1277.95" stroke="#222" stroke-width="1.3"/>
<text x="1924.65" y="1286.72" font-size="24.7" text-anchor="end" fill="#111">4</text>
<line x1="1934.15" y1="1351.9" x2="1946.54" y2="1351.9" stroke="#222" stroke-width="1.3"/>
<text x="1924.65" y="1360.67" font-size="24.7" text-anchor="end" fill="#111">3</text>
<line x1="1934.15" y1="1426.24" x2="1946.54" y2="1426.24" stroke="#222" stroke-width="1.3"/>
<text x="1924.65" y="1435" font-size="24.7" text-anchor="end" fill="#111">2</text>
<line x1="1934.15" y1="1500.57" x2="1946.54" y2="1500.57" stroke="#222" stroke-width="1.3"/>
<text x="1924.65" y="1509.34" font-size="24.7" text-anchor="end" fill="#111">1</text>
<line x1="1934.15" y1="1574.52" x2="1946.54" y2="1574.52" stroke="#222" stroke-width="1.3"/>
<text x="1924.65" y="1583.29" font-size="24.7" text-anchor="end" fill="#111">0</text>
<line x1="1934.15" y1="1574.52" x2="2125.41" y2="1574.52" stroke="#222" stroke-width="1.4"/>
<rect x="1953.51" y="1501.35" width="29.81" height="73.17" fill="#fff" stroke="#2a2a2a" stroke-width="1.25"/>
<rect x="1997.65" y="1339.51" width="29.42" height="235.01" fill="#0404c4" stroke="#2a2a2a" stroke-width="1.25"/>
<rect x="2042.17" y="1473.47" width="29.42" height="101.05" fill="#0a9a64"/>
<g clip-path="url(#hb3)">
<line x1="2043.47" y1="1470.1" x2="2070.3" y2="1443.28" stroke="#0404f8" stroke-width="8.3"/>
<line x1="2043.47" y1="1500.3" x2="2070.3" y2="1473.48" stroke="#0404f8" stroke-width="8.3"/>
<line x1="2043.47" y1="1530.5" x2="2070.3" y2="1503.68" stroke="#0404f8" stroke-width="8.3"/>
<line x1="2043.47" y1="1560.7" x2="2070.3" y2="1533.88" stroke="#0404f8" stroke-width="8.3"/>
<line x1="2043.47" y1="1590.9" x2="2070.3" y2="1564.08" stroke="#0404f8" stroke-width="8.3"/>
<line x1="2043.47" y1="1621.1" x2="2070.3" y2="1594.28" stroke="#0404f8" stroke-width="8.3"/>
</g>
<rect x="2042.17" y="1473.47" width="29.42" height="101.05" fill="none" stroke="#2a2a2a" stroke-width="1.25"/>
<rect x="2085.92" y="1522.64" width="29.42" height="51.88" fill="#0a9a64" stroke="#2a2a2a" stroke-width="1.25"/>
<line x1="2012.36" y1="1339.51" x2="2012.36" y2="1314.35" stroke="#1a1a1a" stroke-width="1.4"/>
<line x1="2008.27" y1="1314.35" x2="2016.45" y2="1314.35" stroke="#1a1a1a" stroke-width="1.4"/>
<line x1="2056.88" y1="1473.47" x2="2056.88" y2="1468.05" stroke="#1a1a1a" stroke-width="1.4"/>
<line x1="2052.8" y1="1468.05" x2="2060.97" y2="1468.05" stroke="#1a1a1a" stroke-width="1.4"/>
<line x1="2100.63" y1="1522.64" x2="2100.63" y2="1513.73" stroke="#1a1a1a" stroke-width="1.4"/>
<line x1="2096.55" y1="1513.73" x2="2104.72" y2="1513.73" stroke="#1a1a1a" stroke-width="1.4"/>
<circle cx="1960.87" cy="1500.96" r="5.85" fill="#fff" stroke="#111" stroke-width="1.2"/>
<circle cx="1968.22" cy="1500.96" r="5.85" fill="#fff" stroke="#111" stroke-width="1.2"/>
<circle cx="1975.19" cy="1500.96" r="5.85" fill="#fff" stroke="#111" stroke-width="1.2"/>
<circle cx="2012.75" cy="1293.83" r="5.85" fill="#fff" stroke="#111" stroke-width="1.2"/>
<circle cx="2012.75" cy="1343" r="5.85" fill="#fff" stroke="#111" stroke-width="1.2"/>
<circle cx="2012.75" cy="1382.87" r="5.85" fill="#fff" stroke="#111" stroke-width="1.2"/>
<circle cx="2050.69" cy="1466.5" r="5.85" fill="#fff" stroke="#111" stroke-width="1.2"/>
<circle cx="2062.3" cy="1470.76" r="5.85" fill="#fff" stroke="#111" stroke-width="1.2"/>
<circle cx="2056.5" cy="1483.15" r="5.85" fill="#fff" stroke="#111" stroke-width="1.2"/>
<circle cx="2093.66" cy="1512.96" r="5.85" fill="#fff" stroke="#111" stroke-width="1.2"/>
<circle cx="2107.6" cy="1514.12" r="5.85" fill="#fff" stroke="#111" stroke-width="1.2"/>
<circle cx="2100.63" cy="1540.45" r="5.85" fill="#fff" stroke="#111" stroke-width="1.2"/>
<text x="1939.96" y="1241.95" font-size="19.65" fill="#111" textLength="93.51" lengthAdjust="spacingAndGlyphs"><tspan font-style="italic">P</tspan> = 0.0002</text>
<line x1="1964.74" y1="1249.3" x2="2009.26" y2="1249.3" stroke="#444" stroke-width="1.3"/>
<text x="2015.07" y="1272.92" font-size="19.65" fill="#111" textLength="93.72" lengthAdjust="spacingAndGlyphs"><tspan font-style="italic">P</tspan> = 0.0006</text>
<line x1="2016.23" y1="1280.28" x2="2061.92" y2="1280.28" stroke="#444" stroke-width="1.3"/>
<text x="2027.85" y="1318.22" font-size="19.65" fill="#111" textLength="91.66" lengthAdjust="spacingAndGlyphs"><tspan font-style="italic">P</tspan> &lt; 0.0001</text>
<line x1="2025.14" y1="1326.35" x2="2114.96" y2="1326.35" stroke="#444" stroke-width="1.3"/>
<text x="0" y="0" font-size="27.25" text-anchor="middle" fill="#111" textLength="283.3" lengthAdjust="spacingAndGlyphs" transform="translate(1881.11 1425.85) rotate(-90)">Rel. (pERK1/2)/(ERK1/2)</text>
<text x="1931.83" y="1609.75" font-size="27.8" text-anchor="end" fill="#111" textLength="34.72" lengthAdjust="spacingAndGlyphs">NA</text>
<text x="1931.83" y="1644.6" font-size="27.8" text-anchor="end" fill="#111" textLength="71.48" lengthAdjust="spacingAndGlyphs">ESI09</text>
<text x="1969" y="1610.53" font-size="26.16" text-anchor="middle" fill="#111">−</text>
<text x="2012.75" y="1610.53" font-size="26.16" text-anchor="middle" fill="#111">+</text>
<text x="2056.88" y="1610.53" font-size="26.16" text-anchor="middle" fill="#111">+</text>
<text x="2100.63" y="1610.53" font-size="26.16" text-anchor="middle" fill="#111">−</text>
<text x="1969" y="1645.37" font-size="26.16" text-anchor="middle" fill="#111">−</text>
<text x="2012.75" y="1645.37" font-size="26.16" text-anchor="middle" fill="#111">−</text>
<text x="2056.88" y="1645.37" font-size="26.16" text-anchor="middle" fill="#111">+</text>
<text x="2100.63" y="1645.37" font-size="26.16" text-anchor="middle" fill="#111">+</text>
<text x="2.5" y="1737.07" font-size="38" font-weight="bold" fill="#000" stroke="#000" stroke-width="0.9">j</text>
<line x1="142.4" y1="1785.8" x2="142.4" y2="2084" stroke="#444" stroke-width="1.6"/>
<line x1="129.81" y1="1786.6" x2="142.4" y2="1786.6" stroke="#222" stroke-width="1.3"/>
<text x="120.31" y="1795.37" font-size="24.7" text-anchor="end" fill="#111" textLength="34.7" lengthAdjust="spacingAndGlyphs">0.8</text>
<line x1="129.81" y1="1935.3" x2="142.4" y2="1935.3" stroke="#222" stroke-width="1.3"/>
<text x="120.31" y="1944.07" font-size="24.7" text-anchor="end" fill="#111" textLength="33.67" lengthAdjust="spacingAndGlyphs">0.4</text>
<line x1="129.81" y1="2084" x2="142.4" y2="2084" stroke="#222" stroke-width="1.3"/>
<text x="120.31" y="2092.76" font-size="24.7" text-anchor="end" fill="#111">0</text>
<line x1="129.81" y1="2084" x2="321.78" y2="2084" stroke="#222" stroke-width="1.4"/>
<rect x="149.09" y="1869.21" width="29.9" height="214.78" fill="#fff" stroke="#2a2a2a" stroke-width="1.25"/>
<rect x="193.54" y="1824.37" width="29.5" height="259.63" fill="#0404c4" stroke="#2a2a2a" stroke-width="1.25"/>
<rect x="237.99" y="1864.89" width="29.5" height="219.11" fill="#0a9a64"/>
<g clip-path="url(#hb4)">
<line x1="239.29" y1="1861.5" x2="266.19" y2="1834.6" stroke="#0404f8" stroke-width="8.3"/>
<line x1="239.29" y1="1891.3" x2="266.19" y2="1864.4" stroke="#0404f8" stroke-width="8.3"/>
<line x1="239.29" y1="1921.1" x2="266.19" y2="1894.2" stroke="#0404f8" stroke-width="8.3"/>
<line x1="239.29" y1="1950.9" x2="266.19" y2="1924" stroke="#0404f8" stroke-width="8.3"/>
<line x1="239.29" y1="1980.7" x2="266.19" y2="1953.8" stroke="#0404f8" stroke-width="8.3"/>
<line x1="239.29" y1="2010.5" x2="266.19" y2="1983.6" stroke="#0404f8" stroke-width="8.3"/>
<line x1="239.29" y1="2040.3" x2="266.19" y2="2013.4" stroke="#0404f8" stroke-width="8.3"/>
<line x1="239.29" y1="2070.1" x2="266.19" y2="2043.2" stroke="#0404f8" stroke-width="8.3"/>
<line x1="239.29" y1="2099.9" x2="266.19" y2="2073" stroke="#0404f8" stroke-width="8.3"/>
<line x1="239.29" y1="2129.7" x2="266.19" y2="2102.8" stroke="#0404f8" stroke-width="8.3"/>
</g>
<rect x="237.99" y="1864.89" width="29.5" height="219.11" fill="none" stroke="#2a2a2a" stroke-width="1.25"/>
<rect x="282.05" y="1860.56" width="29.5" height="223.44" fill="#0a9a64" stroke="#2a2a2a" stroke-width="1.25"/>
<line x1="164.04" y1="1869.21" x2="164.04" y2="1856.23" stroke="#1a1a1a" stroke-width="1.4"/>
<line x1="159.88" y1="1856.23" x2="168.19" y2="1856.23" stroke="#1a1a1a" stroke-width="1.4"/>
<line x1="208.1" y1="1824.37" x2="208.1" y2="1820.43" stroke="#1a1a1a" stroke-width="1.4"/>
<line x1="203.94" y1="1820.43" x2="212.25" y2="1820.43" stroke="#1a1a1a" stroke-width="1.4"/>
<line x1="252.55" y1="1864.89" x2="252.55" y2="1859.38" stroke="#1a1a1a" stroke-width="1.4"/>
<line x1="248.39" y1="1859.38" x2="256.7" y2="1859.38" stroke="#1a1a1a" stroke-width="1.4"/>
<line x1="296.6" y1="1860.56" x2="296.6" y2="1856.63" stroke="#1a1a1a" stroke-width="1.4"/>
<line x1="292.45" y1="1856.63" x2="300.76" y2="1856.63" stroke="#1a1a1a" stroke-width="1.4"/>
<circle cx="156.56" cy="1856.63" r="5.85" fill="#fff" stroke="#111" stroke-width="1.2"/>
<circle cx="171.12" cy="1856.63" r="5.85" fill="#fff" stroke="#111" stroke-width="1.2"/>
<circle cx="164.04" cy="1894.78" r="5.85" fill="#fff" stroke="#111" stroke-width="1.2"/>
<circle cx="201.8" cy="1820.43" r="5.85" fill="#fff" stroke="#111" stroke-width="1.2"/>
<circle cx="214.39" cy="1820.43" r="5.85" fill="#fff" stroke="#111" stroke-width="1.2"/>
<circle cx="208.1" cy="1832.24" r="5.85" fill="#fff" stroke="#111" stroke-width="1.2"/>
<circle cx="252.15" cy="1855.05" r="5.85" fill="#fff" stroke="#111" stroke-width="1.2"/>
<circle cx="259.63" cy="1862.53" r="5.85" fill="#fff" stroke="#111" stroke-width="1.2"/>
<circle cx="245.07" cy="1876.29" r="5.85" fill="#fff" stroke="#111" stroke-width="1.2"/>
<circle cx="289.92" cy="1853.08" r="5.85" fill="#fff" stroke="#111" stroke-width="1.2"/>
<circle cx="302.11" cy="1860.95" r="5.85" fill="#fff" stroke="#111" stroke-width="1.2"/>
<circle cx="296.6" cy="1868.43" r="5.85" fill="#fff" stroke="#111" stroke-width="1.2"/>
<text x="214.39" y="1729.17" font-size="19.65" fill="#111" textLength="92.69" lengthAdjust="spacingAndGlyphs"><tspan font-style="italic">P</tspan> = 0.0429</text>
<line x1="214.39" y1="1736.65" x2="304.08" y2="1736.65" stroke="#444" stroke-width="1.3"/>
<text x="136.5" y="1765.76" font-size="19.65" fill="#111" textLength="90.31" lengthAdjust="spacingAndGlyphs"><tspan font-style="italic">P</tspan> = 0.0154</text>
<line x1="156.17" y1="1772.44" x2="202.19" y2="1772.44" stroke="#444" stroke-width="1.3"/>
<text x="202.19" y="1798.41" font-size="19.65" fill="#111" textLength="91.45" lengthAdjust="spacingAndGlyphs"><tspan font-style="italic">P</tspan> = 0.0257</text>
<line x1="212.42" y1="1805.49" x2="258.45" y2="1805.49" stroke="#444" stroke-width="1.3"/>
<text x="0" y="0" font-size="28.34" text-anchor="middle" fill="#111" textLength="198.65" lengthAdjust="spacingAndGlyphs" transform="translate(55.07 1935.69) rotate(-90)">EdU<tspan font-size="16" dy="-10">+</tspan><tspan dy="10"> / Hoechst</tspan><tspan font-size="16" dy="-10">+</tspan></text>
<text x="121.16" y="2119.79" font-size="27.8" text-anchor="end" fill="#111" textLength="34.72" lengthAdjust="spacingAndGlyphs">NA</text>
<text x="121.16" y="2154.02" font-size="27.8" text-anchor="end" fill="#111" textLength="71.48" lengthAdjust="spacingAndGlyphs">ESI09</text>
<text x="166" y="2120.58" font-size="26.16" text-anchor="middle" fill="#111">−</text>
<text x="209.67" y="2120.58" font-size="26.16" text-anchor="middle" fill="#111">+</text>
<text x="253.73" y="2120.58" font-size="26.16" text-anchor="middle" fill="#111">+</text>
<text x="297.78" y="2120.58" font-size="26.16" text-anchor="middle" fill="#111">−</text>
<text x="166" y="2154.8" font-size="26.16" text-anchor="middle" fill="#111">−</text>
<text x="209.67" y="2154.8" font-size="26.16" text-anchor="middle" fill="#111">−</text>
<text x="253.73" y="2154.8" font-size="26.16" text-anchor="middle" fill="#111">+</text>
<text x="297.78" y="2154.8" font-size="26.16" text-anchor="middle" fill="#111">+</text>
<text x="404" y="1736.25" font-size="38" font-weight="bold" fill="#000" stroke="#000" stroke-width="0.9">k</text>
<rect x="565.28" y="1774.41" width="37.76" height="13.77" fill="#fff" stroke="#333" stroke-width="1.4"/>
<text x="612.88" y="1788.96" font-size="23.98" fill="#111" textLength="78.3" lengthAdjust="spacingAndGlyphs">Control</text>
<rect x="565.28" y="1798.8" width="37.76" height="13.77" fill="#cf0868" stroke="#333" stroke-width="1.4"/>
<text x="612.88" y="1813.75" font-size="23.98" fill="#111" textLength="38.54" lengthAdjust="spacingAndGlyphs">007</text>
<text x="606.98" y="1881.8" font-size="23.98" fill="#111" textLength="51.39" lengthAdjust="spacingAndGlyphs">+007</text>
<text x="670.7" y="1881.8" font-size="26.71" fill="#111" textLength="62.41" lengthAdjust="spacingAndGlyphs">(kDa)</text>
<rect x="540.89" y="1892.42" width="127.06" height="52.71" fill="#ebebeb"/>
<g clip-path="url(#c14)">
<rect x="546.55" y="1901.68" width="47.98" height="8.39" rx="4.19" ry="4.19" fill="#000" opacity="0.13" filter="url(#b3)"/>
<rect x="614.1" y="1900.75" width="46.58" height="10.25" rx="5.12" ry="5.12" fill="#000" opacity="0.16" filter="url(#b3)"/>
<polygon points="546.09,1927.76 551.68,1925.16 564.72,1926.83 579.63,1928.7 587.08,1925.53 594.53,1926.65 596.21,1930.56 592.67,1933.73 579.63,1932.61 570.31,1933.91 557.27,1933.35 549.81,1934.84 546.09,1931.49" fill="#000" opacity="0.9" filter="url(#b1)"/>
<polygon points="613.63,1928.7 618.76,1925.16 636.46,1926.65 654.16,1925.53 669.07,1927.39 669.07,1934.84 657.89,1936.34 641.12,1934.84 622.48,1935.4 615.96,1934.84 613.54,1931.49" fill="#000" opacity="0.92" filter="url(#b1)"/>
<rect x="547.95" y="1934.29" width="46.58" height="6.52" rx="3.26" ry="3.26" fill="#000" opacity="0.05" filter="url(#b3)"/>
<rect x="615.03" y="1935.22" width="52.17" height="6.52" rx="3.26" ry="3.26" fill="#000" opacity="0.06" filter="url(#b3)"/>
</g>
<rect x="540.89" y="1892.42" width="127.06" height="52.71" fill="none" stroke="#111" stroke-width="1.25"/>
<rect x="540.89" y="1952.22" width="127.06" height="21.64" fill="#fbfbfb"/>
<g clip-path="url(#c15)">
<polygon points="544.41,1961.77 550.75,1958.88 566.58,1960 579.63,1960.93 588.94,1958.7 599.01,1961.3 599.38,1964.47 590.81,1966.71 579.63,1966.52 566.58,1965.96 550.75,1965.78 544.6,1964.47" fill="#000" opacity="1" filter="url(#b1)"/>
<polygon points="611.49,1963.17 616.89,1960 631.8,1961.49 643.91,1962.42 654.16,1959.81 663.29,1961.86 663.85,1965.4 654.16,1967.27 631.8,1966.71 616.89,1966.52 611.68,1965.03" fill="#000" opacity="1" filter="url(#b1)"/>
<rect x="546.09" y="1966.89" width="52.17" height="4.19" rx="2.1" ry="2.1" fill="#000" opacity="0.18" filter="url(#b1)"/>
<rect x="612.24" y="1967.83" width="49.38" height="4.19" rx="2.1" ry="2.1" fill="#000" opacity="0.3" filter="url(#b1)"/>
</g>
<rect x="540.89" y="1952.22" width="127.06" height="21.64" fill="none" stroke="#111" stroke-width="1.25"/>
<text x="513.35" y="1925.86" font-size="27.8" text-anchor="end" fill="#111" textLength="90.83" lengthAdjust="spacingAndGlyphs">C/EBPβ</text>
<text x="513.35" y="1969.92" font-size="27.8" text-anchor="end" fill="#111" textLength="107.27" lengthAdjust="spacingAndGlyphs">Calnexin</text>
<path d="M520.04 1917.2L529.09 1917.2M536.17 1905.01L529.09 1905.01L529.09 1929.79L536.17 1929.79" fill="none" stroke="#222" stroke-width="1.4"/>
<line x1="667.95" y1="1917.99" x2="679.75" y2="1917.99" stroke="#333" stroke-width="1.5"/>
<text x="689.59" y="1925.79" font-size="23.98" fill="#111" textLength="25.45" lengthAdjust="spacingAndGlyphs">46</text>
<line x1="667.95" y1="1956.54" x2="679.75" y2="1956.54" stroke="#333" stroke-width="1.5"/>
<text x="689.59" y="1964.34" font-size="23.98" fill="#111" textLength="37.44" lengthAdjust="spacingAndGlyphs">100</text>
<line x1="861.61" y1="1790.92" x2="861.61" y2="2087.93" stroke="#444" stroke-width="1.6"/>
<line x1="849.03" y1="1791.72" x2="861.61" y2="1791.72" stroke="#222" stroke-width="1.3"/>
<text x="839.53" y="1800.49" font-size="24.7" text-anchor="end" fill="#111" textLength="33.93" lengthAdjust="spacingAndGlyphs">2.0</text>
<line x1="849.03" y1="1865.28" x2="861.61" y2="1865.28" stroke="#222" stroke-width="1.3"/>
<text x="839.53" y="1874.05" font-size="24.7" text-anchor="end" fill="#111" textLength="30.97" lengthAdjust="spacingAndGlyphs">1.5</text>
<line x1="849.03" y1="1939.63" x2="861.61" y2="1939.63" stroke="#222" stroke-width="1.3"/>
<text x="839.53" y="1948.4" font-size="24.7" text-anchor="end" fill="#111" textLength="31.62" lengthAdjust="spacingAndGlyphs">1.0</text>
<line x1="849.03" y1="2013.98" x2="861.61" y2="2013.98" stroke="#222" stroke-width="1.3"/>
<text x="839.53" y="2022.74" font-size="24.7" text-anchor="end" fill="#111" textLength="34.06" lengthAdjust="spacingAndGlyphs">0.5</text>
<line x1="849.03" y1="2087.93" x2="861.61" y2="2087.93" stroke="#222" stroke-width="1.3"/>
<text x="839.53" y="2096.7" font-size="24.7" text-anchor="end" fill="#111">0</text>
<line x1="849.03" y1="2087.93" x2="950.91" y2="2087.93" stroke="#222" stroke-width="1.4"/>
<rect x="869.09" y="1940.02" width="29.5" height="147.91" fill="#fff" stroke="#2a2a2a" stroke-width="1.25"/>
<rect x="913.54" y="1885.73" width="29.11" height="202.19" fill="#cf0868" stroke="#2a2a2a" stroke-width="1.25"/>
<line x1="884.04" y1="1940.02" x2="884.04" y2="1926.65" stroke="#1a1a1a" stroke-width="1.4"/>
<line x1="879.88" y1="1926.65" x2="888.19" y2="1926.65" stroke="#1a1a1a" stroke-width="1.4"/>
<line x1="928.1" y1="1885.73" x2="928.1" y2="1871.57" stroke="#1a1a1a" stroke-width="1.4"/>
<line x1="923.94" y1="1871.57" x2="932.25" y2="1871.57" stroke="#1a1a1a" stroke-width="1.4"/>
<circle cx="883.64" cy="1899.11" r="5.85" fill="#fff" stroke="#111" stroke-width="1.2"/>
<circle cx="877.35" cy="1948.28" r="5.85" fill="#fff" stroke="#111" stroke-width="1.2"/>
<circle cx="883.64" cy="1957.72" r="5.85" fill="#fff" stroke="#111" stroke-width="1.2"/>
<circle cx="889.94" cy="1957.72" r="5.85" fill="#fff" stroke="#111" stroke-width="1.2"/>
<circle cx="920.62" cy="1862.92" r="5.85" fill="#fff" stroke="#111" stroke-width="1.2"/>
<circle cx="935.18" cy="1861.35" r="5.85" fill="#fff" stroke="#111" stroke-width="1.2"/>
<circle cx="928.1" cy="1899.5" r="5.85" fill="#fff" stroke="#111" stroke-width="1.2"/>
<circle cx="928.1" cy="1919.96" r="5.85" fill="#fff" stroke="#111" stroke-width="1.2"/>
<text x="869.48" y="1830.66" font-size="19.65" fill="#111" textLength="91.76" lengthAdjust="spacingAndGlyphs"><tspan font-style="italic">P</tspan> = 0.0347</text>
<line x1="884.04" y1="1839.71" x2="929.28" y2="1839.71" stroke="#444" stroke-width="1.3"/>
<text x="0" y="0" font-size="28.34" text-anchor="middle" fill="#111" textLength="291.92" lengthAdjust="spacingAndGlyphs" transform="translate(782.15 1939.63) rotate(-90)">Rel. C/EBPβ expression</text>
<text x="1032.73" y="1736.25" font-size="38" font-weight="bold" fill="#000" stroke="#000" stroke-width="0.9">l</text>
<text x="1250.27" y="1766.54" font-size="27.25" text-anchor="middle" fill="#111" textLength="53.59" lengthAdjust="spacingAndGlyphs">WAs</text>
<line x1="1118.49" y1="1788.56" x2="1118.49" y2="2085.57" stroke="#444" stroke-width="1.6"/>
<line x1="1105.9" y1="1789.36" x2="1118.49" y2="1789.36" stroke="#222" stroke-width="1.3"/>
<text x="1096.4" y="1798.13" font-size="24.7" text-anchor="end" fill="#111">3</text>
<line x1="1105.9" y1="1888.1" x2="1118.49" y2="1888.1" stroke="#222" stroke-width="1.3"/>
<text x="1096.4" y="1896.86" font-size="24.7" text-anchor="end" fill="#111">2</text>
<line x1="1105.9" y1="1987.23" x2="1118.49" y2="1987.23" stroke="#222" stroke-width="1.3"/>
<text x="1096.4" y="1995.99" font-size="24.7" text-anchor="end" fill="#111">1</text>
<line x1="1105.9" y1="2085.57" x2="1118.49" y2="2085.57" stroke="#222" stroke-width="1.3"/>
<text x="1096.4" y="2094.34" font-size="24.7" text-anchor="end" fill="#111">0</text>
<line x1="1105.9" y1="2085.57" x2="1220.37" y2="2085.57" stroke="#222" stroke-width="1.4"/>
<rect x="1126.36" y="1987.62" width="33.44" height="97.95" fill="#fff" stroke="#2a2a2a" stroke-width="1.25"/>
<rect x="1176.71" y="1985.65" width="33.44" height="99.92" fill="#cf0868" stroke="#2a2a2a" stroke-width="1.25"/>
<line x1="1193.23" y1="1985.65" x2="1193.23" y2="1969.92" stroke="#1a1a1a" stroke-width="1.4"/>
<line x1="1189.08" y1="1969.92" x2="1197.38" y2="1969.92" stroke="#1a1a1a" stroke-width="1.4"/>
<circle cx="1133.04" cy="1987.62" r="5.85" fill="#fff" stroke="#111" stroke-width="1.2"/>
<circle cx="1140.12" cy="1987.62" r="5.85" fill="#fff" stroke="#111" stroke-width="1.2"/>
<circle cx="1147.2" cy="1987.62" r="5.85" fill="#fff" stroke="#111" stroke-width="1.2"/>
<circle cx="1152.71" cy="1987.62" r="5.85" fill="#fff" stroke="#111" stroke-width="1.2"/>
<circle cx="1193.23" cy="1945.13" r="5.85" fill="#fff" stroke="#111" stroke-width="1.2"/>
<circle cx="1193.23" cy="1975.03" r="5.85" fill="#fff" stroke="#111" stroke-width="1.2"/>
<circle cx="1193.23" cy="2002.57" r="5.85" fill="#fff" stroke="#111" stroke-width="1.2"/>
<circle cx="1193.23" cy="2023.02" r="5.85" fill="#fff" stroke="#111" stroke-width="1.2"/>
<text x="1165.3" y="2113.5" font-size="27.8" text-anchor="middle" font-style="italic" fill="#111" textLength="76.68" lengthAdjust="spacingAndGlyphs">Fabp4</text>
<text x="0" y="0" font-size="28.34" text-anchor="middle" fill="#111" textLength="276.71" lengthAdjust="spacingAndGlyphs" transform="translate(1054.37 1937.66) rotate(-90)">Rel. mRNA expression</text>
<line x1="1338.39" y1="1788.56" x2="1338.39" y2="2085.57" stroke="#444" stroke-width="1.6"/>
<line x1="1325.8" y1="1789.36" x2="1338.39" y2="1789.36" stroke="#222" stroke-width="1.3"/>
<text x="1316.3" y="1798.13" font-size="24.7" text-anchor="end" fill="#111">3</text>
<line x1="1325.8" y1="1888.1" x2="1338.39" y2="1888.1" stroke="#222" stroke-width="1.3"/>
<text x="1316.3" y="1896.86" font-size="24.7" text-anchor="end" fill="#111">2</text>
<line x1="1325.8" y1="1987.23" x2="1338.39" y2="1987.23" stroke="#222" stroke-width="1.3"/>
<text x="1316.3" y="1995.99" font-size="24.7" text-anchor="end" fill="#111">1</text>
<line x1="1325.8" y1="2085.57" x2="1338.39" y2="2085.57" stroke="#222" stroke-width="1.3"/>
<text x="1316.3" y="2094.34" font-size="24.7" text-anchor="end" fill="#111">0</text>
<line x1="1325.8" y1="2085.57" x2="1440.66" y2="2085.57" stroke="#222" stroke-width="1.4"/>
<rect x="1346.25" y="1987.62" width="33.44" height="97.95" fill="#fff" stroke="#2a2a2a" stroke-width="1.25"/>
<rect x="1396.6" y="1986.05" width="33.44" height="99.52" fill="#cf0868" stroke="#2a2a2a" stroke-width="1.25"/>
<line x1="1413.13" y1="1986.05" x2="1413.13" y2="1980.93" stroke="#1a1a1a" stroke-width="1.4"/>
<line x1="1408.97" y1="1980.93" x2="1417.28" y2="1980.93" stroke="#1a1a1a" stroke-width="1.4"/>
<circle cx="1352.94" cy="1987.62" r="5.85" fill="#fff" stroke="#111" stroke-width="1.2"/>
<circle cx="1360.41" cy="1987.62" r="5.85" fill="#fff" stroke="#111" stroke-width="1.2"/>
<circle cx="1367.1" cy="1987.62" r="5.85" fill="#fff" stroke="#111" stroke-width="1.2"/>
<circle cx="1373" cy="1987.62" r="5.85" fill="#fff" stroke="#111" stroke-width="1.2"/>
<circle cx="1404.87" cy="1975.82" r="5.85" fill="#fff" stroke="#111" stroke-width="1.2"/>
<circle cx="1421.39" cy="1977" r="5.85" fill="#fff" stroke="#111" stroke-width="1.2"/>
<circle cx="1404.87" cy="1995.88" r="5.85" fill="#fff" stroke="#111" stroke-width="1.2"/>
<circle cx="1421.39" cy="1994.7" r="5.85" fill="#fff" stroke="#111" stroke-width="1.2"/>
<text x="1388.74" y="2113.5" font-size="27.8" text-anchor="middle" font-style="italic" fill="#111" textLength="72.11" lengthAdjust="spacingAndGlyphs">Pparg</text>
<text x="0" y="0" font-size="28.34" text-anchor="middle" fill="#111" textLength="276.71" lengthAdjust="spacingAndGlyphs" transform="translate(1274.66 1937.66) rotate(-90)">Rel. mRNA expression</text>
<text x="1512.72" y="1735.77" font-size="38" font-weight="bold" fill="#000" stroke="#000" stroke-width="0.9">m</text>
<rect x="2006.35" y="1724.46" width="38.06" height="13.94" fill="#fff" stroke="#333" stroke-width="1.4"/>
<text x="2054.96" y="1739.16" font-size="23.98" fill="#111" textLength="78.3" lengthAdjust="spacingAndGlyphs">Control</text>
<rect x="2006.35" y="1748.96" width="38.06" height="13.19" fill="#cf0868" stroke="#333" stroke-width="1.4"/>
<text x="2054.96" y="1764.03" font-size="23.98" fill="#111" textLength="38.54" lengthAdjust="spacingAndGlyphs">007</text>
<text x="1859.01" y="1766.67" font-size="27.25" text-anchor="middle" fill="#111" textLength="53.59" lengthAdjust="spacingAndGlyphs">WAs</text>
<line x1="1597.51" y1="1789.23" x2="1597.51" y2="2085.45" stroke="#444" stroke-width="1.6"/>
<line x1="1586.2" y1="1790.03" x2="1597.51" y2="1790.03" stroke="#222" stroke-width="1.3"/>
<text x="1576.7" y="1798.8" font-size="24.7" text-anchor="end" fill="#111">3</text>
<line x1="1586.2" y1="1888.38" x2="1597.51" y2="1888.38" stroke="#222" stroke-width="1.3"/>
<text x="1576.7" y="1897.15" font-size="24.7" text-anchor="end" fill="#111">2</text>
<line x1="1586.2" y1="1987.1" x2="1597.51" y2="1987.1" stroke="#222" stroke-width="1.3"/>
<text x="1576.7" y="1995.87" font-size="24.7" text-anchor="end" fill="#111">1</text>
<line x1="1586.2" y1="2085.45" x2="1597.51" y2="2085.45" stroke="#222" stroke-width="1.3"/>
<text x="1576.7" y="2094.22" font-size="24.7" text-anchor="end" fill="#111">0</text>
<line x1="1586.2" y1="2085.45" x2="2130.32" y2="2085.45" stroke="#222" stroke-width="1.4"/>
<text x="0" y="0" font-size="28.34" text-anchor="middle" fill="#111" textLength="276.71" lengthAdjust="spacingAndGlyphs" transform="translate(1536.09 1938.12) rotate(-90)">Rel. mRNA expression</text>
<rect x="1624.26" y="1987.1" width="30.9" height="98.35" fill="#fff" stroke="#2a2a2a" stroke-width="1.25"/>
<rect x="1674.38" y="1949.42" width="30.52" height="136.03" fill="#cf0868" stroke="#2a2a2a" stroke-width="1.25"/>
<line x1="1689.45" y1="1949.42" x2="1689.45" y2="1940" stroke="#1a1a1a" stroke-width="1.4"/>
<line x1="1685.47" y1="1940" x2="1693.43" y2="1940" stroke="#1a1a1a" stroke-width="1.4"/>
<circle cx="1629.16" cy="1987.48" r="5.85" fill="#fff" stroke="#111" stroke-width="1.2"/>
<circle cx="1634.43" cy="1987.48" r="5.85" fill="#fff" stroke="#111" stroke-width="1.2"/>
<circle cx="1639.71" cy="1987.48" r="5.85" fill="#fff" stroke="#111" stroke-width="1.2"/>
<circle cx="1644.99" cy="1987.48" r="5.85" fill="#fff" stroke="#111" stroke-width="1.2"/>
<circle cx="1650.26" cy="1987.48" r="5.85" fill="#fff" stroke="#111" stroke-width="1.2"/>
<circle cx="1689.45" cy="1918.9" r="5.85" fill="#fff" stroke="#111" stroke-width="1.2"/>
<circle cx="1689.45" cy="1935.48" r="5.85" fill="#fff" stroke="#111" stroke-width="1.2"/>
<circle cx="1689.45" cy="1955.07" r="5.85" fill="#fff" stroke="#111" stroke-width="1.2"/>
<circle cx="1678.52" cy="1967.88" r="5.85" fill="#fff" stroke="#111" stroke-width="1.2"/>
<circle cx="1699.62" cy="1966.38" r="5.85" fill="#fff" stroke="#111" stroke-width="1.2"/>
<text x="1664.58" y="2115.22" font-size="28.34" text-anchor="middle" font-style="italic" fill="#111" textLength="60.77" lengthAdjust="spacingAndGlyphs">Ucp1</text>
<text x="1615.22" y="1841.28" font-size="19.65" fill="#111" textLength="93.31" lengthAdjust="spacingAndGlyphs"><tspan font-style="italic">P</tspan> = 0.0034</text>
<line x1="1640.46" y1="1849.19" x2="1686.81" y2="1849.19" stroke="#444" stroke-width="1.3"/>
<rect x="1757.28" y="1987.1" width="30.9" height="98.35" fill="#fff" stroke="#2a2a2a" stroke-width="1.25"/>
<rect x="1807.39" y="1960.72" width="30.52" height="124.72" fill="#cf0868" stroke="#2a2a2a" stroke-width="1.25"/>
<line x1="1822.46" y1="1960.72" x2="1822.46" y2="1948.29" stroke="#1a1a1a" stroke-width="1.4"/>
<line x1="1818.48" y1="1948.29" x2="1826.44" y2="1948.29" stroke="#1a1a1a" stroke-width="1.4"/>
<circle cx="1762.17" cy="1987.48" r="5.85" fill="#fff" stroke="#111" stroke-width="1.2"/>
<circle cx="1767.45" cy="1987.48" r="5.85" fill="#fff" stroke="#111" stroke-width="1.2"/>
<circle cx="1772.72" cy="1987.48" r="5.85" fill="#fff" stroke="#111" stroke-width="1.2"/>
<circle cx="1778" cy="1987.48" r="5.85" fill="#fff" stroke="#111" stroke-width="1.2"/>
<circle cx="1783.28" cy="1987.48" r="5.85" fill="#fff" stroke="#111" stroke-width="1.2"/>
<circle cx="1822.46" cy="1925.3" r="5.85" fill="#fff" stroke="#111" stroke-width="1.2"/>
<circle cx="1811.91" cy="1953.19" r="5.85" fill="#fff" stroke="#111" stroke-width="1.2"/>
<circle cx="1833.01" cy="1950.17" r="5.85" fill="#fff" stroke="#111" stroke-width="1.2"/>
<circle cx="1822.46" cy="1976.93" r="5.85" fill="#fff" stroke="#111" stroke-width="1.2"/>
<circle cx="1822.46" cy="1992.75" r="5.85" fill="#fff" stroke="#111" stroke-width="1.2"/>
<text x="1797.22" y="2115.22" font-size="28.34" text-anchor="middle" font-style="italic" fill="#111" textLength="75.7" lengthAdjust="spacingAndGlyphs">Pgc1a</text>
<text x="1748.99" y="1883.48" font-size="19.65" fill="#111" textLength="90.01" lengthAdjust="spacingAndGlyphs"><tspan font-style="italic">P</tspan> = 0.0441</text>
<line x1="1770.09" y1="1889.88" x2="1816.06" y2="1889.88" stroke="#444" stroke-width="1.3"/>
<rect x="1890.29" y="1987.1" width="30.9" height="98.35" fill="#fff" stroke="#2a2a2a" stroke-width="1.25"/>
<rect x="1940.41" y="1891.39" width="30.52" height="194.06" fill="#cf0868" stroke="#2a2a2a" stroke-width="1.25"/>
<line x1="1955.86" y1="1891.39" x2="1955.86" y2="1861.62" stroke="#1a1a1a" stroke-width="1.4"/>
<line x1="1951.88" y1="1861.62" x2="1959.83" y2="1861.62" stroke="#1a1a1a" stroke-width="1.4"/>
<circle cx="1895.19" cy="1987.48" r="5.85" fill="#fff" stroke="#111" stroke-width="1.2"/>
<circle cx="1900.46" cy="1987.48" r="5.85" fill="#fff" stroke="#111" stroke-width="1.2"/>
<circle cx="1905.74" cy="1987.48" r="5.85" fill="#fff" stroke="#111" stroke-width="1.2"/>
<circle cx="1911.01" cy="1987.48" r="5.85" fill="#fff" stroke="#111" stroke-width="1.2"/>
<circle cx="1916.29" cy="1987.48" r="5.85" fill="#fff" stroke="#111" stroke-width="1.2"/>
<circle cx="1955.86" cy="1821.3" r="5.85" fill="#fff" stroke="#111" stroke-width="1.2"/>
<circle cx="1945.3" cy="1861.25" r="5.85" fill="#fff" stroke="#111" stroke-width="1.2"/>
<circle cx="1966.03" cy="1855.22" r="5.85" fill="#fff" stroke="#111" stroke-width="1.2"/>
<circle cx="1945.3" cy="1960.35" r="5.85" fill="#fff" stroke="#111" stroke-width="1.2"/>
<circle cx="1966.03" cy="1950.55" r="5.85" fill="#fff" stroke="#111" stroke-width="1.2"/>
<text x="1931.74" y="2115.22" font-size="28.34" text-anchor="middle" font-style="italic" fill="#111" textLength="80.09" lengthAdjust="spacingAndGlyphs">Cox8b</text>
<text x="1887.28" y="1805.1" font-size="19.65" fill="#111" textLength="92.58" lengthAdjust="spacingAndGlyphs"><tspan font-style="italic">P</tspan> = 0.0079</text>
<line x1="1909.88" y1="1810.75" x2="1955.48" y2="1810.75" stroke="#444" stroke-width="1.3"/>
<rect x="2023.3" y="1987.1" width="30.9" height="98.35" fill="#fff" stroke="#2a2a2a" stroke-width="1.25"/>
<rect x="2073.42" y="1967.88" width="30.52" height="117.57" fill="#cf0868" stroke="#2a2a2a" stroke-width="1.25"/>
<line x1="2088.49" y1="1967.88" x2="2088.49" y2="1956.96" stroke="#1a1a1a" stroke-width="1.4"/>
<line x1="2084.51" y1="1956.96" x2="2092.47" y2="1956.96" stroke="#1a1a1a" stroke-width="1.4"/>
<circle cx="2028.2" cy="1987.48" r="5.85" fill="#fff" stroke="#111" stroke-width="1.2"/>
<circle cx="2033.48" cy="1987.48" r="5.85" fill="#fff" stroke="#111" stroke-width="1.2"/>
<circle cx="2038.75" cy="1987.48" r="5.85" fill="#fff" stroke="#111" stroke-width="1.2"/>
<circle cx="2044.03" cy="1987.48" r="5.85" fill="#fff" stroke="#111" stroke-width="1.2"/>
<circle cx="2049.3" cy="1987.48" r="5.85" fill="#fff" stroke="#111" stroke-width="1.2"/>
<circle cx="2088.49" cy="1935.48" r="5.85" fill="#fff" stroke="#111" stroke-width="1.2"/>
<circle cx="2077.94" cy="1964.12" r="5.85" fill="#fff" stroke="#111" stroke-width="1.2"/>
<circle cx="2099.04" cy="1959.97" r="5.85" fill="#fff" stroke="#111" stroke-width="1.2"/>
<circle cx="2077.94" cy="1988.23" r="5.85" fill="#fff" stroke="#111" stroke-width="1.2"/>
<circle cx="2099.04" cy="1983.71" r="5.85" fill="#fff" stroke="#111" stroke-width="1.2"/>
<text x="2065.51" y="2115.22" font-size="28.34" text-anchor="middle" font-style="italic" fill="#111" textLength="62.74" lengthAdjust="spacingAndGlyphs">Tfam</text>
<text x="2017.65" y="1897.42" font-size="19.65" fill="#111" textLength="92.07" lengthAdjust="spacingAndGlyphs"><tspan font-style="italic">P</tspan> = 0.0537</text>
<line x1="2039.51" y1="1902.32" x2="2085.48" y2="1902.32" stroke="#444" stroke-width="1.3"/>
</svg>
</body></html>
